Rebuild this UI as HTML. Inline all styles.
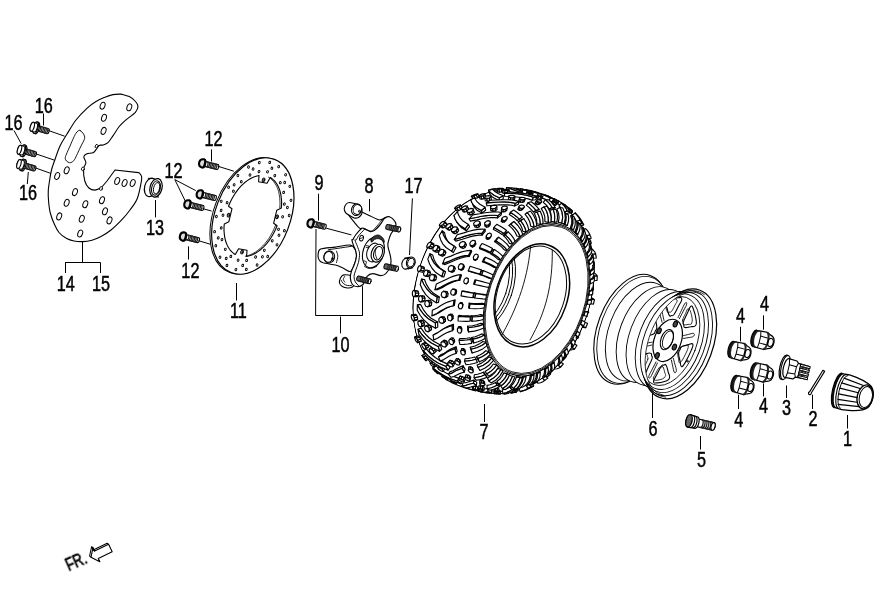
<!DOCTYPE html>
<html><head><meta charset="utf-8"><title>Front wheel parts diagram</title>
<style>
html,body{margin:0;padding:0;background:#fff;}
body{width:891px;height:602px;overflow:hidden;}
svg{display:block;}
svg text{font-family:"Liberation Sans",sans-serif;fill:#000;stroke-linejoin:miter;}
.lbl{opacity:0.999;}
.ld line{stroke:#000;stroke-width:1;stroke-linecap:butt;}
</style></head>
<body>
<svg width="891" height="602" viewBox="0 0 891 602" fill="none" stroke="#000" stroke-width="1.1" stroke-linecap="round" stroke-linejoin="round">
<rect x="0" y="0" width="891" height="602" fill="#fff" stroke="none"/>
<g id="guard">
<path d="M121.2,94.1C122.6,94.5 126.9,95.4 129.3,96.6C131.7,97.8 134.1,99.9 135.5,101.5C136.9,103.1 138,104.5 138,106.3C138,108.1 137.5,109.9 135.4,112.3C133.3,114.7 128,118 125.3,120.4C122.6,122.8 121.2,124 119.2,126.5C117.2,129 115,132.9 113.1,135.6C111.2,138.3 109.7,141 108,142.6C106.3,144.2 104.5,144.5 103,145C101.5,145.5 100.2,144.7 99,145.5C97.8,146.3 97,148.5 96,149.7C95,150.9 94.5,152 93,152.7C91.5,153.4 88.4,153 86.9,153.7C85.4,154.4 84,155.3 83.8,156.8C83.6,158.3 85.9,160.8 85.9,162.8C85.9,164.8 83.8,165.9 83.6,168.9C83.4,171.9 83.9,177.8 84.8,181C85.7,184.2 87.2,186.5 88.9,188C90.6,189.5 93,190.1 95,190.1C97,190.1 100,188.3 101,188 L107,181 L115,170 L138.5,172.6 L139.4,173C139.7,173.5 141.1,174.7 141.4,176C141.7,177.3 142.1,177.3 141.4,181C140.7,184.7 139.3,193.4 137.4,198.2C135.5,203 132.7,206.3 130,210C127.3,213.7 124.4,217.1 121.2,220.4C118,223.7 114.4,227.3 111,230C107.6,232.7 104.2,234.9 101,236.6C97.8,238.3 95,239.4 92,240.2C89,241 85.8,241.5 82.8,241.6C79.8,241.7 76.7,241.5 74,241C71.3,240.5 69.2,240 66.7,238.6C64.2,237.2 61,234.9 59,232.5C57,230.1 56,227.7 54.5,224.4C53,221.2 51.3,217 50.3,213C49.3,209 48.8,204 48.5,200.2C48.2,196.4 48.1,193.2 48.3,190C48.5,186.8 49,184.3 49.5,181C50,177.7 50.7,173.4 51.5,170C52.3,166.6 53.1,164.8 54.5,160.8C55.9,156.8 58,150.4 60,146C62,141.6 64,138.8 66.7,134.5C69.4,130.2 72.6,124.4 76,120C79.4,115.6 83.6,111.4 86.9,108.3C90.2,105.2 93,103.3 96,101.5C99,99.7 102.2,98.4 105,97.2C107.8,96 110.3,95.1 113,94.6C115.7,94.1 119.8,94.2 121.2,94.1" fill="#fff" stroke-width="1.1"/>
<path d="M80.2,130.5C81.1,131 82.8,132.7 83.5,134C84.2,135.3 85,136.5 84.6,138.5C84.2,140.5 82.2,143.5 81,146C79.8,148.5 78.6,151.2 77.5,153.5C76.4,155.8 75.3,158.4 74.4,159.8C73.5,161.2 72.8,161.5 72,162C71.2,162.5 70.4,162.9 69.5,162.7C68.6,162.5 67.2,161.8 66.5,161C65.8,160.2 65.2,159.4 65.2,158.2C65.2,157 65.7,156 66.5,154C67.3,152 68.8,148.7 70,146C71.2,143.3 72.5,140.1 73.5,138C74.5,135.9 75,134.7 75.8,133.5C76.5,132.3 77.3,131.5 78,131C78.7,130.5 79.3,130 80.2,130.5Z" stroke-width="0.9"/>
<ellipse cx="102.6" cy="105.7" rx="2.3" ry="3.6" stroke-width="1.0" transform="rotate(20 102.6 105.7)"/>
<ellipse cx="129.3" cy="107.3" rx="2.3" ry="3.6" stroke-width="1.0" transform="rotate(20 129.3 107.3)"/>
<ellipse cx="104" cy="117.8" rx="2.3" ry="3.6" stroke-width="1.0" transform="rotate(20 104 117.8)"/>
<ellipse cx="103.6" cy="130.9" rx="2.3" ry="3.6" stroke-width="1.0" transform="rotate(20 103.6 130.9)"/>
<ellipse cx="66.7" cy="170.3" rx="2.3" ry="3.6" stroke-width="1.0" transform="rotate(20 66.7 170.3)"/>
<ellipse cx="57.2" cy="176" rx="2.3" ry="3.6" stroke-width="1.0" transform="rotate(20 57.2 176)"/>
<ellipse cx="75" cy="192.1" rx="2.3" ry="3.6" stroke-width="1.0" transform="rotate(20 75 192.1)"/>
<ellipse cx="117.2" cy="181" rx="2.3" ry="3.6" stroke-width="1.0" transform="rotate(20 117.2 181)"/>
<ellipse cx="124.6" cy="183" rx="2.3" ry="3.6" stroke-width="1.0" transform="rotate(20 124.6 183)"/>
<ellipse cx="132.7" cy="183" rx="2.3" ry="3.6" stroke-width="1.0" transform="rotate(20 132.7 183)"/>
<ellipse cx="66.7" cy="202.8" rx="2.3" ry="3.6" stroke-width="1.0" transform="rotate(20 66.7 202.8)"/>
<ellipse cx="59.2" cy="216.4" rx="2.3" ry="3.6" stroke-width="1.0" transform="rotate(20 59.2 216.4)"/>
<ellipse cx="85.3" cy="204.2" rx="2.3" ry="3.6" stroke-width="1.0" transform="rotate(20 85.3 204.2)"/>
<ellipse cx="81.8" cy="218.8" rx="2.3" ry="3.6" stroke-width="1.0" transform="rotate(20 81.8 218.8)"/>
<ellipse cx="80.2" cy="233.5" rx="2.3" ry="3.6" stroke-width="1.0" transform="rotate(20 80.2 233.5)"/>
<ellipse cx="102" cy="200.2" rx="2.3" ry="3.6" stroke-width="1.0" transform="rotate(20 102 200.2)"/>
<ellipse cx="105" cy="211.3" rx="2.3" ry="3.6" stroke-width="1.0" transform="rotate(20 105 211.3)"/>
<ellipse cx="109.5" cy="220.4" rx="2.3" ry="3.6" stroke-width="1.0" transform="rotate(20 109.5 220.4)"/>
<ellipse cx="96.6" cy="146.3" rx="1.4" ry="1.9" fill="#fff" stroke-width="0.9" transform="rotate(20 96.6 146.3)"/>
<ellipse cx="82.9" cy="168.9" rx="1.4" ry="1.9" fill="#fff" stroke-width="0.9" transform="rotate(20 82.9 168.9)"/>
<ellipse cx="101" cy="188.5" rx="1.4" ry="1.9" fill="#fff" stroke-width="0.9" transform="rotate(20 101 188.5)"/>
<g transform="translate(36.8 128) rotate(16)" stroke-width="1.1" stroke="#000">
<path d="M0,-2.6 L11.5,-2.6 A1.2,2.6 0 0 1 11.5,2.6 L0,2.6 Z" fill="#fff"/>
<path d="M2.5,-2.6 A1.2,2.6 0 0 1 2.5,2.6" stroke-width="1.2" stroke="#222"/>
<path d="M4,-2.6 A1.2,2.6 0 0 1 4,2.6" stroke-width="1.2" stroke="#222"/>
<path d="M5.5,-2.6 A1.2,2.6 0 0 1 5.5,2.6" stroke-width="1.2" stroke="#222"/>
<path d="M7,-2.6 A1.2,2.6 0 0 1 7,2.6" stroke-width="1.2" stroke="#222"/>
<path d="M8.5,-2.6 A1.2,2.6 0 0 1 8.5,2.6" stroke-width="1.2" stroke="#222"/>
<path d="M10,-2.6 A1.2,2.6 0 0 1 10,2.6" stroke-width="1.2" stroke="#222"/>
<ellipse cx="0" cy="0" rx="2.3" ry="6" fill="#fff"/>
<ellipse cx="-1.2" cy="0" rx="2.3" ry="6" fill="#fff"/>
<path d="M-1.5,-4.6 L-4.7,-4.6 A1.9,4.6 0 0 0 -4.7,4.6 L-1.5,4.6 A1.9,4.6 0 0 0 -1.5,-4.6" fill="#fff"/>
<ellipse cx="-4.7" cy="0" rx="1.9" ry="4.6" fill="#fff"/>
</g>
<g transform="translate(24 151) rotate(16)" stroke-width="1.1" stroke="#000">
<path d="M0,-2.6 L11.5,-2.6 A1.2,2.6 0 0 1 11.5,2.6 L0,2.6 Z" fill="#fff"/>
<path d="M2.5,-2.6 A1.2,2.6 0 0 1 2.5,2.6" stroke-width="1.2" stroke="#222"/>
<path d="M4,-2.6 A1.2,2.6 0 0 1 4,2.6" stroke-width="1.2" stroke="#222"/>
<path d="M5.5,-2.6 A1.2,2.6 0 0 1 5.5,2.6" stroke-width="1.2" stroke="#222"/>
<path d="M7,-2.6 A1.2,2.6 0 0 1 7,2.6" stroke-width="1.2" stroke="#222"/>
<path d="M8.5,-2.6 A1.2,2.6 0 0 1 8.5,2.6" stroke-width="1.2" stroke="#222"/>
<path d="M10,-2.6 A1.2,2.6 0 0 1 10,2.6" stroke-width="1.2" stroke="#222"/>
<ellipse cx="0" cy="0" rx="2.3" ry="6" fill="#fff"/>
<ellipse cx="-1.2" cy="0" rx="2.3" ry="6" fill="#fff"/>
<path d="M-1.5,-4.6 L-4.7,-4.6 A1.9,4.6 0 0 0 -4.7,4.6 L-1.5,4.6 A1.9,4.6 0 0 0 -1.5,-4.6" fill="#fff"/>
<ellipse cx="-4.7" cy="0" rx="1.9" ry="4.6" fill="#fff"/>
</g>
<g transform="translate(23.5 165.3) rotate(16)" stroke-width="1.1" stroke="#000">
<path d="M0,-2.6 L11.5,-2.6 A1.2,2.6 0 0 1 11.5,2.6 L0,2.6 Z" fill="#fff"/>
<path d="M2.5,-2.6 A1.2,2.6 0 0 1 2.5,2.6" stroke-width="1.2" stroke="#222"/>
<path d="M4,-2.6 A1.2,2.6 0 0 1 4,2.6" stroke-width="1.2" stroke="#222"/>
<path d="M5.5,-2.6 A1.2,2.6 0 0 1 5.5,2.6" stroke-width="1.2" stroke="#222"/>
<path d="M7,-2.6 A1.2,2.6 0 0 1 7,2.6" stroke-width="1.2" stroke="#222"/>
<path d="M8.5,-2.6 A1.2,2.6 0 0 1 8.5,2.6" stroke-width="1.2" stroke="#222"/>
<path d="M10,-2.6 A1.2,2.6 0 0 1 10,2.6" stroke-width="1.2" stroke="#222"/>
<ellipse cx="0" cy="0" rx="2.3" ry="6" fill="#fff"/>
<ellipse cx="-1.2" cy="0" rx="2.3" ry="6" fill="#fff"/>
<path d="M-1.5,-4.6 L-4.7,-4.6 A1.9,4.6 0 0 0 -4.7,4.6 L-1.5,4.6 A1.9,4.6 0 0 0 -1.5,-4.6" fill="#fff"/>
<ellipse cx="-4.7" cy="0" rx="1.9" ry="4.6" fill="#fff"/>
</g>
<ellipse cx="150.6" cy="187.4" rx="6" ry="9.4" fill="#fff" stroke-width="1.2" transform="rotate(14 150.6 187.4)"/>
<path d="M148.4,178.3 L154.2,178.7 M153.0,196.5 L158.4,196.9" stroke-width="1.1"/>
<ellipse cx="156" cy="187.8" rx="6" ry="9.4" fill="#fff" stroke-width="1.2" transform="rotate(14 156 187.8)"/>
<ellipse cx="156" cy="188" rx="4.3" ry="7.3" stroke-width="1.0" transform="rotate(14 156 188)"/>
<ellipse cx="156.6" cy="188.2" rx="3" ry="5.8" stroke-width="0.9" transform="rotate(14 156.6 188.2)"/>
</g>
<g id="disc">
<ellipse cx="251.1" cy="215.8" rx="37.4" ry="60.6" fill="#fff" stroke-width="1.0" transform="rotate(21 251.1 215.8)"/>
<ellipse cx="252.8" cy="216" rx="37.4" ry="60.6" fill="#fff" stroke-width="1.2" transform="rotate(21 252.8 216)"/>
<path d="M259,175.5 L258.6,181.8 L267,183.3 L270.3,177.5 L272.2,178.8 L274,180.3 L275.6,182.2 L277,184.3 L278.3,186.6 L279.4,189.2 L280.2,192 L280.9,194.9 L281.3,198 L281.6,201.3 L281.6,204.7 L281.3,208.1 L281.3,208.1 L276.8,210.2 L273.6,223.3 L277.1,225.7 L275.4,229.7 L273.5,233.5 L271.3,237.2 L269,240.6 L266.5,243.8 L263.9,246.6 L261.1,249.2 L258.3,251.4 L255.4,253.3 L252.4,254.7 L249.5,255.8 L246.6,256.5 L246.6,256.5 L247,250.2 L238.6,248.7 L235.3,254.5 L233.4,253.2 L231.6,251.7 L230,249.8 L228.6,247.7 L227.3,245.4 L226.2,242.8 L225.4,240 L224.7,237.1 L224.3,234 L224,230.7 L224,227.3 L224.3,223.9 L224.3,223.9 L228.8,221.8 L232,208.7 L228.5,206.3 L230.2,202.3 L232.1,198.5 L234.3,194.8 L236.6,191.4 L239.1,188.2 L241.7,185.4 L244.5,182.8 L247.3,180.6 L250.2,178.7 L253.2,177.3 L256.1,176.2 L259,175.5Z" stroke-width="1.1"/>
<polyline points="268.5,177.2 270.4,178.4 272.2,180 273.8,181.8 275.3,183.9 276.6,186.2 277.7,188.7 278.6,191.5 279.2,194.4 279.7,197.5 279.9,200.8 280,204.1 279.8,207.6" stroke-width="0.8"/>
<polyline points="275.6,225.2 274.2,228.6 272.6,231.9 270.9,235.1 269,238.2 266.9,241 264.8,243.7 262.5,246.2 260.2,248.4 257.7,250.4 255.3,252.2 252.8,253.6 250.3,254.8 247.8,255.7 245.3,256.2" stroke-width="0.8"/>
<ellipse cx="263.6" cy="179.9" rx="1.3" ry="1.9" stroke-width="1.0" transform="rotate(21 263.6 179.9)"/>
<ellipse cx="263.9" cy="179.9" rx="0.6" ry="1" stroke-width="0.7" transform="rotate(21 263.9 179.9)"/>
<ellipse cx="277" cy="216.8" rx="1.3" ry="1.9" stroke-width="1.0" transform="rotate(21 277 216.8)"/>
<ellipse cx="277.3" cy="216.8" rx="0.6" ry="1" stroke-width="0.7" transform="rotate(21 277.3 216.8)"/>
<ellipse cx="242" cy="252.1" rx="1.3" ry="1.9" stroke-width="1.0" transform="rotate(21 242 252.1)"/>
<ellipse cx="242.3" cy="252.1" rx="0.6" ry="1" stroke-width="0.7" transform="rotate(21 242.3 252.1)"/>
<ellipse cx="228.6" cy="215.2" rx="1.3" ry="1.9" stroke-width="1.0" transform="rotate(21 228.6 215.2)"/>
<ellipse cx="228.9" cy="215.2" rx="0.6" ry="1" stroke-width="0.7" transform="rotate(21 228.9 215.2)"/>
<ellipse cx="278.5" cy="229.3" rx="0.9" ry="1.2" stroke-width="0.9" transform="rotate(21 278.5 229.3)"/>
<ellipse cx="279" cy="235.2" rx="0.9" ry="1.2" stroke-width="0.9" transform="rotate(21 279 235.2)"/>
<ellipse cx="284.4" cy="230.7" rx="0.9" ry="1.2" stroke-width="0.9" transform="rotate(21 284.4 230.7)"/>
<ellipse cx="272.2" cy="240.8" rx="0.9" ry="1.2" stroke-width="0.9" transform="rotate(21 272.2 240.8)"/>
<ellipse cx="277" cy="244.8" rx="0.9" ry="1.2" stroke-width="0.9" transform="rotate(21 277 244.8)"/>
<ellipse cx="264.3" cy="250.3" rx="0.9" ry="1.2" stroke-width="0.9" transform="rotate(21 264.3 250.3)"/>
<ellipse cx="262.4" cy="256.8" rx="0.9" ry="1.2" stroke-width="0.9" transform="rotate(21 262.4 256.8)"/>
<ellipse cx="267.7" cy="256.5" rx="0.9" ry="1.2" stroke-width="0.9" transform="rotate(21 267.7 256.5)"/>
<ellipse cx="255.6" cy="257" rx="0.9" ry="1.2" stroke-width="0.9" transform="rotate(21 255.6 257)"/>
<ellipse cx="257.1" cy="265" rx="0.9" ry="1.2" stroke-width="0.9" transform="rotate(21 257.1 265)"/>
<ellipse cx="246.6" cy="260.4" rx="0.9" ry="1.2" stroke-width="0.9" transform="rotate(21 246.6 260.4)"/>
<ellipse cx="242.7" cy="265.4" rx="0.9" ry="1.2" stroke-width="0.9" transform="rotate(21 242.7 265.4)"/>
<ellipse cx="246.3" cy="269.4" rx="0.9" ry="1.2" stroke-width="0.9" transform="rotate(21 246.3 269.4)"/>
<ellipse cx="238.1" cy="260.2" rx="0.9" ry="1.2" stroke-width="0.9" transform="rotate(21 238.1 260.2)"/>
<ellipse cx="235.9" cy="269.6" rx="0.9" ry="1.2" stroke-width="0.9" transform="rotate(21 235.9 269.6)"/>
<ellipse cx="230.8" cy="256.4" rx="0.9" ry="1.2" stroke-width="0.9" transform="rotate(21 230.8 256.4)"/>
<ellipse cx="226.2" cy="258.4" rx="0.9" ry="1.2" stroke-width="0.9" transform="rotate(21 226.2 258.4)"/>
<ellipse cx="226.9" cy="265.4" rx="0.9" ry="1.2" stroke-width="0.9" transform="rotate(21 226.9 265.4)"/>
<ellipse cx="225.3" cy="249.3" rx="0.9" ry="1.2" stroke-width="0.9" transform="rotate(21 225.3 249.3)"/>
<ellipse cx="220" cy="257.2" rx="0.9" ry="1.2" stroke-width="0.9" transform="rotate(21 220 257.2)"/>
<ellipse cx="222" cy="239.6" rx="0.9" ry="1.2" stroke-width="0.9" transform="rotate(21 222 239.6)"/>
<ellipse cx="218.2" cy="237.9" rx="0.9" ry="1.2" stroke-width="0.9" transform="rotate(21 218.2 237.9)"/>
<ellipse cx="215.8" cy="245.7" rx="0.9" ry="1.2" stroke-width="0.9" transform="rotate(21 215.8 245.7)"/>
<ellipse cx="221.2" cy="227.9" rx="0.9" ry="1.2" stroke-width="0.9" transform="rotate(21 221.2 227.9)"/>
<ellipse cx="214.6" cy="231.7" rx="0.9" ry="1.2" stroke-width="0.9" transform="rotate(21 214.6 231.7)"/>
<ellipse cx="223" cy="215.2" rx="0.9" ry="1.2" stroke-width="0.9" transform="rotate(21 223 215.2)"/>
<ellipse cx="221.1" cy="210.4" rx="0.9" ry="1.2" stroke-width="0.9" transform="rotate(21 221.1 210.4)"/>
<ellipse cx="216.4" cy="216.5" rx="0.9" ry="1.2" stroke-width="0.9" transform="rotate(21 216.4 216.5)"/>
<ellipse cx="227.1" cy="202.7" rx="0.9" ry="1.2" stroke-width="0.9" transform="rotate(21 227.1 202.7)"/>
<ellipse cx="221.2" cy="201.3" rx="0.9" ry="1.2" stroke-width="0.9" transform="rotate(21 221.2 201.3)"/>
<ellipse cx="233.4" cy="191.2" rx="0.9" ry="1.2" stroke-width="0.9" transform="rotate(21 233.4 191.2)"/>
<ellipse cx="234.1" cy="184.8" rx="0.9" ry="1.2" stroke-width="0.9" transform="rotate(21 234.1 184.8)"/>
<ellipse cx="228.6" cy="187.2" rx="0.9" ry="1.2" stroke-width="0.9" transform="rotate(21 228.6 187.2)"/>
<ellipse cx="241.3" cy="181.7" rx="0.9" ry="1.2" stroke-width="0.9" transform="rotate(21 241.3 181.7)"/>
<ellipse cx="237.9" cy="175.5" rx="0.9" ry="1.2" stroke-width="0.9" transform="rotate(21 237.9 175.5)"/>
<ellipse cx="250" cy="175" rx="0.9" ry="1.2" stroke-width="0.9" transform="rotate(21 250 175)"/>
<ellipse cx="253.1" cy="169" rx="0.9" ry="1.2" stroke-width="0.9" transform="rotate(21 253.1 169)"/>
<ellipse cx="248.5" cy="167" rx="0.9" ry="1.2" stroke-width="0.9" transform="rotate(21 248.5 167)"/>
<ellipse cx="259" cy="171.6" rx="0.9" ry="1.2" stroke-width="0.9" transform="rotate(21 259 171.6)"/>
<ellipse cx="259.3" cy="162.6" rx="0.9" ry="1.2" stroke-width="0.9" transform="rotate(21 259.3 162.6)"/>
<ellipse cx="267.5" cy="171.8" rx="0.9" ry="1.2" stroke-width="0.9" transform="rotate(21 267.5 171.8)"/>
<ellipse cx="271.9" cy="168.2" rx="0.9" ry="1.2" stroke-width="0.9" transform="rotate(21 271.9 168.2)"/>
<ellipse cx="269.7" cy="162.4" rx="0.9" ry="1.2" stroke-width="0.9" transform="rotate(21 269.7 162.4)"/>
<ellipse cx="274.8" cy="175.6" rx="0.9" ry="1.2" stroke-width="0.9" transform="rotate(21 274.8 175.6)"/>
<ellipse cx="278.7" cy="166.6" rx="0.9" ry="1.2" stroke-width="0.9" transform="rotate(21 278.7 166.6)"/>
<ellipse cx="280.3" cy="182.7" rx="0.9" ry="1.2" stroke-width="0.9" transform="rotate(21 280.3 182.7)"/>
<ellipse cx="284.7" cy="182.5" rx="0.9" ry="1.2" stroke-width="0.9" transform="rotate(21 284.7 182.5)"/>
<ellipse cx="285.6" cy="174.8" rx="0.9" ry="1.2" stroke-width="0.9" transform="rotate(21 285.6 174.8)"/>
<ellipse cx="283.6" cy="192.4" rx="0.9" ry="1.2" stroke-width="0.9" transform="rotate(21 283.6 192.4)"/>
<ellipse cx="289.8" cy="186.3" rx="0.9" ry="1.2" stroke-width="0.9" transform="rotate(21 289.8 186.3)"/>
<ellipse cx="284.4" cy="204.1" rx="0.9" ry="1.2" stroke-width="0.9" transform="rotate(21 284.4 204.1)"/>
<ellipse cx="287.4" cy="207.5" rx="0.9" ry="1.2" stroke-width="0.9" transform="rotate(21 287.4 207.5)"/>
<ellipse cx="291" cy="200.3" rx="0.9" ry="1.2" stroke-width="0.9" transform="rotate(21 291 200.3)"/>
<ellipse cx="282.6" cy="216.8" rx="0.9" ry="1.2" stroke-width="0.9" transform="rotate(21 282.6 216.8)"/>
<ellipse cx="289.2" cy="215.5" rx="0.9" ry="1.2" stroke-width="0.9" transform="rotate(21 289.2 215.5)"/>
<g transform="translate(201.4 163) rotate(14)" stroke-width="1.1" stroke="#000">
<path d="M3,-2.5 L16.5,-2.5 A1.2,2.5 0 0 1 16.5,2.5 L3,2.5 Z" fill="#fff"/>
<path d="M5.5,-2.5 A1.2,2.5 0 0 1 5.5,2.5" stroke-width="1.25" stroke="#222"/>
<path d="M7,-2.5 A1.2,2.5 0 0 1 7,2.5" stroke-width="1.25" stroke="#222"/>
<path d="M8.5,-2.5 A1.2,2.5 0 0 1 8.5,2.5" stroke-width="1.25" stroke="#222"/>
<path d="M10,-2.5 A1.2,2.5 0 0 1 10,2.5" stroke-width="1.25" stroke="#222"/>
<path d="M11.5,-2.5 A1.2,2.5 0 0 1 11.5,2.5" stroke-width="1.25" stroke="#222"/>
<path d="M13,-2.5 A1.2,2.5 0 0 1 13,2.5" stroke-width="1.25" stroke="#222"/>
<path d="M14.5,-2.5 A1.2,2.5 0 0 1 14.5,2.5" stroke-width="1.25" stroke="#222"/>
<ellipse cx="2.2" cy="0" rx="2" ry="4.2" fill="#fff" stroke-width="1.5"/>
<path d="M1.6,-4.2 C-3.6,-3.8 -3.6,3.8 1.6,4.2 A2,4.2 0 0 0 1.6,-4.2 Z" fill="#ddd" stroke-width="2.1"/>
</g>
<g transform="translate(199 194) rotate(14)" stroke-width="1.1" stroke="#000">
<path d="M3,-2.5 L16.5,-2.5 A1.2,2.5 0 0 1 16.5,2.5 L3,2.5 Z" fill="#fff"/>
<path d="M5.5,-2.5 A1.2,2.5 0 0 1 5.5,2.5" stroke-width="1.25" stroke="#222"/>
<path d="M7,-2.5 A1.2,2.5 0 0 1 7,2.5" stroke-width="1.25" stroke="#222"/>
<path d="M8.5,-2.5 A1.2,2.5 0 0 1 8.5,2.5" stroke-width="1.25" stroke="#222"/>
<path d="M10,-2.5 A1.2,2.5 0 0 1 10,2.5" stroke-width="1.25" stroke="#222"/>
<path d="M11.5,-2.5 A1.2,2.5 0 0 1 11.5,2.5" stroke-width="1.25" stroke="#222"/>
<path d="M13,-2.5 A1.2,2.5 0 0 1 13,2.5" stroke-width="1.25" stroke="#222"/>
<path d="M14.5,-2.5 A1.2,2.5 0 0 1 14.5,2.5" stroke-width="1.25" stroke="#222"/>
<ellipse cx="2.2" cy="0" rx="2" ry="4.2" fill="#fff" stroke-width="1.5"/>
<path d="M1.6,-4.2 C-3.6,-3.8 -3.6,3.8 1.6,4.2 A2,4.2 0 0 0 1.6,-4.2 Z" fill="#ddd" stroke-width="2.1"/>
</g>
<g transform="translate(186.6 204) rotate(14)" stroke-width="1.1" stroke="#000">
<path d="M3,-2.5 L16.5,-2.5 A1.2,2.5 0 0 1 16.5,2.5 L3,2.5 Z" fill="#fff"/>
<path d="M5.5,-2.5 A1.2,2.5 0 0 1 5.5,2.5" stroke-width="1.25" stroke="#222"/>
<path d="M7,-2.5 A1.2,2.5 0 0 1 7,2.5" stroke-width="1.25" stroke="#222"/>
<path d="M8.5,-2.5 A1.2,2.5 0 0 1 8.5,2.5" stroke-width="1.25" stroke="#222"/>
<path d="M10,-2.5 A1.2,2.5 0 0 1 10,2.5" stroke-width="1.25" stroke="#222"/>
<path d="M11.5,-2.5 A1.2,2.5 0 0 1 11.5,2.5" stroke-width="1.25" stroke="#222"/>
<path d="M13,-2.5 A1.2,2.5 0 0 1 13,2.5" stroke-width="1.25" stroke="#222"/>
<path d="M14.5,-2.5 A1.2,2.5 0 0 1 14.5,2.5" stroke-width="1.25" stroke="#222"/>
<ellipse cx="2.2" cy="0" rx="2" ry="4.2" fill="#fff" stroke-width="1.5"/>
<path d="M1.6,-4.2 C-3.6,-3.8 -3.6,3.8 1.6,4.2 A2,4.2 0 0 0 1.6,-4.2 Z" fill="#ddd" stroke-width="2.1"/>
</g>
<g transform="translate(182.2 236.2) rotate(14)" stroke-width="1.1" stroke="#000">
<path d="M3,-2.5 L16.5,-2.5 A1.2,2.5 0 0 1 16.5,2.5 L3,2.5 Z" fill="#fff"/>
<path d="M5.5,-2.5 A1.2,2.5 0 0 1 5.5,2.5" stroke-width="1.25" stroke="#222"/>
<path d="M7,-2.5 A1.2,2.5 0 0 1 7,2.5" stroke-width="1.25" stroke="#222"/>
<path d="M8.5,-2.5 A1.2,2.5 0 0 1 8.5,2.5" stroke-width="1.25" stroke="#222"/>
<path d="M10,-2.5 A1.2,2.5 0 0 1 10,2.5" stroke-width="1.25" stroke="#222"/>
<path d="M11.5,-2.5 A1.2,2.5 0 0 1 11.5,2.5" stroke-width="1.25" stroke="#222"/>
<path d="M13,-2.5 A1.2,2.5 0 0 1 13,2.5" stroke-width="1.25" stroke="#222"/>
<path d="M14.5,-2.5 A1.2,2.5 0 0 1 14.5,2.5" stroke-width="1.25" stroke="#222"/>
<ellipse cx="2.2" cy="0" rx="2" ry="4.2" fill="#fff" stroke-width="1.5"/>
<path d="M1.6,-4.2 C-3.6,-3.8 -3.6,3.8 1.6,4.2 A2,4.2 0 0 0 1.6,-4.2 Z" fill="#ddd" stroke-width="2.1"/>
</g>
</g>
<g id="hub">
<path d="M348.5,214.8C349.2,215.8 351.2,218.5 353,220.6C354.7,222.8 358.2,226.6 359.2,227.8 L361.9,228.5 L370,231.9 L374.5,230.5 L379.9,225.1 L384.8,218.4 L388.9,216.6 L385.3,217.5 L381.7,219.3 L377.2,219.3 L369.1,215.4 L361.9,212.1Z" fill="#fff" stroke-width="1.1" stroke="none"/>
<path d="M361.9,212.1C363.4,212.8 366.1,214 369.1,215.4C372.2,216.9 375,218.4 377.2,219.3C379.3,220.2 378.8,220 379.9,219.9C381,219.9 381.5,219.5 382.6,219C383.7,218.5 384,218 385.3,217.5C386.5,217 388.1,216.8 388.9,216.6" stroke-width="1.1"/>
<path d="M348.5,214.8C349.1,215.6 351.5,218.9 353,220.6C354.4,222.4 358,226.8 359.2,227.8C360.4,228.9 361.6,228.5 361.9,228.5" stroke-width="1.1"/>
<path d="M361.9,228.5C362.8,228.9 364.7,229.8 366.4,230.5C368.1,231.2 368.8,232 370.5,232C372.1,232 372.6,231.9 374.5,230.5C376.4,229.1 378.1,227.2 379.9,225.1C381.7,223.1 382.2,221.7 383.5,220.2C384.7,218.7 385.6,218.3 386.2,217.8" stroke-width="1.0"/>
<path d="M365.1,228.9C366.1,229.3 368.8,230.8 370.5,231C372.2,231.1 372,231 373.6,229.6C375.2,228.3 376.7,226.4 378.5,224.2C380.3,222.1 381.8,220.1 382.6,219" stroke-width="0.8"/>
<path d="M349.8,202.5C347.9,202.4 347.1,203 346.2,204C345.3,205 344.4,207.1 344.2,208.5C344.1,209.9 344.9,211.5 345.6,212.6C346.3,213.6 347,213.9 348.5,214.8C349.9,215.7 352.6,217.5 354.3,218C356,218.4 357.3,218.1 358.5,217.5C359.7,216.9 360.9,215.3 361.5,214.4C362,213.5 361.9,213.2 361.9,212.1C362,211.1 362.2,209.3 361.8,208.1C361.3,206.9 359.9,205.5 359.2,204.9C358.6,204.3 359.5,204.9 357.9,204.5C356.3,204.1 351.8,202.6 349.8,202.5Z" fill="#fff" stroke-width="1.1"/>
<ellipse cx="356.5" cy="209.7" rx="5" ry="5.9" fill="#fff" stroke-width="1.0" transform="rotate(15 356.5 209.7)"/>
<ellipse cx="357.3" cy="209.5" rx="4.2" ry="5" fill="#fff" stroke-width="1.0" transform="rotate(15 357.3 209.5)"/>
<ellipse cx="359.4" cy="211.3" rx="0.9" ry="1.2" stroke-width="0.8" transform="rotate(15 359.4 211.3)"/>
<path d="M320.6,249.1C323.2,248 330.8,247.7 335.3,247.1C339.7,246.5 347.4,244.6 350.4,245.1C353.4,245.5 354.5,248.5 355.5,250.1C356.4,251.8 356.6,254.1 356.5,256.2C356.3,258.3 355.4,262 354.4,264.3C353.5,266.6 352.1,270.7 350.4,271.4C348.7,272 345.5,269.2 343.3,268.3C341.2,267.4 339.3,266.1 336.3,265.3C333.2,264.5 325.7,263.5 323.1,262.8C320.6,262 320.1,261.5 319.3,260.2C318.5,259 317.9,256.4 318.1,254.7C318.3,253 318,250.3 320.6,249.1Z" fill="#fff" stroke-width="1.1"/>
<line x1="328.2" y1="249.8" x2="351.4" y2="246.3" stroke-width="0.9"/>
<ellipse cx="329.2" cy="256.9" rx="5.4" ry="6" fill="#fff" stroke-width="1.0" transform="rotate(12 329.2 256.9)"/>
<path d="M336.5,251.2C336.7,252 337.8,254.3 337.8,256.2C337.8,258.1 336.7,261.4 336.5,262.5" stroke-width="0.9"/>
<ellipse cx="328.5" cy="256.9" rx="4.4" ry="5.5" fill="#fff" stroke-width="1.0" transform="rotate(12 328.5 256.9)"/>
<ellipse cx="332.4" cy="258.7" rx="0.9" ry="1.3" stroke-width="0.8" transform="rotate(12 332.4 258.7)"/>
<path d="M343.8,274.9C341.8,275.2 341,277.1 340.3,278.4C339.6,279.8 339.2,281.6 339.5,283C339.8,284.3 341,285.7 342.3,286.5C343.6,287.3 345.7,287.9 347.4,288C349.1,288.1 351.2,287.8 352.4,287C353.6,286.3 354.4,285.2 354.4,283.5C354.4,281.7 354.2,277.8 352.4,276.4C350.7,275 345.9,274.6 343.8,274.9Z" fill="#fff" stroke-width="1.1"/>
<path d="M341.3,280.4C341.6,280.9 342.3,282.6 343.3,283.5C344.3,284.3 346,285.2 347.4,285.5C348.7,285.8 350.7,285.5 351.4,285.5" stroke-width="0.9"/>
<path d="M344.8,276.4C344.6,276.9 343.3,278.5 343.3,279.4C343.3,280.4 344.6,281.5 344.8,282" stroke-width="0.9"/>
<path d="M361.9,228.3C363.4,227.3 363.2,228.4 364.6,228.9C366,229.5 368.8,231.4 370.5,231.6C372.1,231.8 372.9,231.4 374.5,230.3C376.1,229.2 378.3,226.8 379.9,225C381.5,223.1 382.8,220.3 383.9,219C385,217.7 385.7,217.4 386.6,217.1C387.5,216.7 388.2,216.3 389.3,216.7C390.4,217.1 392.2,218 393.3,219.3C394.5,220.6 396,222.5 396,224.2C396.1,226 394.7,227.9 393.8,229.6C392.9,231.3 391.6,232.6 390.7,234.6C389.8,236.5 388.9,239.3 388.4,241.3C388,243.3 387.6,243.8 388,246.6C388.4,249.4 390.4,254.9 390.8,258.2C391.2,261.5 391.1,263.7 390.3,266.3C389.5,268.9 387.4,272 385.8,273.6C384.2,275.1 382.9,275.6 380.7,275.6C378.5,275.6 374.9,273.4 372.6,273.6C370.4,273.7 368.7,274.6 367.1,276.4C365.5,278.2 364.6,282.8 363,284.5C361.4,286.2 359.2,286.7 357.5,286.7C355.7,286.7 353.6,285.9 352.4,284.5C351.2,283.1 350.6,280.6 350.4,278.4C350.2,276.2 350.7,273.7 351.4,271.4C352.1,269 353.6,266.8 354.4,264.3C355.3,261.8 356.3,258.6 356.5,256.2C356.6,253.8 356,252 355.5,250.1C354.9,248.3 354,246.8 353.4,245.1C352.8,243.4 352,241 351.9,240C351.8,239.1 352.3,240.3 353,239.5C353.6,238.7 354.2,236.9 355.6,235C357.1,233.1 360.4,229.3 361.9,228.3Z" fill="#fff" stroke-width="1.15"/>
<path d="M364.6,229.2C363.6,230.3 359.9,234.1 358.5,235.9C357.1,237.7 356.9,239.3 356.3,239.9C355.7,240.6 354.8,239 354.9,240C355.1,241.1 356.5,243.9 357.3,246.1C358,248.3 359.3,250.5 359.5,253.2C359.7,255.9 359.1,259.4 358.5,262.3C357.8,265.1 356.4,268 355.7,270.3C354.9,272.7 354.1,274.5 354,276.4C354,278.3 354.5,280.4 355.3,282C356,283.5 357.9,284.9 358.5,285.5" stroke-width="0.95"/>
<ellipse cx="361.5" cy="238.2" rx="1.9" ry="2.9" stroke-width="1.0" transform="rotate(15 361.5 238.2)"/>
<line x1="360.1" y1="238.6" x2="362.6" y2="237.7" stroke-width="0.7"/>
<ellipse cx="373.4" cy="252.2" rx="10.3" ry="16" fill="#fff" stroke-width="1.1" transform="rotate(18 373.4 252.2)"/>
<path d="M370.9,239.5C371.4,238.5 373.2,236.6 374.5,235.9C375.8,235.2 377.6,234.8 379,235.2C380.4,235.6 382.1,237 383,238.2C383.9,239.3 384.6,241.9 384.4,242.2C384.1,242.5 382.7,240.5 381.7,239.9C380.6,239.3 379.3,238.7 378.1,238.6C376.9,238.5 375.5,238.9 374.5,239.5C373.5,240.1 372.4,242.2 371.8,242.2C371.2,242.2 370.5,240.5 370.9,239.5Z" fill="#333" stroke-width="0.8"/>
<ellipse cx="373.6" cy="252.5" rx="6.6" ry="9.6" fill="#fff" stroke-width="1.0" transform="rotate(18 373.6 252.5)"/>
<ellipse cx="377.7" cy="253.2" rx="6.2" ry="9.2" fill="#fff" stroke-width="1.1" transform="rotate(18 377.7 253.2)"/>
<ellipse cx="378" cy="253.2" rx="4.2" ry="6.9" fill="#fff" stroke-width="1.0" transform="rotate(18 378 253.2)"/>
<path d="M376.2,248.1C376,249 375,251.4 375.2,253.2C375.3,254.9 376.6,257.8 376.9,258.7" stroke-width="0.9"/>
<polyline points="366.1,245.6 369.1,246.1 368.6,247.9 366.1,247.3" stroke-width="0.8"/>
<polyline points="364,260.7 366.6,261.8 365.4,265.3" stroke-width="0.8"/>
<path d="M364.5,266.3C365.1,266.6 366.7,268 368.1,268.3C369.4,268.6 371.2,268.5 372.6,268.1C374.1,267.8 376,266.6 376.7,266.3" stroke-width="0.9"/>
<g transform="translate(387.1 226.9) rotate(12)" stroke="#000" stroke-width="1">
<path d="M0,-2.5 L12.5,-2.5 A1.3,2.5 0 0 1 12.5,2.5 L0,2.5 A1.3,2.5 0 0 1 0,-2.5 Z" fill="#666"/>
<path d="M1.5,-2.5 A1.3,2.5 0 0 1 1.5,2.5" stroke="#222" stroke-width="1.1"/>
<path d="M3.3,-2.5 A1.3,2.5 0 0 1 3.3,2.5" stroke="#222" stroke-width="1.1"/>
<path d="M5.1,-2.5 A1.3,2.5 0 0 1 5.1,2.5" stroke="#222" stroke-width="1.1"/>
<path d="M6.9,-2.5 A1.3,2.5 0 0 1 6.9,2.5" stroke="#222" stroke-width="1.1"/>
<path d="M8.7,-2.5 A1.3,2.5 0 0 1 8.7,2.5" stroke="#222" stroke-width="1.1"/>
<ellipse cx="12.5" cy="0" rx="1.3" ry="2.5" fill="#fff" stroke-width="0.9"/>
</g>
<g transform="translate(385.3 266.3) rotate(12)" stroke="#000" stroke-width="1">
<path d="M0,-2.5 L12,-2.5 A1.3,2.5 0 0 1 12,2.5 L0,2.5 A1.3,2.5 0 0 1 0,-2.5 Z" fill="#666"/>
<path d="M1.5,-2.5 A1.3,2.5 0 0 1 1.5,2.5" stroke="#222" stroke-width="1.1"/>
<path d="M3.3,-2.5 A1.3,2.5 0 0 1 3.3,2.5" stroke="#222" stroke-width="1.1"/>
<path d="M5.1,-2.5 A1.3,2.5 0 0 1 5.1,2.5" stroke="#222" stroke-width="1.1"/>
<path d="M6.9,-2.5 A1.3,2.5 0 0 1 6.9,2.5" stroke="#222" stroke-width="1.1"/>
<path d="M8.7,-2.5 A1.3,2.5 0 0 1 8.7,2.5" stroke="#222" stroke-width="1.1"/>
<ellipse cx="12" cy="0" rx="1.3" ry="2.5" fill="#fff" stroke-width="0.9"/>
</g>
<g transform="translate(358 278.4) rotate(14)" stroke="#000" stroke-width="1">
<path d="M0,-2.5 L12,-2.5 A1.3,2.5 0 0 1 12,2.5 L0,2.5 A1.3,2.5 0 0 1 0,-2.5 Z" fill="#666"/>
<path d="M1.5,-2.5 A1.3,2.5 0 0 1 1.5,2.5" stroke="#222" stroke-width="1.1"/>
<path d="M3.3,-2.5 A1.3,2.5 0 0 1 3.3,2.5" stroke="#222" stroke-width="1.1"/>
<path d="M5.1,-2.5 A1.3,2.5 0 0 1 5.1,2.5" stroke="#222" stroke-width="1.1"/>
<path d="M6.9,-2.5 A1.3,2.5 0 0 1 6.9,2.5" stroke="#222" stroke-width="1.1"/>
<path d="M8.7,-2.5 A1.3,2.5 0 0 1 8.7,2.5" stroke="#222" stroke-width="1.1"/>
<ellipse cx="12" cy="0" rx="1.3" ry="2.5" fill="#fff" stroke-width="0.9"/>
</g>
<g transform="translate(309.8 223) rotate(14)" stroke-width="1.1" stroke="#000">
<path d="M3,-2.5 L15.5,-2.5 A1.2,2.5 0 0 1 15.5,2.5 L3,2.5 Z" fill="#fff"/>
<path d="M5.5,-2.5 A1.2,2.5 0 0 1 5.5,2.5" stroke-width="1.25" stroke="#222"/>
<path d="M6.8,-2.5 A1.2,2.5 0 0 1 6.8,2.5" stroke-width="1.25" stroke="#222"/>
<path d="M8.2,-2.5 A1.2,2.5 0 0 1 8.2,2.5" stroke-width="1.25" stroke="#222"/>
<path d="M9.5,-2.5 A1.2,2.5 0 0 1 9.5,2.5" stroke-width="1.25" stroke="#222"/>
<path d="M10.8,-2.5 A1.2,2.5 0 0 1 10.8,2.5" stroke-width="1.25" stroke="#222"/>
<path d="M12.2,-2.5 A1.2,2.5 0 0 1 12.2,2.5" stroke-width="1.25" stroke="#222"/>
<path d="M13.5,-2.5 A1.2,2.5 0 0 1 13.5,2.5" stroke-width="1.25" stroke="#222"/>
<ellipse cx="2.2" cy="0" rx="2" ry="4.2" fill="#fff" stroke-width="1.5"/>
<path d="M1.6,-4.2 C-3.6,-3.8 -3.6,3.8 1.6,4.2 A2,4.2 0 0 0 1.6,-4.2 Z" fill="#ddd" stroke-width="2.1"/>
</g>
<ellipse cx="406.2" cy="263.6" rx="4.3" ry="5.6" fill="#fff" stroke-width="1.1" transform="rotate(18 406.2 263.6)"/>
<line x1="404.6" y1="258.4" x2="409.6" y2="257.2" stroke-width="1.1"/>
<line x1="408" y1="268.9" x2="412.6" y2="267.8" stroke-width="1.1"/>
<ellipse cx="410.8" cy="262.5" rx="4.3" ry="5.6" fill="#fff" stroke-width="1.1" transform="rotate(18 410.8 262.5)"/>
<ellipse cx="411" cy="262.5" rx="3.2" ry="4.5" stroke-width="0.9" transform="rotate(18 411 262.5)"/>
</g>
<g id="tire">
<g stroke-width="1.15" stroke="#000">
<polygon points="536.1,298.2 535.4,300.6 535.7,300.7 536.4,298.3" fill="#fff"/>
<polygon points="535.4,300.6 536.7,302.6 536.8,302.5 535.7,300.7" fill="#fff"/>
<polygon points="538.4,297.2 536.1,298.2 536.4,298.3 538.4,297.3" fill="#fff"/>
<polygon points="536.7,302.6 539.7,303.4 539.4,303.2 536.8,302.5" fill="#fff"/>
<polygon points="541.4,297.9 538.4,297.2 538.4,297.3 541.1,297.9" fill="#fff"/>
<polygon points="539.7,303.4 542.1,302.4 541.6,302.2 539.4,303.2" fill="#fff"/>
<polygon points="542.8,299.9 541.4,297.9 541.1,297.9 542.3,299.8" fill="#fff"/>
<polygon points="542.1,302.4 542.8,299.9 542.3,299.8 541.6,302.2" fill="#fff"/>
<polygon points="526.9,321.8 525.8,324 526.3,323.4 527.4,321.3" fill="#fff"/>
<polygon points="525.8,324 526.8,326 527.1,325.3 526.3,323.4" fill="#fff"/>
<polygon points="526.8,326 529.6,327.2 529.7,326.3 527.1,325.3" fill="#fff"/>
<polygon points="532.1,326.5 533.3,324.2 533.1,323.4 532,325.6" fill="#fff"/>
<polygon points="529.6,327.2 532.1,326.5 532,325.6 529.7,326.3" fill="#fff"/>
<polygon points="541.4,273.7 541,276.1 541.2,276.8 541.5,274.4" fill="#fff"/>
<polygon points="543.4,272.4 541.4,273.7 541.5,274.4 543.3,273.2" fill="#fff"/>
<polygon points="546.5,272.8 543.4,272.4 543.3,273.2 546,273.5" fill="#fff"/>
<polygon points="547.9,277.1 548.2,274.6 547.6,275.3 547.2,277.7" fill="#fff"/>
<polygon points="548.2,274.6 546.5,272.8 546,273.5 547.6,275.3" fill="#fff"/>
<polygon points="549.6,303.3 551.8,303.9 550.5,303.6 548.5,303" fill="#fff"/>
<polygon points="553.5,298.2 551.2,297.7 550.1,297.5 552.1,298.1" fill="#fff"/>
<polygon points="551.8,303.9 553.7,302.7 552.3,302.4 550.5,303.6" fill="#fff"/>
<polygon points="554.4,300.1 553.5,298.2 552.1,298.1 553,299.9" fill="#fff"/>
<polygon points="553.7,302.7 554.4,300.1 553,299.9 552.3,302.4" fill="#fff"/>
<polygon points="539.6,328 541.8,328.7 540.8,327.6 538.8,326.9" fill="#fff"/>
<polygon points="545,325.3 544.3,323.4 543.3,322.5 543.9,324.3" fill="#fff"/>
<polygon points="541.8,328.7 543.8,327.7 542.7,326.6 540.8,327.6" fill="#fff"/>
<polygon points="543.8,327.7 545,325.3 543.9,324.3 542.7,326.6" fill="#fff"/>
<polygon points="514.2,342.7 512.8,344.6 513.7,343.5 515.1,341.7" fill="#fff"/>
<polygon points="512.8,344.6 513.5,346.6 514.2,345.4 513.7,343.5" fill="#fff"/>
<polygon points="513.5,346.6 516.2,348.1 516.6,346.6 514.2,345.4" fill="#fff"/>
<polygon points="518.8,347.7 520.2,345.8 520.4,344.4 519,346.3" fill="#fff"/>
<polygon points="516.2,348.1 518.8,347.7 519,346.3 516.6,346.6" fill="#fff"/>
<polygon points="557.6,278 559.2,276.7 557.6,277.2 556.1,278.4" fill="#fff"/>
<polygon points="558.2,272.3 556,271.9 554.7,272.5 556.8,272.9" fill="#fff"/>
<polygon points="559.2,276.7 559.5,274.2 557.9,274.7 557.6,277.2" fill="#fff"/>
<polygon points="559.5,274.2 558.2,272.3 556.8,272.9 557.9,274.7" fill="#fff"/>
<polygon points="541.9,318.6 548,315.8 553.9,313.6 560,312.1 567.5,311.7 565.4,311 558.1,311.4 552.3,312.9 546.7,315 541.1,317.8" fill="#fff"/>
<polygon points="567.5,311.7 569.2,306.1 567.1,305.6 565.4,311" fill="#fff"/>
<polygon points="562.5,297.8 560.3,297.2 558.6,297 560.7,297.5" fill="#fff"/>
<polygon points="560.9,303.5 562.8,302.3 560.9,301.9 559.2,303.1" fill="#fff"/>
<polygon points="563.5,299.7 562.5,297.8 560.7,297.5 561.6,299.4" fill="#fff"/>
<polygon points="562.8,302.3 563.5,299.7 561.6,299.4 560.9,301.9" fill="#fff"/>
<polygon points="549.1,328.1 551.2,328.7 549.7,327.5 547.7,327" fill="#fff"/>
<polygon points="554.4,325.2 553.7,323.3 552.1,322.3 552.8,324.1" fill="#fff"/>
<polygon points="551.2,328.7 553.3,327.6 551.7,326.5 549.7,327.5" fill="#fff"/>
<polygon points="553.3,327.6 554.4,325.2 552.8,324.1 551.7,326.5" fill="#fff"/>
<polygon points="550.4,293.3 555.8,290.1 561.2,287.6 566.8,285.9 573.9,285.5 571.6,285.6 564.7,286.1 559.4,287.7 554.3,290.2 549.2,293.4" fill="#fff"/>
<polygon points="573.9,285.5 574.7,279.9 572.4,280.2 571.6,285.6" fill="#fff"/>
<polygon points="542.2,249.8 542.3,252.1 542.4,253.4 542.3,251.2" fill="#fff"/>
<polygon points="544,248.4 542.2,249.8 542.3,251.2 543.8,249.9" fill="#fff"/>
<polygon points="549.2,252.4 549.1,250.1 548.4,251.4 548.5,253.7" fill="#fff"/>
<polygon points="547,248.5 544,248.4 543.8,249.9 546.6,249.9" fill="#fff"/>
<polygon points="549.1,250.1 547,248.5 546.6,249.9 548.4,251.4" fill="#fff"/>
<polygon points="529.6,341.6 536.2,339.5 542.6,337.8 549,336.7 556.8,336.5 555.1,335 547.5,335.2 541.3,336.3 535.3,338 529.2,340.1" fill="#fff"/>
<polygon points="556.8,336.5 559.4,331.4 557.6,330.1 555.1,335" fill="#fff"/>
<polygon points="531.9,347.8 531.4,346.1 530.8,344.5 531.2,346.1" fill="#fff"/>
<polygon points="526.1,349.8 528.2,350.6 527.6,348.8 525.7,348.1" fill="#fff"/>
<polygon points="530.4,349.9 531.9,347.8 531.2,346.1 529.7,348.1" fill="#fff"/>
<polygon points="528.2,350.6 530.4,349.9 529.7,348.1 527.6,348.8" fill="#fff"/>
<polygon points="566.3,277.3 567.9,276.1 565.9,276.5 564.4,277.7" fill="#fff"/>
<polygon points="566.9,271.6 564.7,271.1 562.8,271.7 564.9,272.2" fill="#fff"/>
<polygon points="567.9,276.1 568.1,273.5 566.1,274 565.9,276.5" fill="#fff"/>
<polygon points="568.1,273.5 566.9,271.6 564.9,272.2 566.1,274" fill="#fff"/>
<polygon points="541.5,348.3 541,346.6 539.9,344.9 540.3,346.5" fill="#fff"/>
<polygon points="535.7,350.6 537.8,351.2 536.7,349.4 534.7,348.8" fill="#fff"/>
<polygon points="540.1,350.4 541.5,348.3 540.3,346.5 538.9,348.5" fill="#fff"/>
<polygon points="537.8,351.2 540.1,350.4 538.9,348.5 536.7,349.4" fill="#fff"/>
<polygon points="556.1,247.1 554.9,248.3 553.7,249.7 554.8,248.5" fill="#fff"/>
<polygon points="558.7,252.7 560,251.5 558.5,252.7 557.2,253.9" fill="#fff"/>
<polygon points="558.4,247.4 556.1,247.1 554.8,248.5 556.9,248.8" fill="#fff"/>
<polygon points="560,251.5 559.9,249.1 558.3,250.4 558.5,252.7" fill="#fff"/>
<polygon points="559.9,249.1 558.4,247.4 556.9,248.8 558.3,250.4" fill="#fff"/>
<polygon points="575.5,254.4 568.8,254.7 563.9,256.4 559.3,258.9 554.7,262.3 553.4,263.3 557.7,260 562,257.5 566.7,255.9 573.1,255.6" fill="#fff"/>
<polygon points="575.7,259.7 575.5,254.4 573.1,255.6 573.4,260.7" fill="#fff"/>
<polygon points="497.4,361.1 497.8,363 499,361.3 498.7,359.5" fill="#fff"/>
<polygon points="502.9,364.7 504.5,363.3 505.2,361.3 503.5,362.8" fill="#fff"/>
<polygon points="497.8,363 500.3,364.6 501.1,362.7 499,361.3" fill="#fff"/>
<polygon points="500.3,364.6 502.9,364.7 503.5,362.8 501.1,362.7" fill="#fff"/>
<polygon points="514.4,360.8 521.2,359.7 527.9,358.7 534.6,358.1 542.6,358.2 541.4,356 533.5,355.9 527.1,356.5 520.8,357.5 514.4,358.7" fill="#fff"/>
<polygon points="542.6,358.2 545.9,353.9 544.5,351.9 541.4,356" fill="#fff"/>
<polygon points="569.5,319.7 571.4,320.2 569.2,319.3 567.4,318.8" fill="#fff"/>
<polygon points="574,316.4 573.4,314.6 571.2,313.9 571.7,315.6" fill="#fff"/>
<polygon points="571.4,320.2 573.1,318.9 570.8,318.1 569.2,319.3" fill="#fff"/>
<polygon points="573.1,318.9 574,316.4 571.7,315.6 570.8,318.1" fill="#fff"/>
<polygon points="509.8,365.9 509.9,367.4 510,365.1 509.9,363.7" fill="#fff"/>
<polygon points="514.3,367.8 516,366.3 515.7,364 514.1,365.5" fill="#fff"/>
<polygon points="509.9,367.4 512,368.3 511.9,365.9 510,365.1" fill="#fff"/>
<polygon points="512,368.3 514.3,367.8 514.1,365.5 511.9,365.9" fill="#fff"/>
<polygon points="583.1,310.7 581.4,308.9 579.7,306.5 577.8,303.6 575.7,300.2 573.2,296.1 569.5,291.3 567.3,291.3 571,296 573.3,299.9 575.3,303.2 577.1,306 578.7,308.3 580.2,310" fill="#fff"/>
<polygon points="581.3,316.1 583.1,310.7 580.2,310 578.5,315.2" fill="#fff"/>
<polygon points="580.1,288.6 578.1,288 575.8,288.1 577.7,288.6" fill="#fff"/>
<polygon points="579,294.3 580.4,293.1 578,293 576.6,294.2" fill="#fff"/>
<polygon points="580.9,290.5 580.1,288.6 577.7,288.6 578.4,290.5" fill="#fff"/>
<polygon points="580.4,293.1 580.9,290.5 578.4,290.5 578,293" fill="#fff"/>
<polygon points="540,226.9 538.6,228.3 538.8,230.3 540,228.9" fill="#fff"/>
<polygon points="545.9,229.9 545.3,227.9 544.8,229.9 545.3,231.9" fill="#fff"/>
<polygon points="543.1,226.7 540,226.9 540,228.9 542.7,228.7" fill="#fff"/>
<polygon points="545.3,227.9 543.1,226.7 542.7,228.7 544.8,229.9" fill="#fff"/>
<polygon points="567,251.9 568.3,250.8 566.3,252 565,253.1" fill="#fff"/>
<polygon points="566.5,246.6 564.3,246.2 562.5,247.5 564.6,248" fill="#fff"/>
<polygon points="568.3,250.8 568.1,248.4 566,249.7 566.3,252" fill="#fff"/>
<polygon points="568.1,248.4 566.5,246.6 564.6,248 566,249.7" fill="#fff"/>
<polygon points="573.3,335.4 571.8,333.9 570.3,331.8 568.7,329.1 567,325.9 565.1,322 561.9,317.3 559.9,316.4 563.1,321 564.9,324.7 566.5,327.8 568,330.4 569.4,332.4 570.7,333.9" fill="#fff"/>
<polygon points="570.8,340.4 573.3,335.4 570.7,333.9 568.2,338.7" fill="#fff"/>
<polygon points="557.8,343.8 559.7,344.2 558,342.6 556.1,342.1" fill="#fff"/>
<polygon points="563,340.8 562.6,339.2 560.7,337.7 561.1,339.3" fill="#fff"/>
<polygon points="559.7,344.2 561.7,343.1 559.8,341.5 558,342.6" fill="#fff"/>
<polygon points="561.7,343.1 563,340.8 561.1,339.3 559.8,341.5" fill="#fff"/>
<polygon points="525.7,367.3 525.4,365.9 524.7,363.6 525,365" fill="#fff"/>
<polygon points="519.5,368.9 521.6,369.5 521.1,367.1 519.1,366.5" fill="#fff"/>
<polygon points="524,369 525.7,367.3 525,365 523.4,366.6" fill="#fff"/>
<polygon points="521.6,369.5 524,369 523.4,366.6 521.1,367.1" fill="#fff"/>
<polygon points="588.6,285 586.8,283 584.7,280.5 582.5,277.5 579.9,274 576.9,270 572.4,265.2 570.2,266 574.5,270.7 577.4,274.5 579.8,277.9 582,280.8 583.8,283.2 585.5,285.1" fill="#fff"/>
<polygon points="587.8,290.5 588.6,285 585.5,285.1 584.7,290.4" fill="#fff"/>
<polygon points="574.9,325.6 576.3,325.9 573.8,324.8 572.5,324.5" fill="#fff"/>
<polygon points="578.7,322.1 578.5,320.5 575.9,319.5 576.1,321.1" fill="#fff"/>
<polygon points="576.3,325.9 577.8,324.6 575.2,323.5 573.8,324.8" fill="#fff"/>
<polygon points="577.8,324.6 578.7,322.1 576.1,321.1 575.2,323.5" fill="#fff"/>
<polygon points="585.8,294.9 584.4,294.4 581.7,294.3 583,294.7" fill="#fff"/>
<polygon points="584.5,300.6 585.7,299.2 582.9,298.9 581.8,300.2" fill="#fff"/>
<polygon points="586.3,296.7 585.8,294.9 583,294.7 583.4,296.4" fill="#fff"/>
<polygon points="585.7,299.2 586.3,296.7 583.4,296.4 582.9,298.9" fill="#fff"/>
<polygon points="560,357.4 558.6,356.1 557.2,354.4 555.8,352.1 554.5,349.3 552.9,345.8 550.2,341.5 548.7,339.8 551.3,344 552.8,347.3 554.1,350.1 555.3,352.3 556.5,354 557.8,355.2" fill="#fff"/>
<polygon points="556.8,361.6 560,357.4 557.8,355.2 554.7,359.2" fill="#fff"/>
<polygon points="571.5,231.4 565.3,231.5 560.9,232.9 556.9,235.1 553.1,238.3 551.9,240.1 555.3,237 559,234.8 563.2,233.4 569.3,233.3" fill="#fff"/>
<polygon points="572.7,236 571.5,231.4 569.3,233.3 570.5,237.8" fill="#fff"/>
<polygon points="582,268.4 583.2,267.2 580.6,267.9 579.6,269.1" fill="#fff"/>
<polygon points="582.1,262.8 580.2,262.3 577.8,263.1 579.6,263.7" fill="#fff"/>
<polygon points="583.2,267.2 583.2,264.7 580.7,265.5 580.6,267.9" fill="#fff"/>
<polygon points="583.2,264.7 582.1,262.8 579.6,263.7 580.7,265.5" fill="#fff"/>
<polygon points="551.6,224.9 550.6,226.1 549.5,228.1 550.4,227" fill="#fff"/>
<polygon points="556.2,228.7 555.6,226.6 554.1,228.6 554.7,230.6" fill="#fff"/>
<polygon points="553.8,225.2 551.6,224.9 550.4,227 552.4,227.2" fill="#fff"/>
<polygon points="555.6,226.6 553.8,225.2 552.4,227.2 554.1,228.6" fill="#fff"/>
<polygon points="497.2,375 504.1,374.9 510.9,374.8 517.7,374.8 525.9,375.4 525.2,372.7 517.2,372.1 510.7,372.1 504.3,372.2 497.8,372.4" fill="#fff"/>
<polygon points="525.9,375.4 529.6,372.2 528.8,369.5 525.2,372.7" fill="#fff"/>
<polygon points="567.3,345.8 567.2,344.3 565,342.6 565,344" fill="#fff"/>
<polygon points="562.8,348.9 564.3,349.1 562.1,347.3 560.7,347.1" fill="#fff"/>
<polygon points="565.9,347.9 567.3,345.8 565,344 563.7,346.1" fill="#fff"/>
<polygon points="564.3,349.1 565.9,347.9 563.7,346.1 562.1,347.3" fill="#fff"/>
<polygon points="548.6,362 548.4,360.6 546.9,358.5 547.1,359.8" fill="#fff"/>
<polygon points="542.9,364.3 544.9,364.8 543.5,362.5 541.7,362.1" fill="#fff"/>
<polygon points="547,363.9 548.6,362 547.1,359.8 545.6,361.6" fill="#fff"/>
<polygon points="544.9,364.8 547,363.9 545.6,361.6 543.5,362.5" fill="#fff"/>
<polygon points="480.5,372.3 480.8,374 482.4,372 482.3,370.5" fill="#fff"/>
<polygon points="485.5,376.3 487.3,375.4 488.4,373.1 486.7,374" fill="#fff"/>
<polygon points="480.8,374 483,375.8 484.4,373.5 482.4,372" fill="#fff"/>
<polygon points="483,375.8 485.5,376.3 486.7,374 484.4,373.5" fill="#fff"/>
<polygon points="588.3,274.8 589.2,273.6 586.3,274.1 585.5,275.2" fill="#fff"/>
<polygon points="588.5,269.3 587.2,268.8 584.4,269.4 585.7,269.9" fill="#fff"/>
<polygon points="589.2,273.6 589.3,271.1 586.4,271.6 586.3,274.1" fill="#fff"/>
<polygon points="589.3,271.1 588.5,269.3 585.7,269.9 586.4,271.6" fill="#fff"/>
<polygon points="585.5,315.4 586.4,315.6 583.2,314.7 582.4,314.5" fill="#fff"/>
<polygon points="588.1,310.2 587.2,309.9 584,309.2 584.8,309.4" fill="#fff"/>
<polygon points="586.4,315.6 587.4,314.3 584.1,313.4 583.2,314.7" fill="#fff"/>
<polygon points="588.1,311.8 588.1,310.2 584.8,309.4 584.9,311" fill="#fff"/>
<polygon points="587.4,314.3 588.1,311.8 584.9,311 584.1,313.4" fill="#fff"/>
<polygon points="589.5,259.9 587.5,257.9 585.1,255.4 582.4,252.4 579.4,249.1 575.8,245.3 570.7,240.8 568.4,242.5 573.4,246.8 576.9,250.4 579.8,253.7 582.3,256.5 584.5,258.9 586.4,260.8" fill="#fff"/>
<polygon points="589.7,265.1 589.5,259.9 586.4,260.8 586.6,265.9" fill="#fff"/>
<polygon points="559.3,224.1 558.4,225.1 556.8,227.1 557.6,226.2" fill="#fff"/>
<polygon points="561.4,224.6 559.3,224.1 557.6,226.2 559.6,226.6" fill="#fff"/>
<polygon points="563.9,228.1 563.2,226.1 561.4,228.1 562,230.1" fill="#fff"/>
<polygon points="563.2,226.1 561.4,224.6 559.6,226.6 561.4,228.1" fill="#fff"/>
<polygon points="492.2,378.3 492.3,379.4 492.9,376.8 492.9,375.7" fill="#fff"/>
<polygon points="496.6,380.3 498.4,379.4 498.7,376.7 496.9,377.6" fill="#fff"/>
<polygon points="492.3,379.4 494.2,380.3 494.7,377.7 492.9,376.8" fill="#fff"/>
<polygon points="494.2,380.3 496.6,380.3 496.9,377.6 494.7,377.7" fill="#fff"/>
<polygon points="575.3,339.3 576.3,339.3 573.4,337.8 572.6,337.7" fill="#fff"/>
<polygon points="578.7,335.7 578.8,334.3 575.9,332.9 575.7,334.2" fill="#fff"/>
<polygon points="576.3,339.3 577.6,338 574.6,336.4 573.4,337.8" fill="#fff"/>
<polygon points="577.6,338 578.7,335.7 575.7,334.2 574.6,336.4" fill="#fff"/>
<polygon points="531.9,209.3 530.7,210.6 531.2,213 532.1,211.8" fill="#fff"/>
<polygon points="538.2,211.2 537.3,209.6 536.9,212.1 537.9,213.7" fill="#fff"/>
<polygon points="534.8,208.8 531.9,209.3 532.1,211.8 534.7,211.4" fill="#fff"/>
<polygon points="537.3,209.6 534.8,208.8 534.7,211.4 536.9,212.1" fill="#fff"/>
<polygon points="593.1,285.2 592.3,284.7 589,284.7 589.8,285.1" fill="#fff"/>
<polygon points="592.4,290.7 593.1,289.4 589.7,289.2 589.1,290.4" fill="#fff"/>
<polygon points="593.1,289.4 593.4,286.9 590,286.8 589.7,289.2" fill="#fff"/>
<polygon points="593.4,286.9 593.1,285.2 589.8,285.1 590,286.8" fill="#fff"/>
<polygon points="531.8,366.1 534.1,369.6 535.3,372.3 536.4,374.5 537.6,376.2 538.9,377.4 540.3,378.3 538.8,375.4 537.5,374.6 536.3,373.4 535.3,371.8 534.2,369.7 533.1,367 530.9,363.6" fill="#fff"/>
<polygon points="540.3,378.3 544,375.1 542.3,372.3 538.8,375.4" fill="#fff"/>
<polygon points="581.4,327 583.4,327.4 584.9,327.6 585.8,327.6 581.9,326.2 581.1,326.2 579.8,326 578.1,325.7" fill="#fff"/>
<polygon points="585.8,327.6 586.4,326.2 587,324.7 587.5,323.3 583.5,322 583,323.4 582.4,324.8 581.9,326.2" fill="#fff"/>
<polygon points="552.6,366 552.7,364.8 550.9,362.5 550.8,363.6" fill="#fff"/>
<polygon points="547.6,368.6 549.1,368.7 547.5,366.3 546,366.1" fill="#fff"/>
<polygon points="551,367.7 552.6,366 550.8,363.6 549.2,365.3" fill="#fff"/>
<polygon points="549.1,368.7 551,367.7 549.2,365.3 547.5,366.3" fill="#fff"/>
<polygon points="501.6,380.6 501.8,381.7 501.8,378.9 501.8,377.9" fill="#fff"/>
<polygon points="506.3,382.2 508.1,381.1 507.9,378.3 506.2,379.3" fill="#fff"/>
<polygon points="501.8,381.7 503.8,382.3 503.8,379.5 501.8,378.9" fill="#fff"/>
<polygon points="503.8,382.3 506.3,382.2 506.2,379.3 503.8,379.5" fill="#fff"/>
<polygon points="594.4,299.8 593.7,299.1 592.4,298.3 590.5,297.4 586.9,297 588.5,297.8 589.7,298.5 590.3,299" fill="#fff"/>
<polygon points="593.5,304.2 593.8,302.7 594.1,301.2 594.4,299.8 590.3,299 590,300.5 589.7,301.9 589.3,303.4" fill="#fff"/>
<polygon points="580.3,244.1 581.2,243.1 578.7,244.6 577.9,245.5" fill="#fff"/>
<polygon points="579.3,239.2 577.4,238.5 575.1,240.2 577,240.7" fill="#fff"/>
<polygon points="581.2,243.1 580.7,240.9 578.3,242.4 578.7,244.6" fill="#fff"/>
<polygon points="580.7,240.9 579.3,239.2 577,240.7 578.3,242.4" fill="#fff"/>
<polygon points="565.9,357 566.1,355.9 563.5,353.9 563.2,354.9" fill="#fff"/>
<polygon points="561.8,360.3 562.9,360.2 560.4,358 559.4,358.1" fill="#fff"/>
<polygon points="564.4,358.9 565.9,357 563.2,354.9 561.8,356.8" fill="#fff"/>
<polygon points="562.9,360.2 564.4,358.9 561.8,356.8 560.4,358" fill="#fff"/>
<polygon points="569.5,349.8 571.7,349.8 573.4,349.5 574.6,349 570.9,347 570,347.5 568.5,347.7 566.6,347.7" fill="#fff"/>
<polygon points="574.6,349 575.4,347.7 576.2,346.5 576.9,345.2 573.2,343.4 572.5,344.6 571.7,345.8 570.9,347" fill="#fff"/>
<polygon points="563,212.5 557.1,212.2 553.2,213.1 549.9,214.9 546.9,217.6 545.9,220.1 548.6,217.5 551.7,215.7 555.3,214.8 561,215.1" fill="#fff"/>
<polygon points="565.1,216.1 563,212.5 561,215.1 563.1,218.6" fill="#fff"/>
<polygon points="531.8,378.5 531.7,377.4 530.8,374.8 530.8,375.8" fill="#fff"/>
<polygon points="525.8,380 527.8,380.4 527,377.6 525.1,377.3" fill="#fff"/>
<polygon points="530,379.8 531.8,378.5 530.8,375.8 529.1,377.1" fill="#fff"/>
<polygon points="527.8,380.4 530,379.8 529.1,377.1 527,377.6" fill="#fff"/>
<polygon points="587.4,250.5 588,249.5 585.1,250.6 584.6,251.6" fill="#fff"/>
<polygon points="586.6,245.5 585.2,244.8 582.5,246.2 583.8,246.8" fill="#fff"/>
<polygon points="588,249.5 587.7,247.2 584.8,248.5 585.1,250.6" fill="#fff"/>
<polygon points="587.7,247.2 586.6,245.5 583.8,246.8 584.8,248.5" fill="#fff"/>
<polygon points="542.6,207 542,207.9 541.2,210.5 541.7,209.6" fill="#fff"/>
<polygon points="547.9,209.9 546.8,208.3 545.7,210.8 546.7,212.4" fill="#fff"/>
<polygon points="544.8,207.2 542.6,207 541.7,209.6 543.8,209.8" fill="#fff"/>
<polygon points="546.8,208.3 544.8,207.2 543.8,209.8 545.7,210.8" fill="#fff"/>
<polygon points="597.2,276.1 596.5,274.9 595.2,273.6 593.4,272.3 589.7,272.7 591.3,273.8 592.4,274.9 593,276" fill="#fff"/>
<polygon points="597,280.5 597.1,279 597.2,277.6 597.2,276.1 593,276 592.9,277.4 592.9,278.8 592.8,280.2" fill="#fff"/>
<polygon points="594,266.1 594.4,265 590.9,265.5 590.6,266.6" fill="#fff"/>
<polygon points="593.7,260.9 592.8,260.3 589.5,261 590.3,261.6" fill="#fff"/>
<polygon points="594.4,265 594.3,262.7 590.8,263.3 590.9,265.5" fill="#fff"/>
<polygon points="594.3,262.7 593.7,260.9 590.3,261.6 590.8,263.3" fill="#fff"/>
<polygon points="479.2,383.1 486,384.1 492.7,385 499.6,385.7 507.8,386.9 507.7,383.7 499.7,382.6 493.1,381.9 486.8,381.2 480.4,380.2" fill="#fff"/>
<polygon points="507.8,386.9 511.7,385 511.5,381.9 507.7,383.7" fill="#fff"/>
<polygon points="585.8,237.3 583.4,235.3 580.7,232.9 577.7,230.1 574.1,227.1 569.9,223.7 564.2,219.9 562.2,222.2 567.8,225.9 571.8,229.2 575.2,232.1 578.1,234.7 580.6,237 582.7,238.9" fill="#fff"/>
<polygon points="586.9,241.9 585.8,237.3 582.7,238.9 583.9,243.3" fill="#fff"/>
<polygon points="463.5,377.5 463.6,378.8 465.7,376.7 465.7,375.5" fill="#fff"/>
<polygon points="468,381.6 469.7,381.4 471.3,378.9 469.6,379.2" fill="#fff"/>
<polygon points="463.6,378.8 465.6,380.7 467.4,378.3 465.7,376.7" fill="#fff"/>
<polygon points="465.6,380.7 468,381.6 469.6,379.2 467.4,378.3" fill="#fff"/>
<polygon points="554.7,369 557.1,368.7 559.1,368 560.6,367 557.3,364.6 556,365.4 554.3,366 552.2,366.3" fill="#fff"/>
<polygon points="560.6,367 561.5,366 562.5,365 563.4,363.9 560,361.6 559.1,362.6 558.2,363.6 557.3,364.6" fill="#fff"/>
<polygon points="549.8,206.5 549.2,207.2 547.9,209.8 548.4,209.1" fill="#fff"/>
<polygon points="555.1,209.7 554,208.1 552.5,210.7 553.5,212.2" fill="#fff"/>
<polygon points="552,206.9 549.8,206.5 548.4,209.1 550.5,209.5" fill="#fff"/>
<polygon points="554,208.1 552,206.9 550.5,209.5 552.5,210.7" fill="#fff"/>
<polygon points="535.8,381.3 535.9,380.5 534.6,377.7 534.4,378.5" fill="#fff"/>
<polygon points="534,382.5 535.8,381.3 534.4,378.5 532.8,379.7" fill="#fff"/>
<polygon points="530.4,383.2 532,383.2 530.8,380.4 529.3,380.3" fill="#fff"/>
<polygon points="532,383.2 534,382.5 532.8,379.7 530.8,380.4" fill="#fff"/>
<polygon points="514.3,380.7 516.4,383.4 517.5,385.4 518.6,387 519.7,388.1 521.1,388.9 522.6,389.3 521.6,386 520.3,385.6 519.1,384.9 518,383.8 517,382.3 516,380.4 513.9,377.7" fill="#fff"/>
<polygon points="522.6,389.3 526.4,387.5 525.3,384.3 521.6,386" fill="#fff"/>
<polygon points="474.3,384.4 474.3,385.2 475.4,382.4 475.5,381.6" fill="#fff"/>
<polygon points="478.4,386.5 480.2,386.2 481.1,383.3 479.4,383.6" fill="#fff"/>
<polygon points="474.3,385.2 476.2,386.1 477.2,383.2 475.4,382.4" fill="#fff"/>
<polygon points="476.2,386.1 478.4,386.5 479.4,383.6 477.2,383.2" fill="#fff"/>
<polygon points="550.4,374.2 550.7,373.5 548.5,370.9 548.2,371.7" fill="#fff"/>
<polygon points="545.9,376.9 547.1,376.7 545,374 543.9,374.2" fill="#fff"/>
<polygon points="548.8,375.7 550.4,374.2 548.2,371.7 546.6,373.1" fill="#fff"/>
<polygon points="547.1,376.7 548.8,375.7 546.6,373.1 545,374" fill="#fff"/>
<polygon points="520,196.7 519.2,197.8 519.9,200.6 520.6,199.6" fill="#fff"/>
<polygon points="526.7,197.5 525.4,196.5 525.4,199.4 526.7,200.4" fill="#fff"/>
<polygon points="522.8,196.1 520,196.7 520.6,199.6 523,199" fill="#fff"/>
<polygon points="525.4,196.5 522.8,196.1 523,199 525.4,199.4" fill="#fff"/>
<polygon points="574,223.2 574.6,222.5 572.3,224.5 571.8,225.3" fill="#fff"/>
<polygon points="570.1,218.5 569.4,219.2 567.4,221.4 568,220.7" fill="#fff"/>
<polygon points="574.6,222.5 573.7,220.7 571.5,222.8 572.3,224.5" fill="#fff"/>
<polygon points="572,219.2 570.1,218.5 568,220.7 569.9,221.4" fill="#fff"/>
<polygon points="573.7,220.7 572,219.2 569.9,221.4 571.5,222.8" fill="#fff"/>
<polygon points="595.6,254 594.9,252.2 593.6,250.5 591.7,248.8 588,250 589.7,251.4 590.8,252.9 591.5,254.4" fill="#fff"/>
<polygon points="596.3,258 596.1,256.6 595.9,255.3 595.6,254 591.5,254.4 591.7,255.7 591.9,257 592.1,258.3" fill="#fff"/>
<polygon points="483.4,387.5 483.5,388.1 484.2,385.1 484.1,384.5" fill="#fff"/>
<polygon points="488,389 489.8,388.6 490.2,385.6 488.5,386" fill="#fff"/>
<polygon points="483.5,388.1 485.6,388.8 486.1,385.8 484.2,385.1" fill="#fff"/>
<polygon points="485.6,388.8 488,389 488.5,386 486.1,385.8" fill="#fff"/>
<polygon points="591,243.7 591.1,242.9 587.8,244 587.7,244.8" fill="#fff"/>
<polygon points="591.1,242.9 590.6,240.9 587.2,242 587.8,244" fill="#fff"/>
<polygon points="589.7,239.2 588.8,238.4 585.7,239.7 586.5,240.4" fill="#fff"/>
<polygon points="590.6,240.9 589.7,239.2 586.5,240.4 587.2,242" fill="#fff"/>
<polygon points="581.9,229.2 582.3,228.5 579.5,230.3 579.2,231" fill="#fff"/>
<polygon points="582.3,228.5 581.5,226.6 578.8,228.5 579.5,230.3" fill="#fff"/>
<polygon points="580.1,225 578.7,224.3 576.2,226.3 577.5,227" fill="#fff"/>
<polygon points="581.5,226.6 580.1,225 577.5,227 578.8,228.5" fill="#fff"/>
<polygon points="513.7,389.2 513.6,388.5 513.3,385.5 513.3,386.1" fill="#fff"/>
<polygon points="507.4,389.1 507.6,389.8 507.5,386.7 507.3,386.1" fill="#fff"/>
<polygon points="511.9,389.9 513.7,389.2 513.3,386.1 511.6,386.8" fill="#fff"/>
<polygon points="507.6,389.8 509.6,390.1 509.4,387 507.5,386.7" fill="#fff"/>
<polygon points="509.6,390.1 511.9,389.9 511.6,386.8 509.4,387" fill="#fff"/>
<polygon points="550.6,199 545,198.2 541.6,198.5 538.9,199.7 536.6,201.6 535.9,204.6 537.9,202.7 540.4,201.6 543.6,201.2 549,202" fill="#fff"/>
<polygon points="553.5,201.4 550.6,199 549,202 551.9,204.3" fill="#fff"/>
<polygon points="530,194.6 529.6,195.1 529.1,198.1 529.5,197.5" fill="#fff"/>
<polygon points="535.7,196.4 534.3,195.3 533.5,198.3 534.8,199.3" fill="#fff"/>
<polygon points="532.1,194.7 530,194.6 529.5,197.5 531.4,197.6" fill="#fff"/>
<polygon points="534.3,195.3 532.1,194.7 531.4,197.6 533.5,198.3" fill="#fff"/>
<polygon points="537.9,383.3 540.5,382.7 542.9,381.7 544.8,380.3 541.9,377.6 540.3,378.7 538.3,379.5 536,380.1" fill="#fff"/>
<polygon points="544.8,380.3 545.8,379.6 546.8,378.9 547.8,378.2 544.8,375.5 543.9,376.2 542.9,376.9 541.9,377.6" fill="#fff"/>
<polygon points="577.6,218.7 575,216.7 572,214.5 568.5,212.2 564.5,209.6 559.8,206.9 553.5,203.7 551.9,206.5 558,209.6 562.5,212.3 566.3,214.7 569.6,217 572.4,219 574.8,220.9" fill="#fff"/>
<polygon points="579.7,222.2 577.6,218.7 574.8,220.9 576.8,224.3" fill="#fff"/>
<polygon points="461.7,384.6 468.2,386.8 474.7,388.6 481.4,390.1 489.6,391.8 490.1,388.5 482.1,386.9 475.7,385.4 469.5,383.7 463.4,381.7" fill="#fff"/>
<polygon points="489.6,391.8 493.4,391.3 493.8,388.1 490.1,388.5" fill="#fff"/>
<polygon points="447.3,376.3 447.3,377.2 449.9,375.1 449.9,374.4" fill="#fff"/>
<polygon points="451.3,380.4 452.9,380.8 455,378.4 453.5,378" fill="#fff"/>
<polygon points="447.3,377.2 449.1,379.1 451.5,376.7 449.9,375.1" fill="#fff"/>
<polygon points="449.1,379.1 451.3,380.4 453.5,378 451.5,376.7" fill="#fff"/>
<polygon points="533.4,386.2 533.7,385.9 532,382.9 531.7,383.3" fill="#fff"/>
<polygon points="531.7,387.1 533.4,386.2 531.7,383.3 530,384.1" fill="#fff"/>
<polygon points="528.5,388.1 529.9,387.8 528.3,384.8 527.1,385.1" fill="#fff"/>
<polygon points="529.9,387.8 531.7,387.1 530,384.1 528.3,384.8" fill="#fff"/>
<polygon points="517.9,390.8 518,390.4 517.3,387.3 517.1,387.7" fill="#fff"/>
<polygon points="516.1,391.4 517.9,390.8 517.1,387.7 515.4,388.3" fill="#fff"/>
<polygon points="512.3,391.7 514,391.8 513.4,388.6 511.8,388.6" fill="#fff"/>
<polygon points="514,391.8 516.1,391.4 515.4,388.3 513.4,388.6" fill="#fff"/>
<polygon points="589.9,235 588.9,232.7 587.5,230.6 585.5,228.6 582,230.4 583.8,232.2 585,234 585.8,235.9" fill="#fff"/>
<polygon points="591.2,238.2 590.8,237.1 590.3,236 589.9,235 585.8,235.9 586.3,236.9 586.7,238 587.2,239" fill="#fff"/>
<polygon points="496,389.2 498.1,391 499.2,392.2 500.3,393 501.6,393.6 503.1,393.8 504.7,393.9 504.3,390.5 502.8,390.5 501.5,390.2 500.4,389.7 499.3,388.9 498.3,387.7 496.2,386" fill="#fff"/>
<polygon points="504.7,393.9 508.5,393.5 507.9,390.1 504.3,390.5" fill="#fff"/>
<polygon points="536.7,194.5 536.3,194.8 535.3,197.8 535.7,197.4" fill="#fff"/>
<polygon points="542.5,196.7 541.1,195.7 539.9,198.6 541.3,199.5" fill="#fff"/>
<polygon points="538.8,194.9 536.7,194.5 535.7,197.4 537.7,197.8" fill="#fff"/>
<polygon points="541.1,195.7 538.8,194.9 537.7,197.8 539.9,198.6" fill="#fff"/>
<polygon points="457.2,383.8 457.2,384.2 458.9,381.4 458.9,381.1" fill="#fff"/>
<polygon points="461.2,385.9 462.8,386.3 464.2,383.4 462.6,383" fill="#fff"/>
<polygon points="457.2,384.2 459,385.1 460.6,382.3 458.9,381.4" fill="#fff"/>
<polygon points="459,385.1 461.2,385.9 462.6,383 460.6,382.3" fill="#fff"/>
<polygon points="558.7,203.5 558.2,203.9 556.5,206.6 557,206.2" fill="#fff"/>
<polygon points="563.8,206.7 562.5,205.4 560.6,208 561.9,209.2" fill="#fff"/>
<polygon points="560.6,204.2 558.7,203.5 557,206.2 558.8,206.9" fill="#fff"/>
<polygon points="562.5,205.4 560.6,204.2 558.8,206.9 560.6,208" fill="#fff"/>
<polygon points="505.4,190.2 504.8,190.9 505.9,193.9 506.3,193.2" fill="#fff"/>
<polygon points="512.1,189.8 510.5,189.4 511,192.5 512.5,192.9" fill="#fff"/>
<polygon points="507.9,189.5 505.4,190.2 506.3,193.2 508.6,192.6" fill="#fff"/>
<polygon points="510.5,189.4 507.9,189.5 508.6,192.6 511,192.5" fill="#fff"/>
<polygon points="583.6,224.9 583.6,224.4 580.4,226 580.5,226.5" fill="#fff"/>
<polygon points="583.6,224.4 582.6,222.9 579.5,224.5 580.4,226" fill="#fff"/>
<polygon points="581.5,221.3 580.5,220.4 577.6,222.3 578.4,223.1" fill="#fff"/>
<polygon points="582.6,222.9 581.5,221.3 578.4,223.1 579.5,224.5" fill="#fff"/>
<polygon points="572.2,212.4 572.3,212 569.9,214.3 569.8,214.7" fill="#fff"/>
<polygon points="572.3,212 571.1,210.7 568.7,213 569.9,214.3" fill="#fff"/>
<polygon points="569.5,209.4 568,208.6 565.8,211 567.2,211.8" fill="#fff"/>
<polygon points="571.1,210.7 569.5,209.4 567.2,211.8 568.7,213" fill="#fff"/>
<polygon points="465.9,387.6 466.1,387.8 467.3,384.8 467.1,384.6" fill="#fff"/>
<polygon points="470.4,389.1 472.1,389.4 473.1,386.4 471.4,386.1" fill="#fff"/>
<polygon points="466.1,387.8 468.1,388.5 469.2,385.5 467.3,384.8" fill="#fff"/>
<polygon points="468.1,388.5 470.4,389.1 471.4,386.1 469.2,385.5" fill="#fff"/>
<polygon points="489.3,392.6 489.6,392.9 490,389.7 489.8,389.5" fill="#fff"/>
<polygon points="493.9,393.4 495.6,393.4 495.8,390.2 494.1,390.2" fill="#fff"/>
<polygon points="489.6,392.9 491.6,393.2 492,390 490,389.7" fill="#fff"/>
<polygon points="491.6,393.2 493.9,393.4 494.1,390.2 492,390" fill="#fff"/>
<polygon points="535.1,191.8 529.8,190.4 526.7,190.1 524.4,190.4 522.8,191.4 522.6,194.6 524,193.7 526,193.4 528.9,193.7 534.1,195" fill="#fff"/>
<polygon points="538.6,192.8 535.1,191.8 534.1,195 537.5,196" fill="#fff"/>
<polygon points="514.4,188.4 514.2,188.5 514.2,191.7 514.4,191.5" fill="#fff"/>
<polygon points="520.4,189.1 518.8,188.7 518.5,191.9 520.1,192.2" fill="#fff"/>
<polygon points="516.5,188.4 514.4,188.4 514.4,191.5 516.3,191.6" fill="#fff"/>
<polygon points="518.8,188.7 516.5,188.4 516.3,191.6 518.5,191.9" fill="#fff"/>
<polygon points="568.4,207.6 565.5,205.2 563.2,207.9 565.9,210.2" fill="#fff"/>
<polygon points="565.5,205.2 562.7,203.5 559.4,201.6 555.6,199.7 551.2,197.8 546.1,195.7 539.4,193.5 538.2,196.6 544.7,198.9 549.6,200.8 553.8,202.7 557.4,204.5 560.5,206.2 563.2,207.9" fill="#fff"/>
<polygon points="445.9,379.4 451.8,382.6 457.9,385.3 464.4,387.6 472.4,389.9 473.5,386.7 465.6,384.5 459.5,382.3 453.7,379.7 448.1,376.7" fill="#fff"/>
<polygon points="472.4,389.9 475.9,390.9 476.9,387.6 473.5,386.7" fill="#fff"/>
<polygon points="433.1,368.8 433.2,369.3 436.1,367.4 436.2,367.1" fill="#fff"/>
<polygon points="433.2,369.3 434.8,371 437.5,368.9 436.1,367.4" fill="#fff"/>
<polygon points="436.7,372.7 438,373.7 440.6,371.5 439.3,370.5" fill="#fff"/>
<polygon points="434.8,371 436.7,372.7 439.3,370.5 437.5,368.9" fill="#fff"/>
<polygon points="488.8,190 488.5,190.4 490,193.3 490.2,193" fill="#fff"/>
<polygon points="491.2,189.3 488.8,190 490.2,193 492.3,192.4" fill="#fff"/>
<polygon points="495.5,188.5 493.7,188.8 494.7,191.9 496.3,191.7" fill="#fff"/>
<polygon points="493.7,188.8 491.2,189.3 492.3,192.4 494.7,191.9" fill="#fff"/>
<polygon points="544,194.6 543.7,194.6 542.4,197.5 542.7,197.6" fill="#fff"/>
<polygon points="549.6,196.8 548,196.1 546.6,199 548.1,199.6" fill="#fff"/>
<polygon points="545.9,195.3 544,194.6 542.7,197.6 544.6,198.3" fill="#fff"/>
<polygon points="548,196.1 545.9,195.3 544.6,198.3 546.6,199" fill="#fff"/>
<ellipse cx="471.9" cy="282.5" rx="49.5" ry="79" stroke-width="2.0" stroke="#000" transform="rotate(18.8 471.9 282.5)"/>
<ellipse cx="472" cy="282.6" rx="51.7" ry="82.4" stroke-width="2.0" stroke="#000" transform="rotate(18.8 472 282.6)"/>
<ellipse cx="472.5" cy="282.7" rx="53.3" ry="85" stroke-width="2.0" stroke="#000" transform="rotate(18.8 472.5 282.7)"/>
<ellipse cx="473.2" cy="282.9" rx="54.7" ry="87.3" stroke-width="2.0" stroke="#000" transform="rotate(18.8 473.2 282.9)"/>
<ellipse cx="474.1" cy="283.1" rx="56" ry="89.4" stroke-width="2.0" stroke="#000" transform="rotate(18.8 474.1 283.1)"/>
<ellipse cx="475.4" cy="283.4" rx="57.2" ry="91.3" stroke-width="2.0" stroke="#000" transform="rotate(18.8 475.4 283.4)"/>
<ellipse cx="476.9" cy="283.8" rx="58.3" ry="93" stroke-width="2.0" stroke="#000" transform="rotate(18.8 476.9 283.8)"/>
<ellipse cx="478.7" cy="284.3" rx="59.3" ry="94.6" stroke-width="2.0" stroke="#000" transform="rotate(18.8 478.7 284.3)"/>
<ellipse cx="480.7" cy="284.8" rx="60.2" ry="96" stroke-width="2.0" stroke="#000" transform="rotate(18.8 480.7 284.8)"/>
<ellipse cx="483" cy="285.4" rx="60.9" ry="97.2" stroke-width="2.0" stroke="#000" transform="rotate(18.8 483 285.4)"/>
<ellipse cx="485.5" cy="286.1" rx="61.6" ry="98.2" stroke-width="2.0" stroke="#000" transform="rotate(18.8 485.5 286.1)"/>
<ellipse cx="488.3" cy="286.8" rx="62.1" ry="99.1" stroke-width="2.0" stroke="#000" transform="rotate(18.8 488.3 286.8)"/>
<ellipse cx="491.3" cy="287.6" rx="62.5" ry="99.7" stroke-width="2.0" stroke="#000" transform="rotate(18.8 491.3 287.6)"/>
<ellipse cx="494.7" cy="288.5" rx="62.8" ry="100.2" stroke-width="2.0" stroke="#000" transform="rotate(18.8 494.7 288.5)"/>
<ellipse cx="498.4" cy="289.5" rx="63" ry="100.5" stroke-width="2.0" stroke="#000" transform="rotate(18.8 498.4 289.5)"/>
<ellipse cx="503.4" cy="290.8" rx="63.1" ry="100.6" stroke-width="2.0" stroke="#000" transform="rotate(18.8 503.4 290.8)"/>
<ellipse cx="508.4" cy="292.1" rx="63" ry="100.5" stroke-width="2.0" stroke="#000" transform="rotate(18.8 508.4 292.1)"/>
<ellipse cx="512.2" cy="293.1" rx="62.8" ry="100.2" stroke-width="2.0" stroke="#000" transform="rotate(18.8 512.2 293.1)"/>
<ellipse cx="515.5" cy="294" rx="62.5" ry="99.7" stroke-width="2.0" stroke="#000" transform="rotate(18.8 515.5 294)"/>
<ellipse cx="518.6" cy="294.8" rx="62.1" ry="99.1" stroke-width="2.0" stroke="#000" transform="rotate(18.8 518.6 294.8)"/>
<ellipse cx="521.3" cy="295.5" rx="61.6" ry="98.2" stroke-width="2.0" stroke="#000" transform="rotate(18.8 521.3 295.5)"/>
<ellipse cx="523.9" cy="296.2" rx="60.9" ry="97.2" stroke-width="2.0" stroke="#000" transform="rotate(18.8 523.9 296.2)"/>
<ellipse cx="526.1" cy="296.8" rx="60.2" ry="96" stroke-width="2.0" stroke="#000" transform="rotate(18.8 526.1 296.8)"/>
<ellipse cx="528.2" cy="297.3" rx="59.3" ry="94.6" stroke-width="2.0" stroke="#000" transform="rotate(18.8 528.2 297.3)"/>
<ellipse cx="529.9" cy="297.8" rx="58.3" ry="93" stroke-width="2.0" stroke="#000" transform="rotate(18.8 529.9 297.8)"/>
<ellipse cx="531.5" cy="298.2" rx="57.2" ry="91.3" stroke-width="2.0" stroke="#000" transform="rotate(18.8 531.5 298.2)"/>
<ellipse cx="532.7" cy="298.5" rx="56" ry="89.4" stroke-width="2.0" stroke="#000" transform="rotate(18.8 532.7 298.5)"/>
<ellipse cx="533.7" cy="298.7" rx="54.7" ry="87.3" stroke-width="2.0" stroke="#000" transform="rotate(18.8 533.7 298.7)"/>
<ellipse cx="534.4" cy="298.9" rx="53.3" ry="85" stroke-width="2.0" stroke="#000" transform="rotate(18.8 534.4 298.9)"/>
<ellipse cx="534.8" cy="299" rx="51.7" ry="82.4" stroke-width="2.0" stroke="#000" transform="rotate(18.8 534.8 299)"/>
<ellipse cx="535" cy="299.1" rx="49.5" ry="79" stroke-width="2.0" stroke="#000" transform="rotate(18.8 535 299.1)"/>
<ellipse cx="471.9" cy="282.5" rx="49.5" ry="79" fill="#fff" stroke="none" transform="rotate(18.8 471.9 282.5)"/>
<ellipse cx="472" cy="282.6" rx="51.7" ry="82.4" fill="#fff" stroke="none" transform="rotate(18.8 472 282.6)"/>
<ellipse cx="472.5" cy="282.7" rx="53.3" ry="85" fill="#fff" stroke="none" transform="rotate(18.8 472.5 282.7)"/>
<ellipse cx="473.2" cy="282.9" rx="54.7" ry="87.3" fill="#fff" stroke="none" transform="rotate(18.8 473.2 282.9)"/>
<ellipse cx="474.1" cy="283.1" rx="56" ry="89.4" fill="#fff" stroke="none" transform="rotate(18.8 474.1 283.1)"/>
<ellipse cx="475.4" cy="283.4" rx="57.2" ry="91.3" fill="#fff" stroke="none" transform="rotate(18.8 475.4 283.4)"/>
<ellipse cx="476.9" cy="283.8" rx="58.3" ry="93" fill="#fff" stroke="none" transform="rotate(18.8 476.9 283.8)"/>
<ellipse cx="478.7" cy="284.3" rx="59.3" ry="94.6" fill="#fff" stroke="none" transform="rotate(18.8 478.7 284.3)"/>
<ellipse cx="480.7" cy="284.8" rx="60.2" ry="96" fill="#fff" stroke="none" transform="rotate(18.8 480.7 284.8)"/>
<ellipse cx="483" cy="285.4" rx="60.9" ry="97.2" fill="#fff" stroke="none" transform="rotate(18.8 483 285.4)"/>
<ellipse cx="485.5" cy="286.1" rx="61.6" ry="98.2" fill="#fff" stroke="none" transform="rotate(18.8 485.5 286.1)"/>
<ellipse cx="488.3" cy="286.8" rx="62.1" ry="99.1" fill="#fff" stroke="none" transform="rotate(18.8 488.3 286.8)"/>
<ellipse cx="491.3" cy="287.6" rx="62.5" ry="99.7" fill="#fff" stroke="none" transform="rotate(18.8 491.3 287.6)"/>
<ellipse cx="494.7" cy="288.5" rx="62.8" ry="100.2" fill="#fff" stroke="none" transform="rotate(18.8 494.7 288.5)"/>
<ellipse cx="498.4" cy="289.5" rx="63" ry="100.5" fill="#fff" stroke="none" transform="rotate(18.8 498.4 289.5)"/>
<ellipse cx="503.4" cy="290.8" rx="63.1" ry="100.6" fill="#fff" stroke="none" transform="rotate(18.8 503.4 290.8)"/>
<ellipse cx="508.4" cy="292.1" rx="63" ry="100.5" fill="#fff" stroke="none" transform="rotate(18.8 508.4 292.1)"/>
<ellipse cx="512.2" cy="293.1" rx="62.8" ry="100.2" fill="#fff" stroke="none" transform="rotate(18.8 512.2 293.1)"/>
<ellipse cx="515.5" cy="294" rx="62.5" ry="99.7" fill="#fff" stroke="none" transform="rotate(18.8 515.5 294)"/>
<ellipse cx="518.6" cy="294.8" rx="62.1" ry="99.1" fill="#fff" stroke="none" transform="rotate(18.8 518.6 294.8)"/>
<ellipse cx="521.3" cy="295.5" rx="61.6" ry="98.2" fill="#fff" stroke="none" transform="rotate(18.8 521.3 295.5)"/>
<ellipse cx="523.9" cy="296.2" rx="60.9" ry="97.2" fill="#fff" stroke="none" transform="rotate(18.8 523.9 296.2)"/>
<ellipse cx="526.1" cy="296.8" rx="60.2" ry="96" fill="#fff" stroke="none" transform="rotate(18.8 526.1 296.8)"/>
<ellipse cx="528.2" cy="297.3" rx="59.3" ry="94.6" fill="#fff" stroke="none" transform="rotate(18.8 528.2 297.3)"/>
<ellipse cx="529.9" cy="297.8" rx="58.3" ry="93" fill="#fff" stroke="none" transform="rotate(18.8 529.9 297.8)"/>
<ellipse cx="531.5" cy="298.2" rx="57.2" ry="91.3" fill="#fff" stroke="none" transform="rotate(18.8 531.5 298.2)"/>
<ellipse cx="532.7" cy="298.5" rx="56" ry="89.4" fill="#fff" stroke="none" transform="rotate(18.8 532.7 298.5)"/>
<ellipse cx="533.7" cy="298.7" rx="54.7" ry="87.3" fill="#fff" stroke="none" transform="rotate(18.8 533.7 298.7)"/>
<ellipse cx="534.4" cy="298.9" rx="53.3" ry="85" fill="#fff" stroke="none" transform="rotate(18.8 534.4 298.9)"/>
<ellipse cx="534.8" cy="299" rx="51.7" ry="82.4" fill="#fff" stroke="none" transform="rotate(18.8 534.8 299)"/>
<ellipse cx="535" cy="299.1" rx="49.5" ry="79" fill="#fff" stroke="none" transform="rotate(18.8 535 299.1)"/>
<polygon points="585.1,311.7 587.7,312.2 588.6,312.2 588.2,311.8 586.9,311.5 587.3,311.8 586.4,311.8 583.9,311.4" fill="#fff"/>
<polygon points="583.9,315.5 584.3,314.2 584.7,313 585.1,311.7 583.9,311.4 583.5,312.7 583.1,313.9 582.7,315.2" fill="#fff"/>
<polygon points="585.1,311.7 587.7,312.2 588.6,312.2 588.2,311.8 587.8,313.3 587.3,314.7 586.8,316.2 587.3,316.4 586.4,316.2 583.9,315.5 584.3,314.2 584.7,313" fill="#fff"/>
<polygon points="577.3,338.5 578.1,337.8 577.6,336.6 575.6,334.7 574.4,334.3 576.3,336.2 576.8,337.3 576,337.9" fill="#fff"/>
<polygon points="575.6,334.7 576.2,333.5 576.8,332.4 577.3,331.2 576.2,330.9 575.6,332.1 575,333.2 574.4,334.3" fill="#fff"/>
<polygon points="577.3,331.2 579.5,333 580,334 579.3,334.5 578.6,335.9 578,337.2 577.3,338.5 578.1,337.8 577.6,336.6 575.6,334.7 576.2,333.5 576.8,332.4" fill="#fff"/>
<polygon points="583.5,326.5 583.4,326 582.6,325.2 580.7,324 579.5,323.7 581.3,324.8 582.1,325.6 582.1,326" fill="#fff"/>
<polygon points="580.7,324 581.2,322.8 581.6,321.6 582.1,320.4 580.9,320.1 580.5,321.3 580,322.5 579.5,323.7" fill="#fff"/>
<polygon points="582.1,320.4 584.1,321.4 585,322 585.1,322.4 584.6,323.8 584,325.1 583.5,326.5 583.4,326 582.6,325.2 580.7,324 581.2,322.8 581.6,321.6" fill="#fff"/>
<polygon points="588,300.3 590.3,300.2 591.5,299.9 591.8,299.5 590.4,299.3 590.1,299.6 589,299.9 586.8,299.9" fill="#fff"/>
<polygon points="587.2,304.1 587.5,302.8 587.8,301.5 588,300.3 586.8,299.9 586.6,301.2 586.3,302.5 586,303.7" fill="#fff"/>
<polygon points="588,300.3 590.3,300.2 591.5,299.9 591.8,299.5 591.5,301 591.2,302.4 590.9,303.8 590.6,304.1 589.4,304.2 587.2,304.1 587.5,302.8 587.8,301.5" fill="#fff"/>
<polygon points="589.5,291.4 592.3,290.5 593.5,289.5 593.2,288.2 591.9,288.1 592.1,289.3 591,290.3 588.3,291.1" fill="#fff"/>
<polygon points="588.9,295.2 589.1,294 589.3,292.7 589.5,291.4 588.3,291.1 588.1,292.4 588,293.7 587.8,294.9" fill="#fff"/>
<polygon points="589.5,291.4 592.3,290.5 593.5,289.5 593.2,288.2 593,289.6 592.8,291.1 592.6,292.6 592.9,293.7 591.8,294.6 588.9,295.2 589.1,294 589.3,292.7" fill="#fff"/>
<polygon points="572.6,347.3 572.9,346 572.5,344.4 571.1,342.3 569.9,342 571.2,344 571.7,345.5 571.3,346.6" fill="#fff"/>
<polygon points="571.1,342.3 571.8,341.2 572.4,340.1 573.1,339.1 571.9,338.7 571.2,339.8 570.6,340.9 569.9,342" fill="#fff"/>
<polygon points="573.1,339.1 574.6,341 575.1,342.5 574.9,343.6 574.1,344.8 573.4,346 572.6,347.3 572.9,346 572.5,344.4 571.1,342.3 571.8,341.2 572.4,340.1" fill="#fff"/>
<polygon points="590.4,280.1 592.8,278.9 594.1,277.8 594.5,276.6 593.1,276.5 592.7,277.6 591.5,278.7 589.2,279.8" fill="#fff"/>
<polygon points="590.2,283.8 590.3,282.5 590.3,281.3 590.4,280.1 589.2,279.8 589.2,281 589.1,282.2 589,283.5" fill="#fff"/>
<polygon points="590.4,280.1 592.8,278.9 594.1,277.8 594.5,276.6 594.5,278 594.4,279.4 594.3,280.8 593.9,281.9 592.6,282.8 590.2,283.8 590.3,282.5 590.3,281.3" fill="#fff"/>
<polygon points="564.5,358.1 565.8,356.7 565.9,354.5 564.6,351.4 563.4,351.1 564.6,354 564.6,356 563.4,357.4" fill="#fff"/>
<polygon points="564.6,351.4 565.3,350.5 566.1,349.5 566.8,348.5 565.6,348.2 564.9,349.2 564.1,350.1 563.4,351.1" fill="#fff"/>
<polygon points="566.8,348.5 568.2,351.4 568.3,353.4 567.1,354.7 566.3,355.9 565.4,357 564.5,358.1 565.8,356.7 565.9,354.5 564.6,351.4 565.3,350.5 566.1,349.5" fill="#fff"/>
<polygon points="590.3,271.7 593.1,269.5 594.3,267.4 594,265.2 592.6,265.3 592.9,267.3 591.8,269.3 589.1,271.4" fill="#fff"/>
<polygon points="590.4,275.2 590.4,274 590.3,272.8 590.3,271.7 589.1,271.4 589.1,272.6 589.2,273.7 589.2,275" fill="#fff"/>
<polygon points="590.3,271.7 593.1,269.5 594.3,267.4 594,265.2 594.1,266.6 594.2,268 594.2,269.4 594.4,271.4 593.3,273.3 590.4,275.2 590.4,274 590.3,272.8" fill="#fff"/>
<polygon points="559,364.7 559.8,362.9 559.9,360.6 559.1,357.6 558,357.3 558.7,360.1 558.6,362.3 557.9,363.9" fill="#fff"/>
<polygon points="559.1,357.6 559.9,356.8 560.7,355.9 561.5,355 560.3,354.7 559.6,355.6 558.8,356.5 558,357.3" fill="#fff"/>
<polygon points="561.5,355 562.4,357.9 562.4,360 561.7,361.7 560.8,362.7 559.9,363.7 559,364.7 559.8,362.9 559.9,360.6 559.1,357.6 559.9,356.8 560.7,355.9" fill="#fff"/>
<polygon points="589.1,261.2 591.4,259.1 592.7,257.1 593,255.2 591.6,255.3 591.3,257 590.1,258.9 587.9,260.9" fill="#fff"/>
<polygon points="589.6,264.6 589.4,263.4 589.2,262.3 589.1,261.2 587.9,260.9 588.1,262 588.2,263.1 588.4,264.3" fill="#fff"/>
<polygon points="589.1,261.2 591.4,259.1 592.7,257.1 593,255.2 593.2,256.4 593.4,257.7 593.6,259 593.2,260.8 592,262.6 589.6,264.6 589.4,263.4 589.2,262.3" fill="#fff"/>
<polygon points="549.5,373.6 551.3,371.5 552.1,368.6 551.6,364.6 550.5,364.3 550.9,368.1 550.2,370.8 548.5,372.7" fill="#fff"/>
<polygon points="551.6,364.6 552.5,363.9 553.3,363.2 554.1,362.5 553,362.1 552.1,362.9 551.3,363.6 550.5,364.3" fill="#fff"/>
<polygon points="554.1,362.5 554.8,366.3 554.2,369.1 552.4,371.1 551.5,371.9 550.5,372.8 549.5,373.6 551.3,371.5 552.1,368.6 551.6,364.6 552.5,363.9 553.3,363.2" fill="#fff"/>
<polygon points="587.3,253.8 590,250.4 590.9,247.4 590.5,244.5 589.1,244.8 589.5,247.5 588.6,250.3 586.2,253.5" fill="#fff"/>
<polygon points="588.2,256.9 587.9,255.9 587.6,254.8 587.3,253.8 586.2,253.5 586.4,254.5 586.7,255.6 587,256.6" fill="#fff"/>
<polygon points="587.3,253.8 590,250.4 590.9,247.4 590.5,244.5 590.8,245.7 591.2,246.9 591.5,248.1 591.9,250.9 590.8,253.8 588.2,256.9 587.9,255.9 587.6,254.8" fill="#fff"/>
<polygon points="543.7,377.6 545,375.4 545.7,372.6 545.6,369 544.5,368.7 544.5,372.1 543.9,374.7 542.6,376.8" fill="#fff"/>
<polygon points="545.6,369 546.5,368.4 547.4,367.8 548.2,367.2 547.1,366.9 546.2,367.5 545.3,368.1 544.5,368.7" fill="#fff"/>
<polygon points="548.2,367.2 548.4,370.7 547.9,373.4 546.6,375.6 545.6,376.3 544.7,377 543.7,377.6 545,375.4 545.7,372.6 545.6,369 546.5,368.4 547.4,367.8" fill="#fff"/>
<polygon points="584.1,244.9 586.2,241.9 587.2,239.3 587.4,236.7 586,236.9 585.9,239.3 584.9,241.8 582.9,244.7" fill="#fff"/>
<polygon points="585.3,247.7 584.9,246.8 584.5,245.9 584.1,244.9 582.9,244.7 583.3,245.6 583.7,246.5 584.1,247.4" fill="#fff"/>
<polygon points="584.1,244.9 586.2,241.9 587.2,239.3 587.4,236.7 587.8,237.7 588.3,238.8 588.7,239.9 588.5,242.3 587.4,244.9 585.3,247.7 584.9,246.8 584.5,245.9" fill="#fff"/>
<polygon points="533.2,384 535.7,381.4 537.2,378 537.6,373.4 536.5,373.1 536,377.4 534.7,380.6 532.4,383" fill="#fff"/>
<polygon points="537.6,373.4 538.5,373 539.4,372.6 540.3,372.1 539.1,371.8 538.2,372.2 537.3,372.7 536.5,373.1" fill="#fff"/>
<polygon points="540.3,372.1 540,376.6 538.7,380 536.3,382.5 535.3,383 534.3,383.5 533.2,384 535.7,381.4 537.2,378 537.6,373.4 538.5,373 539.4,372.6" fill="#fff"/>
<polygon points="520.2,391.6 523.2,390.8 525.9,389.7 528.2,388.1 525.7,385.1 523.8,386.5 521.5,387.5 518.9,388.2" fill="#fff"/>
<polygon points="528.2,388.1 529.2,387.8 530.3,387.4 531.3,387.1 528.7,384.2 527.7,384.5 526.7,384.8 525.7,385.1" fill="#fff"/>
<polygon points="531.3,387.1 529,388.6 526.4,389.8 523.5,390.6 522.4,390.9 521.3,391.3 520.2,391.6 523.2,390.8 525.9,389.7 528.2,388.1 529.2,387.8 530.3,387.4" fill="#fff"/>
<polygon points="580.9,239 583.1,234.7 583.7,231 582.9,227.4 581.6,227.8 582.4,231.1 581.8,234.7 579.7,238.7" fill="#fff"/>
<polygon points="582.4,241.5 581.9,240.6 581.4,239.8 580.9,239 579.7,238.7 580.2,239.5 580.7,240.3 581.2,241.2" fill="#fff"/>
<polygon points="580.9,239 583.1,234.7 583.7,231 582.9,227.4 583.5,228.3 584.1,229.3 584.6,230.3 585.3,233.7 584.6,237.4 582.4,241.5 581.9,240.6 581.4,239.8" fill="#fff"/>
<polygon points="516,392.1 516.2,392.2 515.1,389.1 514.8,389" fill="#fff"/>
<polygon points="514.4,392.3 516,392.1 514.8,389 513.1,389.3" fill="#fff"/>
<polygon points="511,393 512.5,392.7 511.4,389.6 510.1,389.9" fill="#fff"/>
<polygon points="512.5,392.7 514.4,392.3 513.1,389.3 511.4,389.6" fill="#fff"/>
<polygon points="516,392.1 516.2,392.2 514.8,392.5 512.9,392.8 511.1,393.1 511,393 512.5,392.7 514.4,392.3" fill="#fff"/>
<polygon points="580.2,220.3 579.1,217.7 577.4,215.3 575.2,213 572.1,215.3 574,217.3 575.4,219.4 576.4,221.5" fill="#fff"/>
<polygon points="582.3,222.6 581.6,221.8 580.9,221 580.2,220.3 576.4,221.5 577.1,222.3 577.8,223 578.4,223.8" fill="#fff"/>
<polygon points="580.2,220.3 579.1,217.7 577.4,215.3 575.2,213 575.9,213.8 576.7,214.7 577.4,215.5 579.5,217.7 581.2,220.1 582.3,222.6 581.6,221.8 580.9,221" fill="#fff"/>
<polygon points="527.6,385.1 529.5,382.7 530.8,379.6 531.5,375.6 530.3,375.3 529.6,379 528.4,381.9 526.7,384.2" fill="#fff"/>
<polygon points="531.5,375.6 532.3,375.4 533.2,375.1 534.1,374.8 533,374.5 532.1,374.8 531.2,375 530.3,375.3" fill="#fff"/>
<polygon points="534.1,374.8 533.6,378.7 532.4,381.7 530.6,384.2 529.6,384.5 528.6,384.8 527.6,385.1 529.5,382.7 530.8,379.6 531.5,375.6 532.3,375.4 533.2,375.1" fill="#fff"/>
<polygon points="500.2,393.8 500.2,393.9 500,390.7 500,390.6" fill="#fff"/>
<polygon points="494.6,393.7 494.7,393.7 494.7,390.5 494.7,390.5" fill="#fff"/>
<polygon points="498.5,393.8 500.2,393.8 500,390.6 498.3,390.6" fill="#fff"/>
<polygon points="494.7,393.7 496.4,393.7 496.3,390.5 494.7,390.5" fill="#fff"/>
<polygon points="496.4,393.7 498.5,393.8 498.3,390.6 496.3,390.5" fill="#fff"/>
<polygon points="500.2,393.8 500.2,393.9 498.5,393.8 496.3,393.8 494.6,393.7 494.7,393.7 496.4,393.7 498.5,393.8" fill="#fff"/>
<polygon points="478.1,391 480.3,391.8 481.6,392.2 483,392.3 484.5,392.2 486.1,392.1 488,391.8 488.1,388.5 486.4,388.7 484.9,388.9 483.6,389 482.4,388.9 481.1,388.5 478.9,387.7" fill="#fff"/>
<polygon points="488,391.8 491.4,392.8 491.4,389.5 488.1,388.5" fill="#fff"/>
<polygon points="491.4,392.8 489.6,393 488,393.1 486.5,393 485.3,392.8 484,392.2 481.8,391.2 478.1,391 480.3,391.8 481.6,392.2 483,392.3 484.5,392.2 486.1,392.1 488,391.8" fill="#fff"/>
<polygon points="520.7,188.8 520.5,188.8 520,191.9 520.2,192" fill="#fff"/>
<polygon points="526.8,190 525.2,189.7 524.5,192.8 526.1,193.1" fill="#fff"/>
<polygon points="522.8,189.2 520.7,188.8 520.2,192 522.2,192.4" fill="#fff"/>
<polygon points="525.2,189.7 522.8,189.2 522.2,192.4 524.5,192.8" fill="#fff"/>
<polygon points="525.2,189.7 522.8,189.2 520.7,188.8 520.5,188.8 522.1,189.1 524.4,189.5 526.5,189.9 526.8,190" fill="#fff"/>
<polygon points="572.4,211 572.2,210.9 569.4,212.9 569.7,213" fill="#fff"/>
<polygon points="572.2,210.9 570.9,209.9 568.1,211.9 569.4,212.9" fill="#fff"/>
<polygon points="569.5,208.7 568.5,207.7 565.9,209.9 566.8,210.8" fill="#fff"/>
<polygon points="570.9,209.9 569.5,208.7 566.8,210.8 568.1,211.9" fill="#fff"/>
<polygon points="570.9,209.9 569.5,208.7 568.5,207.7 568.6,207.7 570,208.8 571.4,210 572.4,211 572.2,210.9" fill="#fff"/>
<polygon points="442,376.6 442.2,376.5 444.4,374 444.2,374.1" fill="#fff"/>
<polygon points="445.9,378.6 447.3,379.6 449.2,376.9 447.8,376" fill="#fff"/>
<polygon points="442.2,376.5 444,377.4 446,374.8 444.4,374" fill="#fff"/>
<polygon points="444,377.4 445.9,378.6 447.8,376 446,374.8" fill="#fff"/>
<polygon points="447.3,379.6 447,379.7 445.3,378.8 443.4,377.6 442,376.6 442.2,376.5 444,377.4 445.9,378.6" fill="#fff"/>
<polygon points="575.9,232.4 577.5,228.7 578.2,225.5 578,222.4 576.8,222.8 576.9,225.6 576.3,228.6 574.7,232.1" fill="#fff"/>
<polygon points="577.7,234.4 577.1,233.7 576.5,233 575.9,232.4 574.7,232.1 575.3,232.8 575.9,233.4 576.5,234.1" fill="#fff"/>
<polygon points="575.9,232.4 577.5,228.7 578.2,225.5 578,222.4 578.7,223.2 579.4,224 580,224.7 580.1,227.7 579.4,230.8 577.7,234.4 577.1,233.7 576.5,233" fill="#fff"/>
<polygon points="516.8,388.4 519.9,385.7 522.1,382 523.5,377.1 522.4,376.8 521.1,381.4 519,384.8 516.1,387.4" fill="#fff"/>
<polygon points="523.5,377.1 524.4,377 525.2,376.9 526.1,376.8 525,376.5 524.1,376.6 523.2,376.7 522.4,376.8" fill="#fff"/>
<polygon points="526.1,376.8 524.9,381.7 522.8,385.3 519.9,388.1 518.8,388.2 517.8,388.3 516.8,388.4 519.9,385.7 522.1,382 523.5,377.1 524.4,377 525.2,376.9" fill="#fff"/>
<polygon points="558.8,201.2 558.8,201.2 556.8,203.8 556.8,203.8" fill="#fff"/>
<polygon points="554,198.7 553.9,198.7 552.2,201.4 552.2,201.5" fill="#fff"/>
<polygon points="558.8,201.2 557.3,200.5 555.3,203.1 556.8,203.8" fill="#fff"/>
<polygon points="555.5,199.6 554,198.7 552.2,201.5 553.6,202.2" fill="#fff"/>
<polygon points="557.3,200.5 555.5,199.6 553.6,202.2 555.3,203.1" fill="#fff"/>
<polygon points="557.3,200.5 555.5,199.6 554,198.7 553.9,198.7 555.4,199.4 557.3,200.4 558.8,201.2 558.8,201.2" fill="#fff"/>
<polygon points="450.4,380.9 450.6,380.7 452.3,378 452,378.2" fill="#fff"/>
<polygon points="454.8,382.4 456.2,383.4 457.7,380.5 456.3,379.6" fill="#fff"/>
<polygon points="450.6,380.7 452.6,381.4 454.2,378.6 452.3,378" fill="#fff"/>
<polygon points="452.6,381.4 454.8,382.4 456.3,379.6 454.2,378.6" fill="#fff"/>
<polygon points="456.2,383.4 455.8,383.5 453.8,382.8 451.8,381.9 450.4,380.9 450.6,380.7 452.6,381.4 454.8,382.4" fill="#fff"/>
<polygon points="502.9,393.5 506.2,392.7 509.2,391.4 512,389.8 509.9,386.8 507.6,388.2 505,389.2 502.2,390" fill="#fff"/>
<polygon points="512,389.8 512.9,389.8 513.9,389.9 514.9,389.9 512.7,386.9 511.8,386.9 510.8,386.9 509.9,386.8" fill="#fff"/>
<polygon points="514.9,389.9 512.2,391.6 509.3,392.8 506.1,393.7 505,393.6 504,393.6 502.9,393.5 506.2,392.7 509.2,391.4 512,389.8 512.9,389.8 513.9,389.9" fill="#fff"/>
<polygon points="472.6,389.3 473,389.1 473.9,386.1 473.5,386.2" fill="#fff"/>
<polygon points="477.2,390.1 478.8,390.7 479.5,387.6 478,387" fill="#fff"/>
<polygon points="473,389.1 475.1,389.5 475.9,386.4 473.9,386.1" fill="#fff"/>
<polygon points="475.1,389.5 477.2,390.1 478,387 475.9,386.4" fill="#fff"/>
<polygon points="478.8,390.7 478.5,390.9 476.4,390.5 474.1,389.9 472.6,389.3 473,389.1 475.1,389.5 477.2,390.1" fill="#fff"/>
<polygon points="571.5,228.3 573,223.4 573,219.1 571.8,215.1 570.6,215.7 571.8,219.4 571.7,223.4 570.3,228.1" fill="#fff"/>
<polygon points="573.4,230 572.8,229.4 572.1,228.9 571.5,228.3 570.3,228.1 570.9,228.6 571.6,229.1 572.2,229.7" fill="#fff"/>
<polygon points="571.5,228.3 573,223.4 573,219.1 571.8,215.1 572.6,215.7 573.4,216.4 574.1,217 575.3,220.9 575.1,225.2 573.4,230 572.8,229.4 572.1,228.9" fill="#fff"/>
<polygon points="517.6,191.3 512.4,189.4 509.6,188.3 507.7,187.7 506.5,187.6 506.8,191 507.7,191 509.4,191.6 512.1,192.7 517.1,194.6" fill="#fff"/>
<polygon points="521.4,190.9 517.6,191.3 517.1,194.6 520.9,194.1" fill="#fff"/>
<polygon points="517.6,191.3 512.4,189.4 509.6,188.3 507.7,187.7 506.5,187.6 510.2,187.8 511.4,187.7 513.4,188.1 516.2,189.1 521.4,190.9" fill="#fff"/>
<polygon points="497.1,188.8 497,188.6 497.5,191.8 497.5,192" fill="#fff"/>
<polygon points="503.2,188.5 501.4,188.8 501.6,192 503.3,191.7" fill="#fff"/>
<polygon points="499,188.9 497.1,188.8 497.5,192 499.4,192.1" fill="#fff"/>
<polygon points="501.4,188.8 499,188.9 499.4,192.1 501.6,192" fill="#fff"/>
<polygon points="501.4,188.8 499,188.9 497.1,188.8 497,188.6 498.7,188.3 501,188.2 503,188.2 503.2,188.5" fill="#fff"/>
<polygon points="553.9,198.9 550.4,197.9 548.6,200.8 551.9,201.8" fill="#fff"/>
<polygon points="550.4,197.9 547.4,196.5 543.8,195 539.7,193.7 535.1,192.4 529.7,191.2 522.7,189.8 522,193.1 528.9,194.4 534,195.6 538.5,196.8 542.3,198.1 545.7,199.4 548.6,200.8" fill="#fff"/>
<polygon points="550.4,197.9 547.4,196.5 543.8,195 539.7,193.7 535.1,192.4 529.7,191.2 522.7,189.8 526.4,190 533.4,191.6 538.7,193 543.3,194.4 547.3,195.9 550.8,197.4 553.9,198.9" fill="#fff"/>
<polygon points="422,355.5 422.1,355.5 425.4,354 425.3,354.1" fill="#fff"/>
<polygon points="422.1,355.5 423.6,357.1 426.6,355.4 425.4,354" fill="#fff"/>
<polygon points="425.2,359 426.2,360.6 429.1,358.7 428.1,357.2" fill="#fff"/>
<polygon points="423.6,357.1 425.2,359 428.1,357.2 426.6,355.4" fill="#fff"/>
<polygon points="426.2,360.6 425.7,360.6 424.3,359 422.9,357.1 422,355.5 422.1,355.5 423.6,357.1 425.2,359" fill="#fff"/>
<polygon points="432.7,367.9 438,372 443.7,375.5 449.7,378.5 457.5,381.3 459,378.4 451.5,375.6 445.7,372.7 440.4,369.4 435.4,365.5" fill="#fff"/>
<polygon points="457.5,381.3 460.5,383.7 461.9,380.7 459,378.4" fill="#fff"/>
<polygon points="460.5,383.7 452.6,381 446.5,378.1 440.7,374.8 435.3,370.8 432.7,367.9 438,372 443.7,375.5 449.7,378.5 457.5,381.3" fill="#fff"/>
<polygon points="567.4,210.9 565.9,208.1 563.9,205.5 561.5,203.1 558.9,205.8 561,207.9 562.7,210.1 564,212.4" fill="#fff"/>
<polygon points="570,212.2 569.2,211.7 568.3,211.3 567.4,210.9 564,212.4 564.8,212.8 565.6,213.2 566.5,213.7" fill="#fff"/>
<polygon points="567.4,210.9 565.9,208.1 563.9,205.5 561.5,203.1 562.5,203.6 563.4,204 564.3,204.5 566.7,206.9 568.6,209.4 570,212.2 569.2,211.7 568.3,211.3" fill="#fff"/>
<polygon points="494.5,391.9 494.5,391.4 494.1,388.3 494.1,388.7" fill="#fff"/>
<polygon points="497.9,391.1 499.5,391.5 498.7,388.5 497.2,388.1" fill="#fff"/>
<polygon points="494.5,391.4 496.1,391.1 495.4,388 494.1,388.3" fill="#fff"/>
<polygon points="496.1,391.1 497.9,391.1 497.2,388.1 495.4,388" fill="#fff"/>
<polygon points="499.5,391.5 499.5,392 498,392.3 496,392.3 494.5,391.9 494.5,391.4 496.1,391.1 497.9,391.1" fill="#fff"/>
<polygon points="513.4,388.6 516.2,385.7 518.3,382.2 519.9,377.8 516.5,376.7 515.1,380.5 513.3,383.5 511.1,385.9" fill="#fff"/>
<polygon points="519.9,377.8 520.8,377.8 521.6,377.9 522.4,377.9 519,376.9 518.1,376.9 517.3,376.8 516.5,376.7" fill="#fff"/>
<polygon points="522.4,377.9 521,382.3 519,385.9 516.3,388.8 515.4,388.8 514.4,388.7 513.4,388.6 516.2,385.7 518.3,382.2 519.9,377.8 520.8,377.8 521.6,377.9" fill="#fff"/>
<polygon points="478.4,389.3 478.6,388.9 479.1,385.8 478.9,386.2" fill="#fff"/>
<polygon points="482.4,389.4 483.9,390.1 484.2,387 482.7,386.3" fill="#fff"/>
<polygon points="478.6,388.9 480.4,388.9 480.8,385.9 479.1,385.8" fill="#fff"/>
<polygon points="480.4,388.9 482.4,389.4 482.7,386.3 480.8,385.9" fill="#fff"/>
<polygon points="483.9,390.1 483.7,390.5 481.9,390.5 479.9,390 478.4,389.3 478.6,388.9 480.4,388.9 482.4,389.4" fill="#fff"/>
<polygon points="567.2,225.5 566.5,225.1 565.7,224.8 565,224.4 563.8,224.1 564.5,224.5 565.3,224.9 566,225.2" fill="#fff"/>
<polygon points="565,224.4 566,220.3 566.2,216.7 565.6,213.4 564.4,213.8 565,216.9 564.8,220.2 563.8,224.1" fill="#fff"/>
<polygon points="565,224.4 566,220.3 566.2,216.7 565.6,213.4 566.5,213.8 567.3,214.2 568.2,214.6 568.7,217.9 568.4,221.5 567.2,225.5 566.5,225.1 565.7,224.8" fill="#fff"/>
<polygon points="471.5,196.2 471.4,196.2 473.4,199 473.4,199.1" fill="#fff"/>
<polygon points="473.7,195.6 471.5,196.2 473.4,199.1 475.3,198.5" fill="#fff"/>
<polygon points="477.9,193.9 476.1,194.8 477.6,197.7 479.3,196.9" fill="#fff"/>
<polygon points="476.1,194.8 473.7,195.6 475.3,198.5 477.6,197.7" fill="#fff"/>
<polygon points="476.1,194.8 473.7,195.6 471.5,196.2 471.4,196.2 473.1,195.3 475.4,194.3 477.5,193.7 477.9,193.9" fill="#fff"/>
<polygon points="461.9,385.9 464.4,385.8 466,385.4 467.7,384.8 469.4,384.2 471.4,383.7 473.4,383.2 474,380.1 472.1,380.6 470.4,381.2 468.8,381.7 467.3,382.3 465.7,382.7 463.2,382.8" fill="#fff"/>
<polygon points="473.4,383.2 476.3,385.5 476.8,382.4 474,380.1" fill="#fff"/>
<polygon points="476.3,385.5 474.3,386 472.4,386.5 470.7,387 469.2,387.4 467.6,387.7 465.1,387.5 461.9,385.9 464.4,385.8 466,385.4 467.7,384.8 469.4,384.2 471.4,383.7 473.4,383.2" fill="#fff"/>
<polygon points="503,190 502.9,189.6 502.9,192.7 503,193.1" fill="#fff"/>
<polygon points="509.3,190.1 507.5,190.4 507.3,193.5 509.1,193.2" fill="#fff"/>
<polygon points="505,190.4 503,190 503,193.1 505,193.5" fill="#fff"/>
<polygon points="507.5,190.4 505,190.4 505,193.5 507.3,193.5" fill="#fff"/>
<polygon points="507.5,190.4 505,190.4 503,190 502.9,189.6 504.6,189.2 507,189.2 509,189.6 509.3,190.1" fill="#fff"/>
<polygon points="553.6,201 553.8,200.6 551.7,203.1 551.4,203.4" fill="#fff"/>
<polygon points="557.9,203.3 556.3,202.9 553.9,205.1 555.4,205.5" fill="#fff"/>
<polygon points="554.7,202 553.6,201 551.4,203.4 552.4,204.3" fill="#fff"/>
<polygon points="556.3,202.9 554.7,202 552.4,204.3 553.9,205.1" fill="#fff"/>
<polygon points="556.3,202.9 554.7,202 553.6,201 553.8,200.6 555.4,201 557,201.9 558.2,203 557.9,203.3" fill="#fff"/>
<polygon points="434.8,366.7 434.3,367.1 436.6,364.9 437,364.4" fill="#fff"/>
<polygon points="433.7,365.1 434.8,366.7 437,364.4 436,362.9" fill="#fff"/>
<polygon points="430.3,362.8 432,363.6 434.4,361.4 432.8,360.7" fill="#fff"/>
<polygon points="432,363.6 433.7,365.1 436,362.9 434.4,361.4" fill="#fff"/>
<polygon points="434.8,366.7 434.3,367.1 432.6,366.3 431,364.8 430,363.2 430.3,362.8 432,363.6 433.7,365.1" fill="#fff"/>
<polygon points="527,192.4 526.7,191.9 526,195 526.2,195.4" fill="#fff"/>
<polygon points="532.9,193.4 531.2,193.5 530.3,196.5 532,196.4" fill="#fff"/>
<polygon points="529,193.1 527,192.4 526.2,195.4 528.1,196.1" fill="#fff"/>
<polygon points="531.2,193.5 529,193.1 528.1,196.1 530.3,196.5" fill="#fff"/>
<polygon points="531.2,193.5 529,193.1 527,192.4 526.7,191.9 528.5,191.9 530.8,192.3 532.8,193 532.9,193.4" fill="#fff"/>
<polygon points="502.5,388.8 506.7,385.7 510.1,381.6 512.6,376.2 509.1,375.2 507,379.8 504.3,383.2 500.8,385.8" fill="#fff"/>
<polygon points="514.9,376.9 512.6,382.3 509.4,386.5 505.3,389.6 504.4,389.4 503.4,389.1 502.5,388.8 506.7,385.7 510.1,381.6 512.6,376.2 513.3,376.5 514.1,376.7" fill="#fff"/>
<polygon points="537.4,195.4 537.5,194.9 536.3,197.8 536.2,198.2" fill="#fff"/>
<polygon points="542.7,196.8 541,196.8 539.5,199.5 541.2,199.6" fill="#fff"/>
<polygon points="539,196.2 537.4,195.4 536.2,198.2 537.6,199" fill="#fff"/>
<polygon points="541,196.8 539,196.2 537.6,199 539.5,199.5" fill="#fff"/>
<polygon points="541,196.8 539,196.2 537.4,195.4 537.5,194.9 539.2,195 541.2,195.5 542.8,196.4 542.7,196.8" fill="#fff"/>
<polygon points="442.2,369.4 443.3,371 445.1,368.5 444,367" fill="#fff"/>
<polygon points="438.2,367.4 440.2,368 442.2,365.7 440.3,365" fill="#fff"/>
<polygon points="440.2,368 442.2,369.4 444,367 442.2,365.7" fill="#fff"/>
<polygon points="443.3,371 442.6,371.5 440.7,370.8 438.8,369.5 437.7,367.9 438.2,367.4 440.2,368 442.2,369.4" fill="#fff"/>
<polygon points="487.2,388.8 490.8,388 494.1,386.8 497.2,385.2 495.5,382.4 492.9,383.7 490.1,384.7 487,385.4" fill="#fff"/>
<polygon points="497.2,385.2 498.1,385.7 498.9,386.1 499.8,386.5 498,383.7 497.2,383.2 496.3,382.8 495.5,382.4" fill="#fff"/>
<polygon points="499.8,386.5 496.8,388.1 493.5,389.3 490,390.2 489,389.7 488.1,389.3 487.2,388.8 490.8,388 494.1,386.8 497.2,385.2 498.1,385.7 498.9,386.1" fill="#fff"/>
<polygon points="564.3,223.7 563.5,223.5 562.7,223.3 561.9,223 558.4,222.2 559.2,222.4 560,222.7 560.8,222.9" fill="#fff"/>
<polygon points="561.9,223 562.7,217.3 562.1,212.1 560.1,207.3 556.9,209.1 558.5,213 559.1,217.3 558.4,222.2" fill="#fff"/>
<polygon points="561.9,223 562.7,217.3 562.1,212.1 560.1,207.3 561,207.6 562,207.8 562.9,208.1 564.8,212.9 565.3,218 564.3,223.7 563.5,223.5 562.7,223.3" fill="#fff"/>
<polygon points="458.3,379.3 458.9,378.8 460.3,376.1 459.7,376.6" fill="#fff"/>
<polygon points="463,380.2 464.3,381.4 465.4,378.6 464.2,377.4" fill="#fff"/>
<polygon points="458.9,378.8 461,379.2 462.3,376.5 460.3,376.1" fill="#fff"/>
<polygon points="461,379.2 463,380.2 464.2,377.4 462.3,376.5" fill="#fff"/>
<polygon points="464.3,381.4 463.8,382 461.7,381.6 459.6,380.6 458.3,379.3 458.9,378.8 461,379.2 463,380.2" fill="#fff"/>
<polygon points="499.3,197.7 494.1,195.2 491.4,193.3 489.7,191.7 488.8,190.5 489.7,193.8 490.3,195 491.8,196.5 494.4,198.3 499.4,200.8" fill="#fff"/>
<polygon points="503.2,195.8 499.3,197.7 499.4,200.8 503.2,198.9" fill="#fff"/>
<polygon points="499.3,197.7 494.1,195.2 491.4,193.3 489.7,191.7 488.8,190.5 492.6,189.3 493.6,190.3 495.3,191.7 498.1,193.4 503.2,195.8" fill="#fff"/>
<polygon points="418.1,342.3 417.5,342.7 420.7,341.5 421.2,341" fill="#fff"/>
<polygon points="414.9,336.9 416.2,338.2 419.5,337.1 418.3,335.9" fill="#fff"/>
<polygon points="417.5,340.3 418.1,342.3 421.2,341 420.7,339" fill="#fff"/>
<polygon points="416.2,338.2 417.5,340.3 420.7,339 419.5,337.1" fill="#fff"/>
<polygon points="418.1,342.3 417.5,342.7 416.1,341.4 415.1,339.3 414.5,337.3 414.9,336.9 416.2,338.2 417.5,340.3" fill="#fff"/>
<polygon points="484.9,194 485,194.6 485.7,197.6 485.7,197" fill="#fff"/>
<polygon points="480.9,196.1 479,196 480.1,199 481.8,199.1" fill="#fff"/>
<polygon points="485,194.6 483.2,195.6 484,198.6 485.7,197.6" fill="#fff"/>
<polygon points="483.2,195.6 480.9,196.1 481.8,199.1 484,198.6" fill="#fff"/>
<polygon points="483.2,195.6 480.9,196.1 479,196 479,195.4 480.8,194.4 483,193.9 484.9,194 485,194.6" fill="#fff"/>
<polygon points="498.9,384.2 502.2,381.4 505,378.1 507.3,373.9 503.9,372.9 501.9,376.5 499.6,379.3 496.9,381.5" fill="#fff"/>
<polygon points="509.5,375 507.3,379.2 504.7,382.7 501.5,385.5 500.6,385.1 499.7,384.6 498.9,384.2 502.2,381.4 505,378.1 507.3,373.9 508,374.3 508.8,374.7" fill="#fff"/>
<polygon points="423.2,350.7 427.8,355.6 432.8,359.7 438.4,363.2 445.9,366.6 447.8,364.1 440.5,360.9 435.2,357.5 430.4,353.5 426.2,348.9" fill="#fff"/>
<polygon points="445.9,366.6 448,370.2 449.9,367.6 447.8,364.1" fill="#fff"/>
<polygon points="448,370.2 440.5,367 434.8,363.5 429.6,359.5 424.9,354.8 423.2,350.7 427.8,355.6 432.8,359.7 438.4,363.2 445.9,366.6" fill="#fff"/>
<polygon points="537.1,196.9 533.3,197.3 532,200.2 535.6,199.8" fill="#fff"/>
<polygon points="533.3,197.3 530.1,196.1 526.3,195.2 522.1,194.4 517.2,193.8 511.7,193.4 504.6,193.1 504.5,196.2 511.5,196.6 516.8,197 521.4,197.5 525.4,198.2 529,199.1 532,200.2" fill="#fff"/>
<polygon points="533.3,197.3 530.1,196.1 526.3,195.2 522.1,194.4 517.2,193.8 511.7,193.4 504.6,193.1 508.5,191.8 515.6,192.4 521.1,192.9 525.9,193.7 530.2,194.6 533.9,195.6 537.1,196.9" fill="#fff"/>
<polygon points="552.3,207.5 550.4,204.7 548.1,202 545.4,199.6 543.3,202.4 545.7,204.5 547.6,206.7 549.2,209.1" fill="#fff"/>
<polygon points="555.3,207.7 554.3,207.6 553.3,207.6 552.3,207.5 549.2,209.1 550.2,209.1 551.2,209.2 552.1,209.3" fill="#fff"/>
<polygon points="552.3,207.5 550.4,204.7 548.1,202 545.4,199.6 546.5,199.7 547.5,199.7 548.6,199.8 551.2,202.2 553.5,204.8 555.3,207.7 554.3,207.6 553.3,207.6" fill="#fff"/>
<polygon points="479.9,384.1 480.1,383.3 480.1,380.5 479.9,381.2" fill="#fff"/>
<polygon points="483.6,383.5 484.9,384.5 484.5,381.7 483.2,380.7" fill="#fff"/>
<polygon points="480.1,383.3 481.8,383 481.6,380.2 480.1,380.5" fill="#fff"/>
<polygon points="481.8,383 483.6,383.5 483.2,380.7 481.6,380.2" fill="#fff"/>
<polygon points="484.9,384.5 484.7,385.3 483,385.6 481.2,385.2 479.9,384.1 480.1,383.3 481.8,383 483.6,383.5" fill="#fff"/>
<polygon points="460.3,204.8 460.5,205.5 462.4,208.1 462.3,207.5" fill="#fff"/>
<polygon points="456.6,208 454.7,208.5 457.1,211 458.7,210.6" fill="#fff"/>
<polygon points="460.5,205.5 458.9,206.9 460.8,209.5 462.4,208.1" fill="#fff"/>
<polygon points="458.9,206.9 456.6,208 458.7,210.6 460.8,209.5" fill="#fff"/>
<polygon points="458.9,206.9 456.6,208 454.7,208.5 454.7,207.9 456.3,206.5 458.3,205.3 460.3,204.8 460.5,205.5" fill="#fff"/>
<polygon points="464.7,378.4 465.2,377.6 466.1,374.9 465.7,375.7" fill="#fff"/>
<polygon points="468.9,378.6 470.1,379.9 470.8,377.2 469.6,375.9" fill="#fff"/>
<polygon points="465.2,377.6 467.1,377.7 467.9,375 466.1,374.9" fill="#fff"/>
<polygon points="467.1,377.7 468.9,378.6 469.6,375.9 467.9,375" fill="#fff"/>
<polygon points="470.1,379.9 469.7,380.7 467.9,380.6 465.9,379.7 464.7,378.4 465.2,377.6 467.1,377.7 468.9,378.6" fill="#fff"/>
<polygon points="554.4,222.1 554.8,217.4 554.4,213.2 553.2,209.2 549.9,210.5 550.9,213.7 551.3,217.2 550.9,221.2" fill="#fff"/>
<polygon points="554.4,222.1 554.8,217.4 554.4,213.2 553.2,209.2 554.1,209.3 555.1,209.3 556.1,209.4 557.2,213.3 557.5,217.5 556.9,222.2 556.1,222.1 555.3,222.1" fill="#fff"/>
<polygon points="426,348.4 425.4,349.2 427.9,347.4 428.6,346.7" fill="#fff"/>
<polygon points="422.3,343.8 424,344.6 426.6,343 425.1,342.3" fill="#fff"/>
<polygon points="425.4,346.3 426,348.4 428.6,346.7 427.9,344.7" fill="#fff"/>
<polygon points="424,344.6 425.4,346.3 427.9,344.7 426.6,343" fill="#fff"/>
<polygon points="426,348.4 425.4,349.2 423.7,348.4 422.4,346.7 421.7,344.6 422.3,343.8 424,344.6 425.4,346.3" fill="#fff"/>
<polygon points="486.8,198.3 484.7,197.9 485.3,200.8 487.3,201.2" fill="#fff"/>
<polygon points="491,196.9 489.2,198 489.6,200.8 491.4,199.8" fill="#fff"/>
<polygon points="489.2,198 486.8,198.3 487.3,201.2 489.6,200.8" fill="#fff"/>
<polygon points="489.2,198 486.8,198.3 484.7,197.9 484.6,197.1 486.4,196 488.7,195.6 490.8,196 491,196.9" fill="#fff"/>
<polygon points="448.4,374.3 451.4,373.4 453.4,372.2 455.5,371.1 457.6,370.1 459.8,369.2 462.2,368.5 463.1,365.9 461,366.6 458.9,367.5 457,368.5 455.1,369.6 453.1,370.7 450.1,371.6" fill="#fff"/>
<polygon points="462.2,368.5 464.3,372.1 465.1,369.4 463.1,365.9" fill="#fff"/>
<polygon points="464.3,372.1 462,372.8 459.8,373.6 457.8,374.5 455.8,375.5 453.9,376.5 451,377.3 448.4,374.3 451.4,373.4 453.4,372.2 455.5,371.1 457.6,370.1 459.8,369.2 462.2,368.5" fill="#fff"/>
<polygon points="536.7,200.8 537,200 535.4,202.5 535.1,203.2" fill="#fff"/>
<polygon points="541.5,202.1 539.8,202.3 537.8,204.6 539.5,204.3" fill="#fff"/>
<polygon points="538,201.9 536.7,200.8 535.1,203.2 536.2,204.2" fill="#fff"/>
<polygon points="539.8,202.3 538,201.9 536.2,204.2 537.8,204.6" fill="#fff"/>
<polygon points="539.8,202.3 538,201.9 536.7,200.8 537,200 538.7,199.8 540.5,200.3 541.8,201.3 541.5,202.1" fill="#fff"/>
<polygon points="488.8,381 493.6,378.1 497.7,374.3 501.1,369.4 497.6,368.4 494.8,372.7 491.4,375.8 487.5,378.1" fill="#fff"/>
<polygon points="503,371.1 499.8,376.1 495.9,380 491.2,382.9 490.4,382.3 489.6,381.6 488.8,381 493.6,378.1 497.7,374.3 501.1,369.4 501.7,370 502.4,370.6" fill="#fff"/>
<polygon points="508.8,197 508.6,196.1 508.5,199 508.6,199.9" fill="#fff"/>
<polygon points="514.9,196.9 513.1,197.7 512.8,200.5 514.5,199.8" fill="#fff"/>
<polygon points="510.8,197.7 508.8,197 508.6,199.9 510.6,200.5" fill="#fff"/>
<polygon points="513.1,197.7 510.8,197.7 510.6,200.5 512.8,200.5" fill="#fff"/>
<polygon points="513.1,197.7 510.8,197.7 508.8,197 508.6,196.1 510.4,195.4 512.8,195.4 514.9,196.1 514.9,196.9" fill="#fff"/>
<polygon points="411.9,314.7 413.2,315.7 416.6,315.2 415.4,314.3" fill="#fff"/>
<polygon points="414.3,320.1 413.5,320.9 416.8,320.3 417.6,319.4" fill="#fff"/>
<polygon points="414.2,317.8 414.3,320.1 417.6,319.4 417.5,317.2" fill="#fff"/>
<polygon points="413.2,315.7 414.2,317.8 417.5,317.2 416.6,315.2" fill="#fff"/>
<polygon points="414.3,320.1 413.5,320.9 412.2,319.8 411.4,317.8 411.3,315.5 411.9,314.7 413.2,315.7 414.2,317.8" fill="#fff"/>
<polygon points="434,353 433.2,353.8 435.3,351.9 436.2,351.1" fill="#fff"/>
<polygon points="429.7,348.7 431.7,349.3 433.9,347.5 432,346.9" fill="#fff"/>
<polygon points="433.4,350.9 434,353 436.2,351.1 435.5,349.1" fill="#fff"/>
<polygon points="431.7,349.3 433.4,350.9 435.5,349.1 433.9,347.5" fill="#fff"/>
<polygon points="434,353 433.2,353.8 431.2,353.2 429.7,351.6 429,349.5 429.7,348.7 431.7,349.3 433.4,350.9" fill="#fff"/>
<polygon points="548.4,222.5 548.2,216.7 546.8,211.5 544.1,206.8 541.3,208.6 543.5,212.5 544.8,216.7 544.9,221.6" fill="#fff"/>
<polygon points="548.4,222.5 548.2,216.7 546.8,211.5 544.1,206.8 545.1,206.7 546.1,206.5 547.2,206.4 549.7,211.2 551,216.4 551,222.2 550.2,222.2 549.3,222.3" fill="#fff"/>
<polygon points="519.6,198.8 519.6,197.9 518.9,200.7 518.9,201.6" fill="#fff"/>
<polygon points="525.1,199.2 523.3,199.8 522.4,202.4 524.1,201.9" fill="#fff"/>
<polygon points="521.2,199.6 519.6,198.8 518.9,201.6 520.4,202.3" fill="#fff"/>
<polygon points="523.3,199.8 521.2,199.6 520.4,202.3 522.4,202.4" fill="#fff"/>
<polygon points="523.3,199.8 521.2,199.6 519.6,198.8 519.6,197.9 521.4,197.3 523.6,197.5 525.2,198.3 525.1,199.2" fill="#fff"/>
<polygon points="474.1,377.8 477.9,377.1 481.5,376.2 484.9,374.8 483.5,372.2 480.7,373.3 477.6,374.2 474.3,374.8" fill="#fff"/>
<polygon points="484.9,374.8 485.6,375.6 486.3,376.4 487,377.2 485.5,374.5 484.9,373.8 484.2,373 483.5,372.2" fill="#fff"/>
<polygon points="487,377.2 483.6,378.6 480.1,379.6 476.3,380.3 475.6,379.5 474.8,378.6 474.1,377.8 477.9,377.1 481.5,376.2 484.9,374.8 485.6,375.6 486.3,376.4" fill="#fff"/>
<polygon points="467.2,206.1 467.3,207.1 468.6,209.7 468.5,208.7" fill="#fff"/>
<polygon points="463.4,209.5 461.6,209.3 463.2,211.9 464.8,212" fill="#fff"/>
<polygon points="467.3,207.1 465.6,208.7 466.9,211.2 468.6,209.7" fill="#fff"/>
<polygon points="465.6,208.7 463.4,209.5 464.8,212 466.9,211.2" fill="#fff"/>
<polygon points="465.6,208.7 463.4,209.5 461.6,209.3 461.6,208.3 463.2,206.8 465.3,205.9 467.2,206.1 467.3,207.1" fill="#fff"/>
<polygon points="441.2,225.6 439.5,225.9 442.2,227.9 443.7,227.7" fill="#fff"/>
<polygon points="444.4,221.4 444.6,222.5 447,224.6 446.8,223.6" fill="#fff"/>
<polygon points="443.2,224.4 441.2,225.6 443.7,227.7 445.6,226.5" fill="#fff"/>
<polygon points="444.6,222.5 443.2,224.4 445.6,226.5 447,224.6" fill="#fff"/>
<polygon points="443.2,224.4 441.2,225.6 439.5,225.9 439.4,224.9 440.8,223 442.6,221.6 444.4,221.4 444.6,222.5" fill="#fff"/>
<polygon points="481.4,210.5 476.2,207.5 473.4,204.8 471.7,202.3 470.9,200 472.3,203 472.9,205.2 474.4,207.7 477,210.2 482.1,213.1" fill="#fff"/>
<polygon points="485.1,207.3 481.4,210.5 482.1,213.1 485.7,210" fill="#fff"/>
<polygon points="481.4,210.5 476.2,207.5 473.4,204.8 471.7,202.3 470.9,200 474.7,197.4 475.5,199.5 477.2,201.9 479.9,204.3 485.1,207.3" fill="#fff"/>
<polygon points="447.5,363.5 448.3,362.6 450,360.4 449.3,361.2" fill="#fff"/>
<polygon points="452.3,364.4 453.1,366.2 454.6,363.8 453.8,362.1" fill="#fff"/>
<polygon points="448.3,362.6 450.5,363 452.1,360.8 450,360.4" fill="#fff"/>
<polygon points="450.5,363 452.3,364.4 453.8,362.1 452.1,360.8" fill="#fff"/>
<polygon points="453.1,366.2 452.5,367 450.3,366.6 448.4,365.3 447.5,363.5 448.3,362.6 450.5,363 452.3,364.4" fill="#fff"/>
<polygon points="486.8,373.9 490.6,371.6 493.9,368.6 496.8,365 493.4,364 490.9,367.2 488.2,369.6 485.1,371.5" fill="#fff"/>
<polygon points="498.6,367 495.8,370.8 492.6,373.8 488.9,376.2 488.2,375.5 487.5,374.7 486.8,373.9 490.6,371.6 493.9,368.6 496.8,365 497.4,365.7 498,366.4" fill="#fff"/>
<polygon points="418,329.2 421.8,334.5 426.1,339.1 431.2,343 438.3,346.7 440.5,344.9 433.6,341.3 428.7,337.5 424.6,333.1 421.1,328.1" fill="#fff"/>
<polygon points="438.3,346.7 439.5,351.3 441.7,349.3 440.5,344.9" fill="#fff"/>
<polygon points="439.5,351.3 432.4,347.7 427.2,343.8 422.7,339.3 418.8,334.1 418,329.2 421.8,334.5 426.1,339.1 431.2,343 438.3,346.7" fill="#fff"/>
<polygon points="413.5,290.4 414.8,291.1 418.1,291.3 416.9,290.7" fill="#fff"/>
<polygon points="415.2,295.6 414.1,296.6 417.4,296.6 418.4,295.6" fill="#fff"/>
<polygon points="414.8,291.1 415.5,293.1 418.7,293.2 418.1,291.3" fill="#fff"/>
<polygon points="415.5,293.1 415.2,295.6 418.4,295.6 418.7,293.2" fill="#fff"/>
<polygon points="415.2,295.6 414.1,296.6 412.7,295.9 412.3,294 412.6,291.5 413.5,290.4 414.8,291.1 415.5,293.1" fill="#fff"/>
<polygon points="515.4,203.3 512,202.6 508.2,202.1 503.8,201.9 499,202 493.4,202.4 486.3,202.9 486.9,205.8 493.8,205.3 499.1,204.9 503.7,204.8 507.9,204.9 511.5,205.3 514.6,206" fill="#fff"/>
<polygon points="519.2,201.5 515.4,203.3 514.6,206 518.3,204.2" fill="#fff"/>
<polygon points="515.4,203.3 512,202.6 508.2,202.1 503.8,201.9 499,202 493.4,202.4 486.3,202.9 490.2,200.3 497.3,200 502.8,199.7 507.7,199.7 512,200 515.9,200.6 519.2,201.5" fill="#fff"/>
<polygon points="421.7,325.9 420.8,326.9 423.5,325.9 424.4,324.9" fill="#fff"/>
<polygon points="418.8,321 420.4,321.6 423.1,320.7 421.6,320.1" fill="#fff"/>
<polygon points="421.6,323.5 421.7,325.9 424.4,324.9 424.2,322.5" fill="#fff"/>
<polygon points="420.4,321.6 421.6,323.5 424.2,322.5 423.1,320.7" fill="#fff"/>
<polygon points="421.7,325.9 420.8,326.9 419.2,326.3 418.1,324.4 417.9,322 418.8,321 420.4,321.6 421.6,323.5" fill="#fff"/>
<polygon points="536,210.4 533.7,207.6 531,205.1 528,202.7 526.4,205.4 529.1,207.4 531.3,209.6 533.3,211.9" fill="#fff"/>
<polygon points="539.1,209.4 538,209.7 537,210 536,210.4 533.3,211.9 534.3,211.5 535.3,211.2 536.3,210.9" fill="#fff"/>
<polygon points="536,210.4 533.7,207.6 531,205.1 528,202.7 529.1,202.4 530.2,202 531.3,201.7 534.2,204 536.8,206.6 539.1,209.4 538,209.7 537,210" fill="#fff"/>
<polygon points="428.4,247.3 426.9,247.2 430,248.7 431.3,248.7" fill="#fff"/>
<polygon points="430.9,242.3 431.3,243.7 434,245.3 433.8,243.8" fill="#fff"/>
<polygon points="430.1,246 428.4,247.3 431.3,248.7 432.9,247.5" fill="#fff"/>
<polygon points="431.3,243.7 430.1,246 432.9,247.5 434,245.3" fill="#fff"/>
<polygon points="430.1,246 428.4,247.3 426.9,247.2 426.8,245.9 427.9,243.7 429.4,242.3 430.9,242.3 431.3,243.7" fill="#fff"/>
<polygon points="468.3,370.4 468.8,369.3 469.1,366.9 468.7,367.9" fill="#fff"/>
<polygon points="472.2,370 473.2,371.6 473.1,369.1 472.2,367.6" fill="#fff"/>
<polygon points="468.8,369.3 470.6,369.2 470.7,366.7 469.1,366.9" fill="#fff"/>
<polygon points="470.6,369.2 472.2,370 472.2,367.6 470.7,366.7" fill="#fff"/>
<polygon points="473.2,371.6 472.7,372.7 471,372.9 469.3,372 468.3,370.4 468.8,369.3 470.6,369.2 472.2,370" fill="#fff"/>
<polygon points="473,208.9 473.2,210.1 474.2,212.6 473.9,211.4" fill="#fff"/>
<polygon points="469.2,212.5 467.2,212 468.3,214.5 470.3,214.9" fill="#fff"/>
<polygon points="473.2,210.1 471.6,211.7 472.5,214.2 474.2,212.6" fill="#fff"/>
<polygon points="471.6,211.7 469.2,212.5 470.3,214.9 472.5,214.2" fill="#fff"/>
<polygon points="471.6,211.7 469.2,212.5 467.2,212 467.1,210.8 468.7,209.2 470.9,208.4 473,208.9 473.2,210.1" fill="#fff"/>
<polygon points="540.4,224.5 540,220 538.9,215.9 537,212 534.2,213.3 535.7,216.4 536.6,219.8 536.9,223.7" fill="#fff"/>
<polygon points="540.4,224.5 540,220 538.9,215.9 537,212 538.1,211.7 539.1,211.4 540.1,211.1 541.8,214.9 542.8,219.1 543.1,223.6 542.2,223.9 541.3,224.2" fill="#fff"/>
<polygon points="420.6,270.3 419.1,271.5 422.3,272.3 423.6,271" fill="#fff"/>
<polygon points="420.8,266 421.3,267.8 424.4,268.6 424,267" fill="#fff"/>
<polygon points="421.3,267.8 420.6,270.3 423.6,271 424.4,268.6" fill="#fff"/>
<polygon points="420.6,270.3 419.1,271.5 417.8,271.1 417.5,269.4 418.2,267 419.4,265.7 420.8,266 421.3,267.8" fill="#fff"/>
<polygon points="454.7,361.8 455.4,360.7 456.6,358.5 456,359.6" fill="#fff"/>
<polygon points="458.9,362.1 459.8,364 460.7,361.7 459.9,359.9" fill="#fff"/>
<polygon points="455.4,360.7 457.3,360.9 458.4,358.7 456.6,358.5" fill="#fff"/>
<polygon points="457.3,360.9 458.9,362.1 459.9,359.9 458.4,358.7" fill="#fff"/>
<polygon points="459.8,364 459.1,365 457.2,364.9 455.5,363.6 454.7,361.8 455.4,360.7 457.3,360.9 458.9,362.1" fill="#fff"/>
<polygon points="438.5,357 442.1,355.4 444.7,353.7 447.2,352.1 449.7,350.8 452.3,349.7 454.9,348.9 456.1,346.9 453.7,347.7 451.3,348.8 449,350.1 446.6,351.6 444.2,353.3 440.6,354.8" fill="#fff"/>
<polygon points="454.9,348.9 456.1,353.4 457.2,351.3 456.1,346.9" fill="#fff"/>
<polygon points="456.1,353.4 453.5,354.2 451,355.3 448.6,356.5 446.2,358 443.7,359.6 440.3,361.1 438.5,357 442.1,355.4 444.7,353.7 447.2,352.1 449.7,350.8 452.3,349.7 454.9,348.9" fill="#fff"/>
<polygon points="451,223.7 451.2,225.1 452.9,227.1 452.7,225.8" fill="#fff"/>
<polygon points="447.7,228.2 446,228 448,229.9 449.6,230.2" fill="#fff"/>
<polygon points="451.2,225.1 449.7,227.1 451.5,229.1 452.9,227.1" fill="#fff"/>
<polygon points="449.7,227.1 447.7,228.2 449.6,230.2 451.5,229.1" fill="#fff"/>
<polygon points="449.7,227.1 447.7,228.2 446,228 445.8,226.6 447.3,224.6 449.2,223.5 451,223.7 451.2,225.1" fill="#fff"/>
<polygon points="478.1,367.5 483.4,365.2 488.1,362 492.1,357.9 488.7,356.9 485.2,360.5 481.5,363.1 477.1,365" fill="#fff"/>
<polygon points="493.6,360.4 489.6,364.7 485.1,368 479.9,370.4 479.3,369.4 478.7,368.5 478.1,367.5 483.4,365.2 488.1,362 492.1,357.9 492.6,358.8 493.1,359.6" fill="#fff"/>
<polygon points="429.2,330.7 428.1,331.8 430.4,330.5 431.5,329.5" fill="#fff"/>
<polygon points="425.7,325.9 427.6,326.5 429.9,325.4 428.1,324.8" fill="#fff"/>
<polygon points="429,328.3 429.2,330.7 431.5,329.5 431.3,327.1" fill="#fff"/>
<polygon points="427.6,326.5 429,328.3 431.3,327.1 429.9,325.4" fill="#fff"/>
<polygon points="429.2,330.7 428.1,331.8 426.1,331.1 424.9,329.3 424.6,327 425.7,325.9 427.6,326.5 429,328.3" fill="#fff"/>
<polygon points="519.1,207.2 519.3,206 518.2,208.3 518,209.4" fill="#fff"/>
<polygon points="524.1,207.4 522.4,208.2 521,210.3 522.6,209.5" fill="#fff"/>
<polygon points="520.5,208.2 519.1,207.2 518,209.4 519.2,210.3" fill="#fff"/>
<polygon points="522.4,208.2 520.5,208.2 519.2,210.3 521,210.3" fill="#fff"/>
<polygon points="522.4,208.2 520.5,208.2 519.1,207.2 519.3,206 521.1,205.1 523,205.2 524.4,206.2 524.1,207.4" fill="#fff"/>
<polygon points="490.7,208.1 490.5,206.8 490.9,209.4 491.1,210.6" fill="#fff"/>
<polygon points="492.8,208.8 490.7,208.1 491.1,210.6 493.1,211.3" fill="#fff"/>
<polygon points="496.8,207 495.1,208.3 495.3,210.9 497,209.6" fill="#fff"/>
<polygon points="495.1,208.3 492.8,208.8 493.1,211.3 495.3,210.9" fill="#fff"/>
<polygon points="495.1,208.3 492.8,208.8 490.7,208.1 490.5,206.8 492.3,205.5 494.6,205.1 496.7,205.8 496.8,207" fill="#fff"/>
<polygon points="465.1,228.8 459.7,225.3 456.8,222 455,218.7 454,215.3 456,217.8 456.7,221.1 458.4,224.3 461.2,227.4 466.4,230.8" fill="#fff"/>
<polygon points="468.4,224.4 465.1,228.8 466.4,230.8 469.6,226.6" fill="#fff"/>
<polygon points="465.1,228.8 459.7,225.3 456.8,222 455,218.7 454,215.3 457.5,211.6 458.4,214.8 460.2,217.9 463.1,221.1 468.4,224.4" fill="#fff"/>
<polygon points="419.9,295.8 421.6,296.3 424.2,296.2 422.7,295.7" fill="#fff"/>
<polygon points="422.1,300.8 420.9,302 423.6,301.7 424.8,300.5" fill="#fff"/>
<polygon points="421.6,296.3 422.4,298.3 425,298.1 424.2,296.2" fill="#fff"/>
<polygon points="422.4,298.3 422.1,300.8 424.8,300.5 425,298.1" fill="#fff"/>
<polygon points="422.1,300.8 420.9,302 419.3,301.4 418.5,299.6 418.8,297 419.9,295.8 421.6,296.3 422.4,298.3" fill="#fff"/>
<polygon points="534.2,227.2 533.1,221.8 530.7,216.9 527.3,212.5 525,214.2 527.8,217.8 529.7,221.7 530.8,226.3" fill="#fff"/>
<polygon points="534.2,227.2 533.1,221.8 530.7,216.9 527.3,212.5 528.4,212 529.4,211.5 530.4,211 533.7,215.5 535.9,220.4 536.9,225.9 536,226.3 535.1,226.7" fill="#fff"/>
<polygon points="417.4,304.8 420.4,310.2 424.1,315 428.6,319.1 435.3,323 437.6,322 431.1,318.2 426.7,314.2 423.3,309.6 420.6,304.4" fill="#fff"/>
<polygon points="435.3,323 435.5,328.3 437.8,327.1 437.6,322" fill="#fff"/>
<polygon points="435.5,328.3 428.8,324.4 424.1,320.3 420.3,315.5 417.2,310.2 417.4,304.8 420.4,310.2 424.1,315 428.6,319.1 435.3,323" fill="#fff"/>
<polygon points="501.6,208.8 501.6,207.5 501.5,210 501.4,211.2" fill="#fff"/>
<polygon points="507.2,208.1 505.4,209.3 505,211.6 506.7,210.5" fill="#fff"/>
<polygon points="503.3,209.6 501.6,208.8 501.4,211.2 503.1,211.9" fill="#fff"/>
<polygon points="505.4,209.3 503.3,209.6 503.1,211.9 505,211.6" fill="#fff"/>
<polygon points="505.4,209.3 503.3,209.6 501.6,208.8 501.6,207.5 503.3,206.3 505.5,206 507.2,206.8 507.2,208.1" fill="#fff"/>
<polygon points="464.5,361.3 468.5,360.9 472.3,360.2 476,359.2 474.8,357 471.8,357.8 468.5,358.4 465,358.8" fill="#fff"/>
<polygon points="477.4,362.5 473.8,363.5 470,364.3 466,364.7 465.5,363.6 465,362.4 464.5,361.3 468.5,360.9 472.3,360.2 476,359.2 476.4,360.3 476.9,361.4" fill="#fff"/>
<polygon points="446.1,345.9 445.1,347 446.9,345.3 447.8,344.2" fill="#fff"/>
<polygon points="442,341.7 444.1,342.1 445.9,340.5 443.9,340.1" fill="#fff"/>
<polygon points="445.7,343.7 446.1,345.9 447.8,344.2 447.4,342.1" fill="#fff"/>
<polygon points="444.1,342.1 445.7,343.7 447.4,342.1 445.9,340.5" fill="#fff"/>
<polygon points="446.1,345.9 445.1,347 443,346.6 441.3,345 440.9,342.7 442,341.7 444.1,342.1 445.7,343.7" fill="#fff"/>
<polygon points="434.8,250.9 433.1,250.6 435.5,251.9 437.1,252.2" fill="#fff"/>
<polygon points="437.4,245.6 437.8,247.3 439.9,248.7 439.6,247.1" fill="#fff"/>
<polygon points="436.6,249.7 434.8,250.9 437.1,252.2 438.8,251" fill="#fff"/>
<polygon points="437.8,247.3 436.6,249.7 438.8,251 439.9,248.7" fill="#fff"/>
<polygon points="436.6,249.7 434.8,250.9 433.1,250.6 432.8,248.9 434,246.6 435.7,245.3 437.4,245.6 437.8,247.3" fill="#fff"/>
<polygon points="479.4,361.8 478.9,360.7 478.5,359.6 478,358.6 476.5,356.5 476.9,357.5 477.3,358.6 477.8,359.6" fill="#fff"/>
<polygon points="478,358.6 482.1,356.8 485.8,354.5 489.2,351.7 485.8,350.7 482.9,353.2 479.8,355 476.5,356.5" fill="#fff"/>
<polygon points="490.4,354.4 487.1,357.5 483.4,359.9 479.4,361.8 478.9,360.7 478.5,359.6 478,358.6 482.1,356.8 485.8,354.5 489.2,351.7 489.6,352.6 490,353.5" fill="#fff"/>
<polygon points="427.2,274.8 425.7,276.1 428.3,276.6 429.7,275.3" fill="#fff"/>
<polygon points="427.3,270.4 427.9,272.3 430.4,272.9 429.9,271.1" fill="#fff"/>
<polygon points="427.9,272.3 427.2,274.8 429.7,275.3 430.4,272.9" fill="#fff"/>
<polygon points="427.2,274.8 425.7,276.1 424,275.6 423.5,273.8 424.3,271.3 425.7,270 427.3,270.4 427.9,272.3" fill="#fff"/>
<polygon points="456.8,227.1 457.2,228.7 458.6,230.6 458.2,229.1" fill="#fff"/>
<polygon points="453.6,231.8 451.6,231.3 453.2,233.2 455.1,233.6" fill="#fff"/>
<polygon points="457.2,228.7 455.8,230.8 457.2,232.7 458.6,230.6" fill="#fff"/>
<polygon points="455.8,230.8 453.6,231.8 455.1,233.6 457.2,232.7" fill="#fff"/>
<polygon points="455.8,230.8 453.6,231.8 451.6,231.3 451.3,229.8 452.8,227.7 454.8,226.7 456.8,227.1 457.2,228.7" fill="#fff"/>
<polygon points="497.8,215.6 494.4,215.2 490.5,215.2 486.2,215.6 481.4,216.3 476,217.5 469.2,218.8 470.3,221.1 477,219.9 482.1,218.8 486.7,218 490.8,217.6 494.4,217.6 497.6,217.9" fill="#fff"/>
<polygon points="501.5,212.5 497.8,215.6 497.6,217.9 501.2,214.9" fill="#fff"/>
<polygon points="497.8,215.6 494.4,215.2 490.5,215.2 486.2,215.6 481.4,216.3 476,217.5 469.2,218.8 472.7,214.9 479.6,213.8 485,212.8 489.9,212.2 494.2,211.9 498,212 501.5,212.5" fill="#fff"/>
<polygon points="426.3,300.5 428.3,301.1 430.6,300.8 428.7,300.2" fill="#fff"/>
<polygon points="429.2,305.6 427.7,306.8 430.1,306.3 431.4,305.1" fill="#fff"/>
<polygon points="428.3,301.1 429.4,303 431.7,302.6 430.6,300.8" fill="#fff"/>
<polygon points="429.4,303 429.2,305.6 431.4,305.1 431.7,302.6" fill="#fff"/>
<polygon points="429.2,305.6 427.7,306.8 425.8,306.2 424.8,304.3 425,301.8 426.3,300.5 428.3,301.1 429.4,303" fill="#fff"/>
<polygon points="442.2,230.8 443.4,234.9 445.5,238.8 448.6,242.5 454.2,246.2 455.9,247.7 450.4,244.1 447.4,240.5 445.5,236.8 444.6,232.8" fill="#fff"/>
<polygon points="454.2,246.2 451.6,251.3 453.3,252.6 455.9,247.7" fill="#fff"/>
<polygon points="451.6,251.3 446,247.5 442.7,243.8 440.6,239.7 439.3,235.5 442.2,230.8 443.4,234.9 445.5,238.8 448.6,242.5 454.2,246.2" fill="#fff"/>
<polygon points="519.4,219.2 516.7,216.7 513.7,214.4 510.4,212.3 509.4,214.6 512.3,216.5 514.9,218.4 517.1,220.5" fill="#fff"/>
<polygon points="519.4,219.2 516.7,216.7 513.7,214.4 510.4,212.3 511.5,211.5 512.6,210.7 513.6,210 516.9,212.2 519.8,214.6 522.5,217.1 521.4,217.8 520.4,218.5" fill="#fff"/>
<polygon points="421.5,279.1 423.7,284.3 426.8,289 430.8,293.2 437.1,297.2 439.3,297 433.2,293.1 429.4,289.1 426.5,284.6 424.5,279.5" fill="#fff"/>
<polygon points="437.1,297.2 436.3,302.8 438.5,302.4 439.3,297" fill="#fff"/>
<polygon points="436.3,302.8 430,298.8 425.8,294.6 422.6,289.9 420.2,284.6 421.5,279.1 423.7,284.3 426.8,289 430.8,293.2 437.1,297.2" fill="#fff"/>
<polygon points="520.8,220.8 521.8,220.1 522.8,219.4 523.8,218.7 521.2,219.8 520.2,220.4 519.2,221.1 518.2,221.8" fill="#fff"/>
<polygon points="526.3,232.1 525.1,228 523.2,224.3 520.8,220.8 518.2,221.8 520.3,224.6 521.8,227.7 522.8,231.2" fill="#fff"/>
<polygon points="526.3,232.1 525.1,228 523.2,224.3 520.8,220.8 521.8,220.1 522.8,219.4 523.8,218.7 526.1,222.3 527.8,226.1 528.9,230.3 528,230.9 527.1,231.4" fill="#fff"/>
<polygon points="460.7,351.7 461.4,350.4 462,348.5 461.3,349.7" fill="#fff"/>
<polygon points="464.7,351.6 465.2,353.6 465.4,351.6 464.8,349.6" fill="#fff"/>
<polygon points="461.4,350.4 463.3,350.4 463.6,348.5 462,348.5" fill="#fff"/>
<polygon points="463.3,350.4 464.7,351.6 464.8,349.6 463.6,348.5" fill="#fff"/>
<polygon points="465.2,353.6 464.5,354.9 462.7,354.9 461.2,353.7 460.7,351.7 461.4,350.4 463.3,350.4 464.7,351.6" fill="#fff"/>
<polygon points="430,253.8 431.6,258.6 434.1,263.1 437.7,267.1 443.5,271 445.5,271.7 439.8,267.9 436.4,264 434.1,259.7 432.7,255.1" fill="#fff"/>
<polygon points="443.5,271 441.8,276.6 443.8,277 445.5,271.7" fill="#fff"/>
<polygon points="441.8,276.6 435.8,272.6 432.2,268.5 429.6,264 427.8,259.1 430,253.8 431.6,258.6 434.1,263.1 437.7,267.1 443.5,271" fill="#fff"/>
<polygon points="433.1,335.2 437.3,333.1 440.4,330.9 443.4,329.1 446.4,327.6 449.2,326.4 452.1,325.6 453.4,324.4 450.7,325.2 448.1,326.3 445.3,327.8 442.5,329.6 439.5,331.7 435.3,333.7" fill="#fff"/>
<polygon points="452.1,325.6 452.3,330.8 453.6,329.4 453.4,324.4" fill="#fff"/>
<polygon points="452.3,330.8 449.5,331.6 446.7,332.8 443.8,334.3 441,336.1 437.9,338.1 433.8,340.1 433.1,335.2 437.3,333.1 440.4,330.9 443.4,329.1 446.4,327.6 449.2,326.4 452.1,325.6" fill="#fff"/>
<polygon points="453.2,341.1 453.5,343.4 454.7,341.7 454.3,339.5" fill="#fff"/>
<polygon points="449.8,339.3 451.8,339.6 453.1,338 451.3,337.8" fill="#fff"/>
<polygon points="451.8,339.6 453.2,341.1 454.3,339.5 453.1,338" fill="#fff"/>
<polygon points="453.5,343.4 452.6,344.6 450.7,344.4 449.2,342.8 448.8,340.6 449.8,339.3 451.8,339.6 453.2,341.1" fill="#fff"/>
<polygon points="440.9,255 438.9,254.6 441,255.7 442.8,256.1" fill="#fff"/>
<polygon points="443.4,249.7 444,251.5 445.8,252.7 445.3,250.9" fill="#fff"/>
<polygon points="442.9,253.9 440.9,255 442.8,256.1 444.7,255" fill="#fff"/>
<polygon points="444,251.5 442.9,253.9 444.7,255 445.8,252.7" fill="#fff"/>
<polygon points="442.9,253.9 440.9,255 438.9,254.6 438.5,252.8 439.6,250.4 441.4,249.2 443.4,249.7 444,251.5" fill="#fff"/>
<polygon points="472.2,353 471.8,351.8 471.5,350.5 471.2,349.3 470.3,347.3 470.6,348.5 471,349.7 471.3,350.9" fill="#fff"/>
<polygon points="471.2,349.3 476.8,347.7 481.8,345.5 486.3,342.5 482.9,341.5 479.1,344.1 475,346 470.3,347.3" fill="#fff"/>
<polygon points="487.1,345.6 482.7,348.9 477.7,351.3 472.2,353 471.8,351.8 471.5,350.5 471.2,349.3 476.8,347.7 481.8,345.5 486.3,342.5 486.6,343.5 486.9,344.6" fill="#fff"/>
<polygon points="431.7,274.4 433.7,274.9 435.8,275.4 434,274.9" fill="#fff"/>
<polygon points="433.8,279.4 432.1,280.6 434.3,280.9 435.9,279.7" fill="#fff"/>
<polygon points="433.7,274.9 434.5,276.8 436.6,277.2 435.8,275.4" fill="#fff"/>
<polygon points="434.5,276.8 433.8,279.4 435.9,279.7 436.6,277.2" fill="#fff"/>
<polygon points="433.8,279.4 432.1,280.6 430.1,280.1 429.4,278.2 430.1,275.6 431.7,274.4 433.7,274.9 434.5,276.8" fill="#fff"/>
<polygon points="479.6,221.5 479.9,223 480.5,225 480.3,223.6" fill="#fff"/>
<polygon points="476.1,225.6 474,225 474.9,227 476.9,227.6" fill="#fff"/>
<polygon points="479.9,223 478.3,224.8 479,226.9 480.5,225" fill="#fff"/>
<polygon points="478.3,224.8 476.1,225.6 476.9,227.6 479,226.9" fill="#fff"/>
<polygon points="478.3,224.8 476.1,225.6 474,225 473.6,223.4 475.2,221.5 477.5,220.8 479.6,221.5 479.9,223" fill="#fff"/>
<polygon points="502,219.6 502.1,218.2 501.5,220.1 501.3,221.5" fill="#fff"/>
<polygon points="507,218.8 505.4,220.2 504.5,221.9 506,220.5" fill="#fff"/>
<polygon points="503.5,220.5 502,219.6 501.3,221.5 502.7,222.3" fill="#fff"/>
<polygon points="505.4,220.2 503.5,220.5 502.7,222.3 504.5,221.9" fill="#fff"/>
<polygon points="505.4,220.2 503.5,220.5 502,219.6 502.1,218.2 503.7,216.7 505.7,216.4 507.2,217.3 507,218.8" fill="#fff"/>
<polygon points="520.4,236.8 518.2,232.2 515,228 510.9,224.1 509,225.4 512.4,228.6 515,232 516.9,236" fill="#fff"/>
<polygon points="510.9,224.1 511.9,223.2 512.9,222.4 513.9,221.5 511.9,222.9 510.9,223.8 510,224.6 509,225.4" fill="#fff"/>
<polygon points="520.4,236.8 518.2,232.2 515,228 510.9,224.1 511.9,223.2 512.9,222.4 513.9,221.5 517.9,225.5 520.9,229.9 522.9,234.7 522,235.4 521.2,236.1" fill="#fff"/>
<polygon points="443.7,322.1 442.4,323.4 444.2,322.4 445.4,321.2" fill="#fff"/>
<polygon points="440.3,317.3 442.4,317.8 444.3,317 442.2,316.5" fill="#fff"/>
<polygon points="443.7,319.6 443.7,322.1 445.4,321.2 445.4,318.7" fill="#fff"/>
<polygon points="442.4,317.8 443.7,319.6 445.4,318.7 444.3,317" fill="#fff"/>
<polygon points="443.7,322.1 442.4,323.4 440.3,322.9 438.9,321.1 438.9,318.6 440.3,317.3 442.4,317.8 443.7,319.6" fill="#fff"/>
<polygon points="490.2,222.9 488.6,224.7 488.7,226.6 490.2,224.9" fill="#fff"/>
<polygon points="486.6,225.3 484.8,224.6 485.1,226.5 486.8,227.2" fill="#fff"/>
<polygon points="488.6,224.7 486.6,225.3 486.8,227.2 488.7,226.6" fill="#fff"/>
<polygon points="488.6,224.7 486.6,225.3 484.8,224.6 484.6,223 486.2,221.3 488.3,220.6 490.1,221.4 490.2,222.9" fill="#fff"/>
<polygon points="473.1,339.1 477.4,338.1 481.3,336.7 484.9,334.8 481.5,333.9 478.4,335.5 475.1,336.7 471.6,337.5" fill="#fff"/>
<polygon points="473.7,343 473.5,341.7 473.3,340.4 473.1,339.1 471.6,337.5 471.8,338.8 472,340 472.2,341.3" fill="#fff"/>
<polygon points="485.4,338.2 481.8,340.3 478,341.8 473.7,343 473.5,341.7 473.3,340.4 473.1,339.1 477.4,338.1 481.3,336.7 484.9,334.8 485.1,335.9 485.2,337.1" fill="#fff"/>
<polygon points="459.1,340.3 463.2,340.3 467.2,340 471,339.5 469.9,337.8 466.7,338.2 463.4,338.5 459.8,338.5" fill="#fff"/>
<polygon points="471.6,343.4 467.8,344 463.9,344.4 459.8,344.5 459.6,343.1 459.3,341.7 459.1,340.3 463.2,340.3 467.2,340 471,339.5 471.2,340.8 471.4,342.1" fill="#fff"/>
<polygon points="481.8,233.4 478.4,233.3 474.6,233.7 470.4,234.6 465.9,235.9 460.8,237.6 454.3,239.5 455.8,241.1 462.2,239.3 467.1,237.7 471.4,236.4 475.4,235.6 478.9,235.1 482.1,235.1" fill="#fff"/>
<polygon points="485,229.2 481.8,233.4 482.1,235.1 485.3,231.1" fill="#fff"/>
<polygon points="481.8,233.4 478.4,233.3 474.6,233.7 470.4,234.6 465.9,235.9 460.8,237.6 454.3,239.5 457.2,234.7 463.8,232.9 469,231.3 473.6,230.1 477.8,229.4 481.6,229.1 485,229.2" fill="#fff"/>
<polygon points="453.2,305.8 450.2,306.5 447,307.6 443.8,309.2 440.4,311.1 436.8,313.4 432,315.8 434.4,315 439,312.7 442.5,310.5 445.7,308.6 448.7,307.1 451.6,305.9 454.4,305.2" fill="#fff"/>
<polygon points="454,300.3 453.2,305.8 454.4,305.2 455.2,299.9" fill="#fff"/>
<polygon points="453.2,305.8 450.2,306.5 447,307.6 443.8,309.2 440.4,311.1 436.8,313.4 432,315.8 432.3,310.3 437.2,307.9 440.9,305.6 444.4,303.6 447.7,302.1 450.9,301 454,300.3" fill="#fff"/>
<polygon points="513,244.3 511,240.9 508.5,237.8 505.4,234.8 503.3,235.5 505.8,237.9 507.8,240.5 509.5,243.4" fill="#fff"/>
<polygon points="505.4,234.8 506.3,233.8 507.2,232.8 508.2,231.8 505.9,232.6 505,233.6 504.1,234.5 503.3,235.5" fill="#fff"/>
<polygon points="513,244.3 511,240.9 508.5,237.8 505.4,234.8 506.3,233.8 507.2,232.8 508.2,231.8 511.1,234.9 513.5,238.1 515.4,241.7 514.6,242.5 513.8,243.4" fill="#fff"/>
<polygon points="461.9,247 459.7,246.4 461.1,247.8 463.1,248.4" fill="#fff"/>
<polygon points="464.7,242 465.2,243.7 466.3,245.2 465.9,243.5" fill="#fff"/>
<polygon points="465.2,243.7 463.9,246 465,247.4 466.3,245.2" fill="#fff"/>
<polygon points="463.9,246 461.9,247 463.1,248.4 465,247.4" fill="#fff"/>
<polygon points="463.9,246 461.9,247 459.7,246.4 459.2,244.6 460.5,242.4 462.6,241.4 464.7,242 465.2,243.7" fill="#fff"/>
<polygon points="503.8,233.5 500.8,231.4 497.4,229.4 493.9,227.5 493.4,229.4 496.5,231 499.4,232.7 502,234.4" fill="#fff"/>
<polygon points="503.8,233.5 500.8,231.4 497.4,229.4 493.9,227.5 494.8,226.4 495.8,225.3 496.8,224.3 500.3,226.2 503.6,228.3 506.6,230.5 505.7,231.5 504.8,232.5" fill="#fff"/>
<polygon points="457.4,329.1 458.4,327.8 459,326.5 458.1,327.9" fill="#fff"/>
<polygon points="461.4,329.4 461.5,331.7 461.8,330.3 461.7,328.1" fill="#fff"/>
<polygon points="458.4,327.8 460.3,327.9 460.7,326.6 459,326.5" fill="#fff"/>
<polygon points="460.3,327.9 461.4,329.4 461.7,328.1 460.7,326.6" fill="#fff"/>
<polygon points="461.5,331.7 460.5,333.1 458.7,333 457.5,331.5 457.4,329.1 458.4,327.8 460.3,327.9 461.4,329.4" fill="#fff"/>
<polygon points="451.9,319.5 450.7,320.8 452,319.8 453.1,318.5" fill="#fff"/>
<polygon points="448.9,314.9 450.9,315.3 452.2,314.4 450.4,314.1" fill="#fff"/>
<polygon points="452,317 451.9,319.5 453.1,318.5 453.2,316.1" fill="#fff"/>
<polygon points="450.9,315.3 452,317 453.2,316.1 452.2,314.4" fill="#fff"/>
<polygon points="451.9,319.5 450.7,320.8 448.7,320.5 447.6,318.7 447.7,316.2 448.9,314.9 450.9,315.3 452,317" fill="#fff"/>
<polygon points="443.3,291.4 445.5,291.9 447.2,291.8 445.2,291.3" fill="#fff"/>
<polygon points="446,296.4 444.4,297.7 446.2,297.4 447.7,296.2" fill="#fff"/>
<polygon points="445.5,291.9 446.4,293.8 448.1,293.7 447.2,291.8" fill="#fff"/>
<polygon points="446.4,293.8 446,296.4 447.7,296.2 448.1,293.7" fill="#fff"/>
<polygon points="446,296.4 444.4,297.7 442.3,297.1 441.2,295.2 441.7,292.6 443.3,291.4 445.5,291.9 446.4,293.8" fill="#fff"/>
<polygon points="468.4,327.7 474.2,327 479.4,325.9 484.1,324.1 480.7,323.2 476.6,324.7 472.4,325.7 467.6,326.2" fill="#fff"/>
<polygon points="468.6,331.9 468.5,330.5 468.4,329.1 468.4,327.7 467.6,326.2 467.7,327.6 467.7,329 467.8,330.4" fill="#fff"/>
<polygon points="484.2,327.7 479.5,329.7 474.4,331.1 468.6,331.9 468.5,330.5 468.4,329.1 468.4,327.7 474.2,327 479.4,325.9 484.1,324.1 484.1,325.3 484.2,326.5" fill="#fff"/>
<polygon points="468.5,255.3 465.1,255.6 461.5,256.4 457.6,257.6 453.3,259.3 448.6,261.4 442.6,263.7 444.6,264.6 450.4,262.3 454.9,260.3 459,258.7 462.7,257.5 466.1,256.7 469.2,256.4" fill="#fff"/>
<polygon points="471.1,250.4 468.5,255.3 469.2,256.4 471.7,251.6" fill="#fff"/>
<polygon points="468.5,255.3 465.1,255.6 461.5,256.4 457.6,257.6 453.3,259.3 448.6,261.4 442.6,263.7 444.8,258.3 450.9,256.1 455.7,254 460,252.4 464,251.3 467.7,250.6 471.1,250.4" fill="#fff"/>
<polygon points="451.1,271.6 448.9,271 450.6,271.7 452.6,272.2" fill="#fff"/>
<polygon points="453.1,266 453.8,267.9 455.2,268.6 454.6,266.8" fill="#fff"/>
<polygon points="452.9,270.4 451.1,271.6 452.6,272.2 454.3,271" fill="#fff"/>
<polygon points="453.8,267.9 452.9,270.4 454.3,271 455.2,268.6" fill="#fff"/>
<polygon points="452.9,270.4 451.1,271.6 448.9,271 448.1,269.1 449,266.6 451,265.4 453.1,266 453.8,267.9" fill="#fff"/>
<polygon points="507.7,250.8 504.6,247.2 500.7,243.9 496,240.8 494.5,241.6 498.4,244.2 501.6,246.9 504.3,249.9" fill="#fff"/>
<polygon points="496,240.8 496.8,239.6 497.7,238.5 498.6,237.3 497,238.3 496.2,239.4 495.3,240.5 494.5,241.6" fill="#fff"/>
<polygon points="507.7,250.8 504.6,247.2 500.7,243.9 496,240.8 496.8,239.6 497.7,238.5 498.6,237.3 503.2,240.6 507,244.1 509.9,247.9 509.2,248.8 508.4,249.8" fill="#fff"/>
<polygon points="458.7,280 455.5,280.6 452.1,281.6 448.5,283 444.6,284.9 440.5,287.2 435,289.7 437.3,289.7 442.5,287.4 446.5,285.1 450.2,283.3 453.6,281.8 456.8,280.8 459.8,280.3" fill="#fff"/>
<polygon points="460.5,274.6 458.7,280 459.8,280.3 461.5,275" fill="#fff"/>
<polygon points="458.7,280 455.5,280.6 452.1,281.6 448.5,283 444.6,284.9 440.5,287.2 435,289.7 436.3,284.1 441.8,281.6 446.1,279.4 450.1,277.5 453.7,276.1 457.2,275.1 460.5,274.6" fill="#fff"/>
<polygon points="486.5,237.3 486.4,235.7 486.2,237.1 486.3,238.7" fill="#fff"/>
<polygon points="491.4,235.5 490,237.4 489.4,238.7 490.8,236.8" fill="#fff"/>
<polygon points="488.1,238.1 486.5,237.3 486.3,238.7 487.7,239.4" fill="#fff"/>
<polygon points="490,237.4 488.1,238.1 487.7,239.4 489.4,238.7" fill="#fff"/>
<polygon points="490,237.4 488.1,238.1 486.5,237.3 486.4,235.7 487.8,233.7 489.7,233 491.3,233.9 491.4,235.5" fill="#fff"/>
<polygon points="475,240.9 475.3,242.7 475.8,244 475.5,242.4" fill="#fff"/>
<polygon points="472,245.8 470.2,245.1 471,246.5 472.7,247.1" fill="#fff"/>
<polygon points="475.3,242.7 473.9,244.8 474.5,246.1 475.8,244" fill="#fff"/>
<polygon points="473.9,244.8 472,245.8 472.7,247.1 474.5,246.1" fill="#fff"/>
<polygon points="473.9,244.8 472,245.8 470.2,245.1 469.8,243.4 471.1,241.2 473.1,240.3 475,240.9 475.3,242.7" fill="#fff"/>
<polygon points="472.3,317 476.7,316.8 480.6,316.4 484.3,315.6 480.8,314.6 477.7,315.3 474.4,315.7 470.9,315.8" fill="#fff"/>
<polygon points="472.1,321.3 472.2,319.8 472.3,318.4 472.3,317 470.9,315.8 470.8,317.2 470.8,318.6 470.7,320" fill="#fff"/>
<polygon points="484.1,319.3 480.4,320.3 476.5,320.9 472.1,321.3 472.2,319.8 472.3,318.4 472.3,317 476.7,316.8 480.6,316.4 484.3,315.6 484.2,316.8 484.1,318.1" fill="#fff"/>
<polygon points="458.3,316.4 462.4,316.7 466.4,316.9 470.2,317 469.2,315.8 466,315.8 462.6,315.7 459,315.4" fill="#fff"/>
<polygon points="470,321.3 466.2,321.4 462.2,321.3 458.1,321 458.1,319.5 458.2,318 458.3,316.4 462.4,316.7 466.4,316.9 470.2,317 470.1,318.4 470.1,319.9" fill="#fff"/>
<polygon points="452.7,289.1 454.7,289.5 455.9,289.5 454.1,289.1" fill="#fff"/>
<polygon points="454.9,293.9 453.5,295.2 454.7,295 456.1,293.7" fill="#fff"/>
<polygon points="454.7,289.5 455.5,291.4 456.6,291.3 455.9,289.5" fill="#fff"/>
<polygon points="455.5,291.4 454.9,293.9 456.1,293.7 456.6,291.3" fill="#fff"/>
<polygon points="454.9,293.9 453.5,295.2 451.5,294.8 450.6,292.9 451.2,290.4 452.7,289.1 454.7,289.5 455.5,291.4" fill="#fff"/>
<polygon points="501.4,260.3 498.8,257.8 495.7,255.5 492.1,253.2 490.2,253.5 493.1,255.4 495.7,257.3 498,259.4" fill="#fff"/>
<polygon points="492.1,253.2 492.9,252 493.6,250.8 494.4,249.5 492.5,249.9 491.7,251.1 491,252.3 490.2,253.5" fill="#fff"/>
<polygon points="501.4,260.3 498.8,257.8 495.7,255.5 492.1,253.2 492.9,252 493.6,250.8 494.4,249.5 497.9,251.9 500.9,254.4 503.4,257 502.7,258.1 502.1,259.2" fill="#fff"/>
<polygon points="460.7,269.6 458.8,269.1 460,269.7 461.7,270.2" fill="#fff"/>
<polygon points="462.9,264.2 463.4,266 464.3,266.7 463.8,264.9" fill="#fff"/>
<polygon points="462.5,268.5 460.7,269.6 461.7,270.2 463.4,269" fill="#fff"/>
<polygon points="463.4,266 462.5,268.5 463.4,269 464.3,266.7" fill="#fff"/>
<polygon points="462.5,268.5 460.7,269.6 458.8,269.1 458.2,267.2 459.2,264.8 461,263.6 462.9,264.2 463.4,266" fill="#fff"/>
<polygon points="470,304 475.8,304.4 480.9,304.4 485.5,304.1 482.1,303.2 478.2,303.5 473.9,303.5 469.2,303.2" fill="#fff"/>
<polygon points="469.4,308.5 469.6,307 469.8,305.5 470,304 469.2,303.2 469,304.7 468.8,306.1 468.6,307.6" fill="#fff"/>
<polygon points="485,307.9 480.3,308.5 475.1,308.7 469.4,308.5 469.6,307 469.8,305.5 470,304 475.8,304.4 480.9,304.4 485.5,304.1 485.3,305.4 485.2,306.7" fill="#fff"/>
<polygon points="462.7,305.1 462.4,307.5 462.6,306.8 462.9,304.4" fill="#fff"/>
<polygon points="460,303.1 461.8,303.4 462.2,302.8 460.6,302.5" fill="#fff"/>
<polygon points="461.8,303.4 462.7,305.1 462.9,304.4 462.2,302.8" fill="#fff"/>
<polygon points="462.4,307.5 461.1,308.9 459.3,308.6 458.3,306.9 458.7,304.4 460,303.1 461.8,303.4 462.7,305.1" fill="#fff"/>
<polygon points="490.3,252.2 486.9,250.6 483.3,249 479.5,247.5 479.5,248.7 482.8,250 485.9,251.3 488.8,252.7" fill="#fff"/>
<polygon points="490.3,252.2 486.9,250.6 483.3,249 479.5,247.5 480.3,246.1 481.1,244.8 482,243.5 485.7,245 489.3,246.7 492.6,248.4 491.8,249.7 491.1,251" fill="#fff"/>
<polygon points="497.1,268.1 493.3,265.8 488.8,263.5 483.6,261.3 482.4,261.7 486.7,263.5 490.4,265.3 493.7,267.2" fill="#fff"/>
<polygon points="483.6,261.3 484.2,260 484.9,258.6 485.6,257.3 484.4,257.7 483.7,259 483.1,260.3 482.4,261.7" fill="#fff"/>
<polygon points="497.1,268.1 493.3,265.8 488.8,263.5 483.6,261.3 484.2,260 484.9,258.6 485.6,257.3 490.8,259.6 495.2,262.1 498.9,264.7 498.3,265.8 497.7,266.9" fill="#fff"/>
<polygon points="475.8,293.6 480,294.3 483.8,294.9 487.3,295.3 483.9,294.4 480.9,294 477.8,293.6 474.3,293" fill="#fff"/>
<polygon points="474.9,298 475.2,296.5 475.5,295.1 475.8,293.6 474.3,293 474,294.4 473.7,295.8 473.4,297.3" fill="#fff"/>
<polygon points="486.5,299.1 482.9,298.9 479.1,298.5 474.9,298 475.2,296.5 475.5,295.1 475.8,293.6 480,294.3 483.8,294.9 487.3,295.3 487,296.6 486.7,297.8" fill="#fff"/>
<polygon points="475.4,259.7 473.7,259.1 473.8,259.8 475.3,260.4" fill="#fff"/>
<polygon points="478.2,256.4 477.1,258.7 476.9,259.4 478,257.2" fill="#fff"/>
<polygon points="477.1,258.7 475.4,259.7 475.3,260.4 476.9,259.4" fill="#fff"/>
<polygon points="477.1,258.7 475.4,259.7 473.7,259.1 473.3,257.3 474.4,255 476.2,254 477.9,254.7 478.2,256.4" fill="#fff"/>
<polygon points="492.4,279 489.2,277.6 485.7,276.2 481.7,274.8 480,274.6 483.3,275.8 486.2,276.9 488.9,278.1" fill="#fff"/>
<polygon points="481.7,274.8 482.2,273.4 482.8,272 483.4,270.6 481.7,270.5 481.1,271.9 480.6,273.2 480,274.6" fill="#fff"/>
<polygon points="492.4,279 489.2,277.6 485.7,276.2 481.7,274.8 482.2,273.4 482.8,272 483.4,270.6 487.3,272.2 490.7,273.8 493.8,275.3 493.3,276.5 492.8,277.7" fill="#fff"/>
<polygon points="474.5,284.5 474.9,283 475.4,281.5 475.9,280 474.9,279.9 474.5,281.3 474,282.7 473.6,284.2" fill="#fff"/>
<polygon points="489.4,287.6 485,286.7 480.1,285.6 474.5,284.5 474.9,283 475.4,281.5 475.9,280 481.4,281.4 486.3,282.7 490.6,283.8 490.2,285.1 489.8,286.3" fill="#fff"/>
<polygon points="467.7,282.6 466.2,283.8 466.4,283.8 467.8,282.6" fill="#fff"/>
<polygon points="467.9,278.4 468.4,280.2 468.5,280.2 468,278.5" fill="#fff"/>
<polygon points="468.4,280.2 467.7,282.6 467.8,282.6 468.5,280.2" fill="#fff"/>
<polygon points="467.7,282.6 466.2,283.8 464.4,283.4 463.7,281.6 464.5,279.1 466.1,277.9 467.9,278.4 468.4,280.2" fill="#fff"/>
<polygon points="462,291.2 466.1,291.9 470,292.6 473.8,293.2 472.6,292.7 469.5,292.2 466.1,291.6 462.6,290.9" fill="#fff"/>
<polygon points="472.8,297.7 469,297.2 465.1,296.6 461,295.9 461.3,294.3 461.6,292.7 462,291.2 466.1,291.9 470,292.6 473.8,293.2 473.4,294.7 473.1,296.2" fill="#fff"/>
<polygon points="479.7,274.1 476.1,273 472.2,271.9 468.3,270.8 468.6,271.3 472.1,272.2 475.4,273.1 478.4,274" fill="#fff"/>
<polygon points="479.7,274.1 476.1,273 472.2,271.9 468.3,270.8 468.9,269.3 469.5,267.8 470.1,266.3 474,267.5 477.8,268.7 481.4,269.9 480.8,271.3 480.3,272.7" fill="#fff"/>
</g>
<ellipse cx="536.6" cy="299.5" rx="49.4" ry="78.8" fill="#fff" stroke-width="1.0" transform="rotate(18.8 536.6 299.5)"/>
<ellipse cx="536.6" cy="299.5" rx="48.7" ry="77.6" stroke-width="0.8" transform="rotate(18.8 536.6 299.5)"/>
<ellipse cx="536.6" cy="299.5" rx="47.9" ry="76.4" stroke-width="0.8" transform="rotate(18.8 536.6 299.5)"/>
<ellipse cx="531.8" cy="295.4" rx="35.6" ry="53" fill="#fff" stroke-width="1.5" transform="rotate(18.8 531.8 295.4)"/>
<clipPath id="hole"><ellipse cx="531.8" cy="295.4" rx="35.6" ry="53" transform="rotate(18.8 531.8 295.4)"/></clipPath>
<g clip-path="url(#hole)" stroke-width="0.9">
<ellipse cx="480.5" cy="284.8" rx="32.6" ry="52" stroke-width="0.9" transform="rotate(18.8 480.5 284.8)"/>
<ellipse cx="478.6" cy="284.3" rx="31.7" ry="50.5" stroke-width="0.9" transform="rotate(18.8 478.6 284.3)"/>
<ellipse cx="476.6" cy="283.8" rx="30.7" ry="49" stroke-width="0.9" transform="rotate(18.8 476.6 283.8)"/>
<path d="M531,242 C528.5,275 519,306 499,340" stroke-width="0.9"/>
<path d="M552.3,250 C552.6,285 546,312 530,340" stroke-width="0.9"/>
<ellipse cx="530.9" cy="295.1" rx="33.5" ry="50.4" stroke-width="1.0" transform="rotate(18.8 530.9 295.1)"/>
</g>
</g>
<g id="rim">
<ellipse cx="630.6" cy="329.3" rx="32.9" ry="57.3" fill="#fff" stroke-width="1.1" transform="rotate(20.6 630.6 329.3)"/>
<ellipse cx="632.6" cy="329.9" rx="32" ry="55.8" fill="#fff" stroke-width="0.9" transform="rotate(20.6 632.6 329.9)"/>
<ellipse cx="638.5" cy="331.6" rx="29.6" ry="51.5" fill="#fff" stroke-width="0.9" transform="rotate(20.6 638.5 331.6)"/>
<ellipse cx="648.3" cy="334.6" rx="28.7" ry="50" fill="#fff" stroke-width="0.9" transform="rotate(20.6 648.3 334.6)"/>
<ellipse cx="658.2" cy="337.5" rx="28.7" ry="50" fill="#fff" stroke-width="0.9" transform="rotate(20.6 658.2 337.5)"/>
<ellipse cx="668" cy="340.4" rx="29.3" ry="51" fill="#fff" stroke-width="0.9" transform="rotate(20.6 668 340.4)"/>
<ellipse cx="679.8" cy="343.9" rx="32.9" ry="57.3" fill="#fff" stroke-width="1.2" transform="rotate(20.6 679.8 343.9)"/>
<polyline points="665.7,397.1 662.9,396.7 660.2,395.9 657.7,394.8 655.3,393.2 653.2,391.3 651.2,389 649.4,386.3 647.9,383.4 646.6,380.1 645.6,376.5 644.8,372.8 644.3,368.7 644.1,364.6 644.1,360.2 644.4,355.7 645,351.1 645.9,346.5 647,341.9 648.3,337.2 649.9,332.7 651.7,328.2 653.8,323.8 656,319.6 658.4,315.5 661,311.7 663.7,308.2 666.5,304.8 669.5,301.8 672.5,299.2 675.6,296.8 678.7,294.8 681.8,293.2 684.9,292 688,291.2 691,290.7 693.9,290.7 696.7,291.1 699.4,291.9 701.9,293 704.3,294.6" stroke-width="0.8"/>
<ellipse cx="677.3" cy="343.2" rx="31.5" ry="54.8" stroke-width="0.9" transform="rotate(20.6 677.3 343.2)"/>
<ellipse cx="674.9" cy="342.4" rx="30" ry="52.3" stroke-width="0.9" transform="rotate(20.6 674.9 342.4)"/>
<ellipse cx="672.4" cy="341.7" rx="28.6" ry="49.8" fill="#fff" stroke-width="0.9" transform="rotate(20.6 672.4 341.7)"/>
<clipPath id="rimclip"><ellipse cx="672.4" cy="341.7" rx="28.6" ry="49.8" transform="rotate(20.6 672.4 341.7)"/></clipPath>
<clipPath id="rimclip2"><ellipse cx="679.8" cy="343.9" rx="31" ry="54" transform="rotate(20.6 679.8 343.9)"/></clipPath>
<g clip-path="url(#rimclip2)"><g clip-path="url(#rimclip)">
<ellipse cx="670" cy="341" rx="26.7" ry="46.5" stroke-width="0.8" transform="rotate(20.6 670 341)"/>
<path d="M683.4,321.8C682.6,324.7 683.5,323.5 683.8,324.9C684.2,326.3 683.1,327 684.8,327.5C686.5,327.9 687.9,327.2 690.6,326.8C693.3,326.3 694.3,327.3 695.6,325.5C697,323.7 696.5,323.4 696,319.4C695.5,315.4 694.8,312.8 693.5,309.5C692.3,306.2 692.5,305.3 690.9,306.3C689.4,307.2 689.2,309.3 687.3,313.2C685.5,317.1 684.3,318.8 683.4,321.8Z" stroke-width="1.1"/>
<path d="M682.7,320C682.1,322.3 682.8,321.4 683.1,322.5C683.4,323.7 682.6,324.2 683.9,324.7C685.1,325.1 686.1,324.8 688.1,324.4C690.1,324 691,325.3 691.8,322.9C692.7,320.5 692.2,318.2 691.4,314.6C690.5,311.1 689.9,309 688.4,308.8C686.9,308.5 686.9,310.8 685.5,313.6C684,316.4 683.3,317.8 682.7,320Z" stroke-width="0.8"/>
<path d="M683.5,335.6C684.4,335.4 686.9,334.8 688.6,334.4C690.2,334 692.3,333.2 693.3,333.3C694.2,333.4 694.4,334.2 694.3,334.8C694.2,335.4 693.8,336.3 692.7,336.8C691.7,337.3 689.7,337.4 688.1,337.7C686.4,337.9 683.9,338.4 683.1,338.5" stroke-width="0.9"/>
<path d="M681.9,346.6C679.9,347.9 680.8,348.1 680,349.8C679.1,351.4 678.6,350.6 678.6,353.3C678.6,356.1 679.2,357.4 680,360.8C680.7,364.1 680.2,366.3 681.6,366.6C682.9,366.9 683,366.1 685.4,362.1C687.8,358 689.4,354.9 691.2,350.4C693,345.9 693.6,345.4 692.8,344.1C691.9,342.7 690.6,344.2 687.8,344.9C685.1,345.5 683.8,345.4 681.9,346.6Z" stroke-width="1.1"/>
<path d="M680.3,347.4C678.8,348.5 679.5,348.7 678.8,350.1C678.1,351.4 677.7,350.8 677.6,352.9C677.5,355 677.9,356.2 678.5,358.6C679.1,361 678.4,363.4 680.1,362.5C681.7,361.6 683.1,359.1 685.1,354.9C687.2,350.8 688.4,348.2 688.3,345.9C688.2,343.7 686.8,345.5 684.8,345.9C682.8,346.3 681.8,346.4 680.3,347.4Z" stroke-width="0.8"/>
<path d="M673.3,358.3C673.5,359.3 674.4,362.3 674.9,364.2C675.4,366.1 676.2,368.5 676.3,369.8C676.5,371.2 676,372.1 675.6,372.5C675.2,372.8 674.5,373 674.1,372C673.6,371 673.2,368.2 672.7,366.3C672.3,364.3 671.6,361.1 671.4,360.1" stroke-width="0.9"/>
<path d="M666.1,365.2C665,363.5 665,364.9 663.9,365.2C662.7,365.4 663.1,363.9 661.4,366.2C659.7,368.5 659,370.5 657,374.3C655.1,378.1 653.6,379.3 653.6,381.4C653.7,383.6 654.2,383 657.1,382.9C660.1,382.9 662.2,382.4 665.3,381.2C668.5,380 668.8,380.4 669.5,378.1C670.3,375.8 669.1,375.2 668.2,372C667.4,368.7 667.2,366.9 666.1,365.2Z" stroke-width="1.1"/>
<path d="M662.9,367C662,365.8 661.9,366.9 661,367.1C660,367.3 660.3,366.2 659,367.8C657.7,369.5 657,370.9 655.6,373.7C654.3,376.6 652.6,377.6 653.5,379.2C654.3,380.7 656.1,380.5 659,379.9C661.9,379.3 663.8,378.7 665.1,376.7C666.5,374.7 665.1,374.3 664.6,371.9C664,369.5 663.8,368.2 662.9,367Z" stroke-width="0.8"/>
<path d="M657.4,363C656.9,364.2 655.1,367.8 654,370.2C652.9,372.5 651.6,375.5 650.8,376.8C649.9,378.2 649.3,378.2 649,378C648.7,377.8 648.5,377 649,375.5C649.6,374 651.2,371.2 652.4,368.9C653.6,366.6 655.4,363.1 656,361.9" stroke-width="0.9"/>
<path d="M652,358.9C652.8,355.9 651.9,357.1 651.6,355.7C651.2,354.3 652.3,353.6 650.6,353.2C648.8,352.7 647.5,353.4 644.7,353.9C642,354.3 641.1,353.3 639.8,355.1C638.4,356.9 638.9,357.2 639.4,361.2C639.9,365.2 640.6,367.8 641.9,371.1C643.1,374.4 642.9,375.3 644.5,374.4C646,373.4 646.2,371.3 648.1,367.4C649.9,363.5 651.1,361.8 652,358.9Z" stroke-width="1.1"/>
<path d="M647.8,359.1C648.4,356.9 647.7,357.8 647.4,356.6C647.1,355.4 647.9,354.9 646.6,354.5C645.4,354 644.4,354.3 642.4,354.8C640.4,355.2 639.5,353.8 638.6,356.3C637.8,358.7 638.2,361 639.1,364.5C640,368.1 640.6,370.1 642.1,370.4C643.6,370.6 643.6,368.4 645,365.5C646.4,362.7 647.2,361.4 647.8,359.1Z" stroke-width="0.8"/>
<path d="M651.9,345C651,345.2 648.5,345.9 646.8,346.2C645.2,346.6 643.1,347.4 642.1,347.3C641.2,347.3 641,346.4 641.1,345.8C641.2,345.3 641.6,344.3 642.7,343.8C643.7,343.4 645.7,343.3 647.3,343C648.9,342.7 651.5,342.3 652.3,342.1" stroke-width="0.9"/>
<path d="M653.5,334C655.5,332.8 654.6,332.5 655.4,330.8C656.3,329.2 656.8,330.1 656.8,327.3C656.8,324.6 656.2,323.2 655.4,319.9C654.7,316.5 655.2,314.3 653.8,314C652.5,313.7 652.4,314.5 650,318.6C647.6,322.6 646,325.7 644.2,330.2C642.4,334.7 641.8,335.2 642.6,336.5C643.5,337.9 644.8,336.4 647.6,335.7C650.3,335.1 651.6,335.2 653.5,334Z" stroke-width="1.1"/>
<path d="M650.1,331.7C651.6,330.7 651,330.5 651.7,329.1C652.3,327.7 652.8,328.4 652.9,326.2C652.9,324.1 652.6,323 652,320.6C651.4,318.2 652.1,315.8 650.4,316.7C648.8,317.6 647.4,320.1 645.3,324.2C643.3,328.4 642.1,331 642.2,333.2C642.3,335.5 643.7,333.6 645.7,333.2C647.7,332.9 648.7,332.7 650.1,331.7Z" stroke-width="0.8"/>
<path d="M662.1,322.3C661.9,321.3 661,318.3 660.5,316.4C660,314.5 659.2,312.2 659.1,310.8C658.9,309.4 659.4,308.5 659.8,308.2C660.2,307.8 660.8,307.6 661.3,308.6C661.8,309.7 662.2,312.4 662.6,314.4C663.1,316.4 663.8,319.5 664,320.5" stroke-width="0.9"/>
<path d="M669.3,315.4C670.4,317.1 670.4,315.7 671.5,315.5C672.7,315.2 672.3,316.7 674,314.5C675.7,312.2 676.4,310.1 678.4,306.3C680.3,302.5 681.8,301.3 681.8,299.2C681.7,297 681.2,297.6 678.3,297.7C675.3,297.8 673.1,298.2 670,299.4C666.9,300.6 666.6,300.2 665.8,302.5C665.1,304.8 666.3,305.4 667.2,308.6C668,311.9 668.2,313.7 669.3,315.4Z" stroke-width="1.1"/>
<path d="M667.6,312.1C668.5,313.3 668.5,312.3 669.5,312.1C670.5,311.9 670.1,313 671.5,311.3C672.8,309.7 673.5,308.3 674.8,305.4C676.2,302.6 677.9,301.5 677,300C676.2,298.5 674.4,298.7 671.5,299.3C668.6,299.9 666.7,300.4 665.3,302.4C663.9,304.4 665.4,304.8 665.9,307.3C666.5,309.7 666.7,310.9 667.6,312.1Z" stroke-width="0.8"/>
<path d="M678,317.6C678.5,316.4 680.3,312.8 681.4,310.5C682.5,308.2 683.8,305.1 684.6,303.8C685.5,302.5 686.1,302.4 686.4,302.6C686.7,302.8 686.9,303.6 686.4,305.1C685.8,306.6 684.2,309.4 683,311.7C681.8,314 680,317.6 679.4,318.7" stroke-width="0.9"/>
</g></g>
<polyline points="663.4,395.2 660.8,394.4 658.3,393.3 656,391.8 653.9,389.9 652,387.7 650.3,385.1 648.8,382.2 647.6,379 646.6,375.6 645.8,371.9 645.4,368 645.1,364 645.2,359.7 645.5,355.4 646,350.9 646.8,346.4 647.9,341.9 649.2,337.4 650.8,333 652.5,328.6 654.5,324.4 656.7,320.3 659,316.4 661.5,312.7 664.2,309.2 666.9,306 669.8,303.1 672.7,300.4 675.7,298.2 678.7,296.2 681.7,294.7 684.8,293.5 687.7,292.7 690.6,292.3 693.5,292.2 696.2,292.6 698.8,293.4 701.3,294.5" stroke-width="0.8"/>
<ellipse cx="667.7" cy="340.4" rx="13.4" ry="22" fill="#fff" stroke-width="1.2" transform="rotate(20.6 667.7 340.4)"/>
<ellipse cx="666.9" cy="339.6" rx="5.9" ry="10.6" fill="#fff" stroke-width="1.1" transform="rotate(20.6 666.9 339.6)"/>
<ellipse cx="667.9" cy="339.8" rx="4.8" ry="9.2" stroke-width="0.9" transform="rotate(20.6 667.9 339.8)"/>
<ellipse cx="675.3" cy="324.1" rx="2" ry="3" fill="#444" stroke-width="1.1" transform="rotate(20.6 675.3 324.1)"/>
<ellipse cx="659.1" cy="330.8" rx="2" ry="3" fill="#444" stroke-width="1.1" transform="rotate(20.6 659.1 330.8)"/>
<ellipse cx="674.4" cy="347.1" rx="2" ry="3" fill="#444" stroke-width="1.1" transform="rotate(20.6 674.4 347.1)"/>
<ellipse cx="657.2" cy="355.6" rx="2" ry="3" fill="#444" stroke-width="1.1" transform="rotate(20.6 657.2 355.6)"/>
<ellipse cx="687.3" cy="361.2" rx="0.8" ry="1" stroke-width="0.9"/>
</g>
<g id="small">
<g transform="translate(739.2 351.2) rotate(13)" stroke="#000" stroke-width="1.2">
<ellipse cx="-7.6" cy="0" rx="3.6" ry="8.4" fill="#222" stroke-width="1.2"/>
<path d="M-6.2,-8.3 L2.6,-8.7 C4.6,-8.6 5.8,-7.6 6.6,-6.9 C10.4,-6.2 12.0,-3.4 12.0,0.2 C12.0,3.8 10.4,6.6 6.6,7.3 C5.8,8 4.6,8.8 2.6,8.8 L-6.2,8.4 A3.6,8.4 0 0 1 -6.2,-8.3 Z" fill="#fff"/>
<path d="M-5.2,-8.3 A3.6,8.3 0 0 0 -5.2,8.4" stroke-width="1.8" stroke="#222"/>
<path d="M-2.4,-3.6 L4.6,-3.2 M-2.4,3.4 L4.6,3.6 M-2.4,-3.6 L-3.2,-8.2 M-2.4,3.4 L-3.0,8.2 M-2.4,-3.6 L-2.4,3.4" stroke-width="1.0"/>
<path d="M3.6,-8.4 C6.6,-6 6.8,5.8 3.6,8.5" stroke-width="2.0" stroke="#222"/>
<ellipse cx="8.6" cy="0.4" rx="2.7" ry="4.1" stroke-width="1.1"/>
</g>
<g transform="translate(762.2 340.1) rotate(13)" stroke="#000" stroke-width="1.2">
<ellipse cx="-7.6" cy="0" rx="3.6" ry="8.4" fill="#222" stroke-width="1.2"/>
<path d="M-6.2,-8.3 L2.6,-8.7 C4.6,-8.6 5.8,-7.6 6.6,-6.9 C10.4,-6.2 12.0,-3.4 12.0,0.2 C12.0,3.8 10.4,6.6 6.6,7.3 C5.8,8 4.6,8.8 2.6,8.8 L-6.2,8.4 A3.6,8.4 0 0 1 -6.2,-8.3 Z" fill="#fff"/>
<path d="M-5.2,-8.3 A3.6,8.3 0 0 0 -5.2,8.4" stroke-width="1.8" stroke="#222"/>
<path d="M-2.4,-3.6 L4.6,-3.2 M-2.4,3.4 L4.6,3.6 M-2.4,-3.6 L-3.2,-8.2 M-2.4,3.4 L-3.0,8.2 M-2.4,-3.6 L-2.4,3.4" stroke-width="1.0"/>
<path d="M3.6,-8.4 C6.6,-6 6.8,5.8 3.6,8.5" stroke-width="2.0" stroke="#222"/>
<ellipse cx="8.6" cy="0.4" rx="2.7" ry="4.1" stroke-width="1.1"/>
</g>
<g transform="translate(761.6 372.7) rotate(13)" stroke="#000" stroke-width="1.2">
<ellipse cx="-7.6" cy="0" rx="3.6" ry="8.4" fill="#222" stroke-width="1.2"/>
<path d="M-6.2,-8.3 L2.6,-8.7 C4.6,-8.6 5.8,-7.6 6.6,-6.9 C10.4,-6.2 12.0,-3.4 12.0,0.2 C12.0,3.8 10.4,6.6 6.6,7.3 C5.8,8 4.6,8.8 2.6,8.8 L-6.2,8.4 A3.6,8.4 0 0 1 -6.2,-8.3 Z" fill="#fff"/>
<path d="M-5.2,-8.3 A3.6,8.3 0 0 0 -5.2,8.4" stroke-width="1.8" stroke="#222"/>
<path d="M-2.4,-3.6 L4.6,-3.2 M-2.4,3.4 L4.6,3.6 M-2.4,-3.6 L-3.2,-8.2 M-2.4,3.4 L-3.0,8.2 M-2.4,-3.6 L-2.4,3.4" stroke-width="1.0"/>
<path d="M3.6,-8.4 C6.6,-6 6.8,5.8 3.6,8.5" stroke-width="2.0" stroke="#222"/>
<ellipse cx="8.6" cy="0.4" rx="2.7" ry="4.1" stroke-width="1.1"/>
</g>
<g transform="translate(742.2 385.2) rotate(13)" stroke="#000" stroke-width="1.2">
<ellipse cx="-7.6" cy="0" rx="3.6" ry="8.4" fill="#222" stroke-width="1.2"/>
<path d="M-6.2,-8.3 L2.6,-8.7 C4.6,-8.6 5.8,-7.6 6.6,-6.9 C10.4,-6.2 12.0,-3.4 12.0,0.2 C12.0,3.8 10.4,6.6 6.6,7.3 C5.8,8 4.6,8.8 2.6,8.8 L-6.2,8.4 A3.6,8.4 0 0 1 -6.2,-8.3 Z" fill="#fff"/>
<path d="M-5.2,-8.3 A3.6,8.3 0 0 0 -5.2,8.4" stroke-width="1.8" stroke="#222"/>
<path d="M-2.4,-3.6 L4.6,-3.2 M-2.4,3.4 L4.6,3.6 M-2.4,-3.6 L-3.2,-8.2 M-2.4,3.4 L-3.0,8.2 M-2.4,-3.6 L-2.4,3.4" stroke-width="1.0"/>
<path d="M3.6,-8.4 C6.6,-6 6.8,5.8 3.6,8.5" stroke-width="2.0" stroke="#222"/>
<ellipse cx="8.6" cy="0.4" rx="2.7" ry="4.1" stroke-width="1.1"/>
</g>
<g transform="translate(794 369.5) rotate(13)" stroke="#000" stroke-width="1.1">
<ellipse cx="-10.2" cy="0" rx="4.2" ry="12.4" fill="#fff" stroke-width="1.2"/>
<ellipse cx="-8.8" cy="0" rx="4.2" ry="12.4" fill="#fff" stroke-width="1.1"/>
<path d="M-7.4,-9.4 L1.0,-9.0 L3.0,-7.0 L14.5,-6.4 L14.5,6.6 L3.0,7.2 L1.0,9.4 L-7.4,9.8 A3.4,9.6 0 0 1 -7.4,-9.4 Z" fill="#fff" stroke-width="1.2"/>
<path d="M-5.6,-3.6 L1.8,-3.2 L1.8,4.2 L-5.6,4.6 Z M1.8,-3.2 L3.0,-7.0 M1.8,4.2 L3.0,7.2 M-5.6,-3.6 L-6.6,-9 M-5.6,4.6 L-6.4,9.4" stroke-width="1.0"/>
<path d="M5.4,-6.6 L15.2,-6.3 L15.2,-4.3 L5.4,-4.6 Z" fill="#fff" stroke-width="1.0"/>
<path d="M5.4,-2.8 L15.2,-2.5 L15.2,-0.5 L5.4,-0.8 Z" fill="#fff" stroke-width="1.0"/>
<path d="M5.4,1.2 L15.2,1.5 L15.2,3.5 L5.4,3.2 Z" fill="#fff" stroke-width="1.0"/>
<path d="M5.4,4.8 L15.2,5.1 L15.2,7.1 L5.4,6.8 Z" fill="#fff" stroke-width="1.0"/>
<path d="M5.4,-6.8 L5.4,7.0 M8.6,-4.4 L8.6,-2.6 M8.6,-0.5 L8.6,1.2 M8.6,3.4 L8.6,4.8" stroke-width="1.0"/>
<path d="M6.4,-4.2 L12,-4.0 M6.4,-0.2 L12,0 M6.4,3.6 L12,3.8" stroke-width="1.6" stroke="#222"/>
</g>
<g transform="translate(810.4 392.4) rotate(-58.2)" stroke="#000">
<path d="M0,-1.0 L25.4,-1.0 L25.4,1.0 L0,1.0 A1.4,1.4 0 1 1 0,-1.0 Z" fill="#fff" stroke-width="1.1"/>
</g>
<g transform="translate(852.6 393.8) rotate(13)" stroke="#000" stroke-width="1.2">
<ellipse cx="-14.8" cy="0" rx="5.6" ry="17.6" fill="#222" stroke-width="1.3"/>
<path d="M-13.2,-17.4 C-6,-18.4 6,-16.6 13.5,-13.2 C18.4,-11.4 20.6,-6 20.6,0 C20.6,6 18.4,11.4 13.5,13.4 C6,16.8 -6,18.4 -13.2,17.4 A5.6,17.4 0 0 1 -13.2,-17.4 Z" fill="#fff" stroke-width="1.3"/>
<path d="M-10.6,-17.2 A5.4,17.2 0 0 0 -10.6,17.2" stroke-width="1.1"/>
<path d="M-8.6,-16.9 A5.2,16.9 0 0 0 -8.6,16.9" stroke-width="0.9"/>
<path d="M-11.8,-13.4 L9.4,-10.4" stroke-width="1.2"/>
<path d="M-13.1,-8.2 L9.4,-6.6" stroke-width="1.2"/>
<path d="M-13.7,-2.6 L9.4,-2.2" stroke-width="1.2"/>
<path d="M-13.7,3.2 L9.4,2.6" stroke-width="1.2"/>
<path d="M-13,8.8 L9.4,7" stroke-width="1.2"/>
<path d="M-11.7,13.6 L9.4,11" stroke-width="1.2"/>
<ellipse cx="12.8" cy="0.2" rx="7.8" ry="12.2" fill="#fff" stroke-width="1.4"/>
<ellipse cx="13.6" cy="0.2" rx="6.4" ry="10.6" stroke-width="1.0"/>
</g>
<g transform="translate(696.6 422.6) rotate(13) scale(1.3)" stroke="#000" stroke-width="0.9">
<path d="M0,-3.0 L13,-3.0 A1.5,3.0 0 0 1 13,3.0 L0,3.0 Z" fill="#fff"/>
<path d="M3.5,-3 A1.5,3 0 0 1 3.5,3" stroke="#222" stroke-width="1.0"/>
<path d="M5,-3 A1.5,3 0 0 1 5,3" stroke="#222" stroke-width="1.0"/>
<path d="M6.5,-3 A1.5,3 0 0 1 6.5,3" stroke="#222" stroke-width="1.0"/>
<path d="M8,-3 A1.5,3 0 0 1 8,3" stroke="#222" stroke-width="1.0"/>
<path d="M9.5,-3 A1.5,3 0 0 1 9.5,3" stroke="#222" stroke-width="1.0"/>
<path d="M11,-3 A1.5,3 0 0 1 11,3" stroke="#222" stroke-width="1.0"/>
<ellipse cx="13" cy="0" rx="1.5" ry="3" fill="#fff" stroke-width="0.9"/>
<path d="M-6,-4.9 L0,-4.4 A2.2,4.6 0 0 1 0,4.6 L-6,4.9 A2.3,4.9 0 0 1 -6,-4.9 Z" fill="#fff"/>
<ellipse cx="-6" cy="0" rx="2.3" ry="4.9" fill="#666" stroke-width="1.0"/>
<path d="M-3.6,-4.7 A2.3,4.8 0 0 1 -3.6,4.7 M-1.6,-4.5 A2.3,4.7 0 0 1 -1.6,4.6" stroke-width="0.9"/>
</g>
<g transform="translate(100.4 552.6) rotate(-26)" stroke="#000" stroke-width="1.1">
<path d="M-10.5,0 L-4.5,-7.6 L-4.5,-3.9 L11,-3.9 L11,4.3 L-4.5,4.3 L-4.5,8 Z" fill="#fff"/>
<path d="M-10.5,0 L-11.3,-1.6 L-5.3,-9.2 L-4.5,-7.6 M-5.3,-9.2 L-5.3,-5.5 L-4.5,-3.9 M-5.3,-5.5 L10.2,-5.5 L11,-3.9" stroke-width="1.0"/>
</g>
</g>
<g id="labels">
<g class="lbl">
<text transform="translate(43.7 112.7) scale(0.71 1)" font-size="22.9" text-anchor="middle" stroke="#000" stroke-width="0.45" vector-effect="non-scaling-stroke">16</text>
<text transform="translate(13.5 129.9) scale(0.71 1)" font-size="22.9" text-anchor="middle" stroke="#000" stroke-width="0.45" vector-effect="non-scaling-stroke">16</text>
<text transform="translate(28 200.4) scale(0.71 1)" font-size="22.9" text-anchor="middle" stroke="#000" stroke-width="0.45" vector-effect="non-scaling-stroke">16</text>
<text transform="translate(65.8 291.1) scale(0.71 1)" font-size="22.9" text-anchor="middle" stroke="#000" stroke-width="0.45" vector-effect="non-scaling-stroke">14</text>
<text transform="translate(101 291.1) scale(0.71 1)" font-size="22.9" text-anchor="middle" stroke="#000" stroke-width="0.45" vector-effect="non-scaling-stroke">15</text>
<text transform="translate(155 234.9) scale(0.71 1)" font-size="22.9" text-anchor="middle" stroke="#000" stroke-width="0.45" vector-effect="non-scaling-stroke">13</text>
<text transform="translate(213.6 145.8) scale(0.71 1)" font-size="22.9" text-anchor="middle" stroke="#000" stroke-width="0.45" vector-effect="non-scaling-stroke">12</text>
<text transform="translate(173.6 178.1) scale(0.71 1)" font-size="22.9" text-anchor="middle" stroke="#000" stroke-width="0.45" vector-effect="non-scaling-stroke">12</text>
<text transform="translate(190.4 278.1) scale(0.71 1)" font-size="22.9" text-anchor="middle" stroke="#000" stroke-width="0.45" vector-effect="non-scaling-stroke">12</text>
<text transform="translate(238.4 318.4) scale(0.71 1)" font-size="22.9" text-anchor="middle" stroke="#000" stroke-width="0.45" vector-effect="non-scaling-stroke">11</text>
<text transform="translate(319 190.4) scale(0.71 1)" font-size="22.9" text-anchor="middle" stroke="#000" stroke-width="0.45" vector-effect="non-scaling-stroke">9</text>
<text transform="translate(369 193.2) scale(0.71 1)" font-size="22.9" text-anchor="middle" stroke="#000" stroke-width="0.45" vector-effect="non-scaling-stroke">8</text>
<text transform="translate(413.6 193.4) scale(0.71 1)" font-size="22.9" text-anchor="middle" stroke="#000" stroke-width="0.45" vector-effect="non-scaling-stroke">17</text>
<text transform="translate(340.5 351.9) scale(0.71 1)" font-size="22.9" text-anchor="middle" stroke="#000" stroke-width="0.45" vector-effect="non-scaling-stroke">10</text>
<text transform="translate(484 439.4) scale(0.71 1)" font-size="22.9" text-anchor="middle" stroke="#000" stroke-width="0.45" vector-effect="non-scaling-stroke">7</text>
<text transform="translate(653 435.8) scale(0.71 1)" font-size="22.9" text-anchor="middle" stroke="#000" stroke-width="0.45" vector-effect="non-scaling-stroke">6</text>
<text transform="translate(701.4 467.4) scale(0.71 1)" font-size="22.9" text-anchor="middle" stroke="#000" stroke-width="0.45" vector-effect="non-scaling-stroke">5</text>
<text transform="translate(740.6 323) scale(0.71 1)" font-size="22.9" text-anchor="middle" stroke="#000" stroke-width="0.45" vector-effect="non-scaling-stroke">4</text>
<text transform="translate(764.5 311.4) scale(0.71 1)" font-size="22.9" text-anchor="middle" stroke="#000" stroke-width="0.45" vector-effect="non-scaling-stroke">4</text>
<text transform="translate(763.5 412.9) scale(0.71 1)" font-size="22.9" text-anchor="middle" stroke="#000" stroke-width="0.45" vector-effect="non-scaling-stroke">4</text>
<text transform="translate(738.7 427) scale(0.71 1)" font-size="22.9" text-anchor="middle" stroke="#000" stroke-width="0.45" vector-effect="non-scaling-stroke">4</text>
<text transform="translate(786.5 414.8) scale(0.71 1)" font-size="22.9" text-anchor="middle" stroke="#000" stroke-width="0.45" vector-effect="non-scaling-stroke">3</text>
<text transform="translate(813 426.4) scale(0.71 1)" font-size="22.9" text-anchor="middle" stroke="#000" stroke-width="0.45" vector-effect="non-scaling-stroke">2</text>
<text transform="translate(847.4 445.8) scale(0.71 1)" font-size="22.9" text-anchor="middle" stroke="#000" stroke-width="0.45" vector-effect="non-scaling-stroke">1</text>
<text transform="translate(78.6 567) rotate(-24) scale(0.76 1)" font-size="17.5" text-anchor="middle" stroke="#000" stroke-width="0.5" vector-effect="non-scaling-stroke">FR.</text>
</g>
<g class="ld">
<line x1="43.5" y1="113.5" x2="43.5" y2="125.5"/>
<line x1="14" y1="130.5" x2="21.2" y2="143.6"/>
<line x1="28.3" y1="172" x2="27.3" y2="184"/>
<line x1="82.5" y1="241.6" x2="82.5" y2="262.4"/>
<line x1="65" y1="262.5" x2="100.4" y2="262.5"/>
<line x1="65.5" y1="262.4" x2="65.5" y2="273"/>
<line x1="100.5" y1="262.4" x2="100.5" y2="273"/>
<line x1="155.5" y1="200" x2="155.5" y2="217.4"/>
<line x1="211.5" y1="149.4" x2="211.5" y2="161.5"/>
<line x1="174.8" y1="179.6" x2="195.8" y2="190.6"/>
<line x1="174.8" y1="179.6" x2="185.3" y2="201.1"/>
<line x1="188.5" y1="246.4" x2="188.5" y2="259.5"/>
<line x1="236.5" y1="283" x2="236.5" y2="300.5"/>
<line x1="318.5" y1="193.7" x2="318.5" y2="220.6"/>
<line x1="316" y1="229" x2="315.6" y2="315.7"/>
<line x1="315.6" y1="315.5" x2="362.7" y2="315.5"/>
<line x1="362.5" y1="286.2" x2="362.5" y2="315.7"/>
<line x1="340.5" y1="316.5" x2="340.5" y2="333.3"/>
<line x1="369.5" y1="199" x2="369.5" y2="211.3"/>
<line x1="412.4" y1="198.4" x2="409.5" y2="255"/>
<line x1="484.5" y1="404" x2="484.5" y2="422"/>
<line x1="652.5" y1="393" x2="652.5" y2="418"/>
<line x1="700.5" y1="436" x2="700.5" y2="449.5"/>
<line x1="740.5" y1="326.8" x2="740.5" y2="341.4"/>
<line x1="763.5" y1="315.4" x2="763.5" y2="329.7"/>
<line x1="763.5" y1="383.4" x2="763.5" y2="396.4"/>
<line x1="738.5" y1="394.7" x2="738.5" y2="409"/>
<line x1="786.5" y1="385.5" x2="786.5" y2="398"/>
<line x1="812.5" y1="394.7" x2="812.5" y2="409"/>
<line x1="847.5" y1="415" x2="847.5" y2="428.5"/>
<line x1="48.5" y1="130.5" x2="64.6" y2="136.2" stroke-width="0.7"/>
<line x1="35.4" y1="153.7" x2="54.5" y2="160.2" stroke-width="0.7"/>
<line x1="35.4" y1="167.9" x2="50.5" y2="173.3" stroke-width="0.7"/>
<line x1="217.7" y1="166.2" x2="233.8" y2="171.2" stroke-width="0.7"/>
<line x1="202.5" y1="208.6" x2="211.6" y2="211" stroke-width="0.7"/>
<line x1="198.5" y1="240.7" x2="210.6" y2="244.3" stroke-width="0.7"/>
<line x1="326.2" y1="228.2" x2="351.4" y2="234.9" stroke-width="0.7"/>
</g>
</g>
</svg>
</body></html>
